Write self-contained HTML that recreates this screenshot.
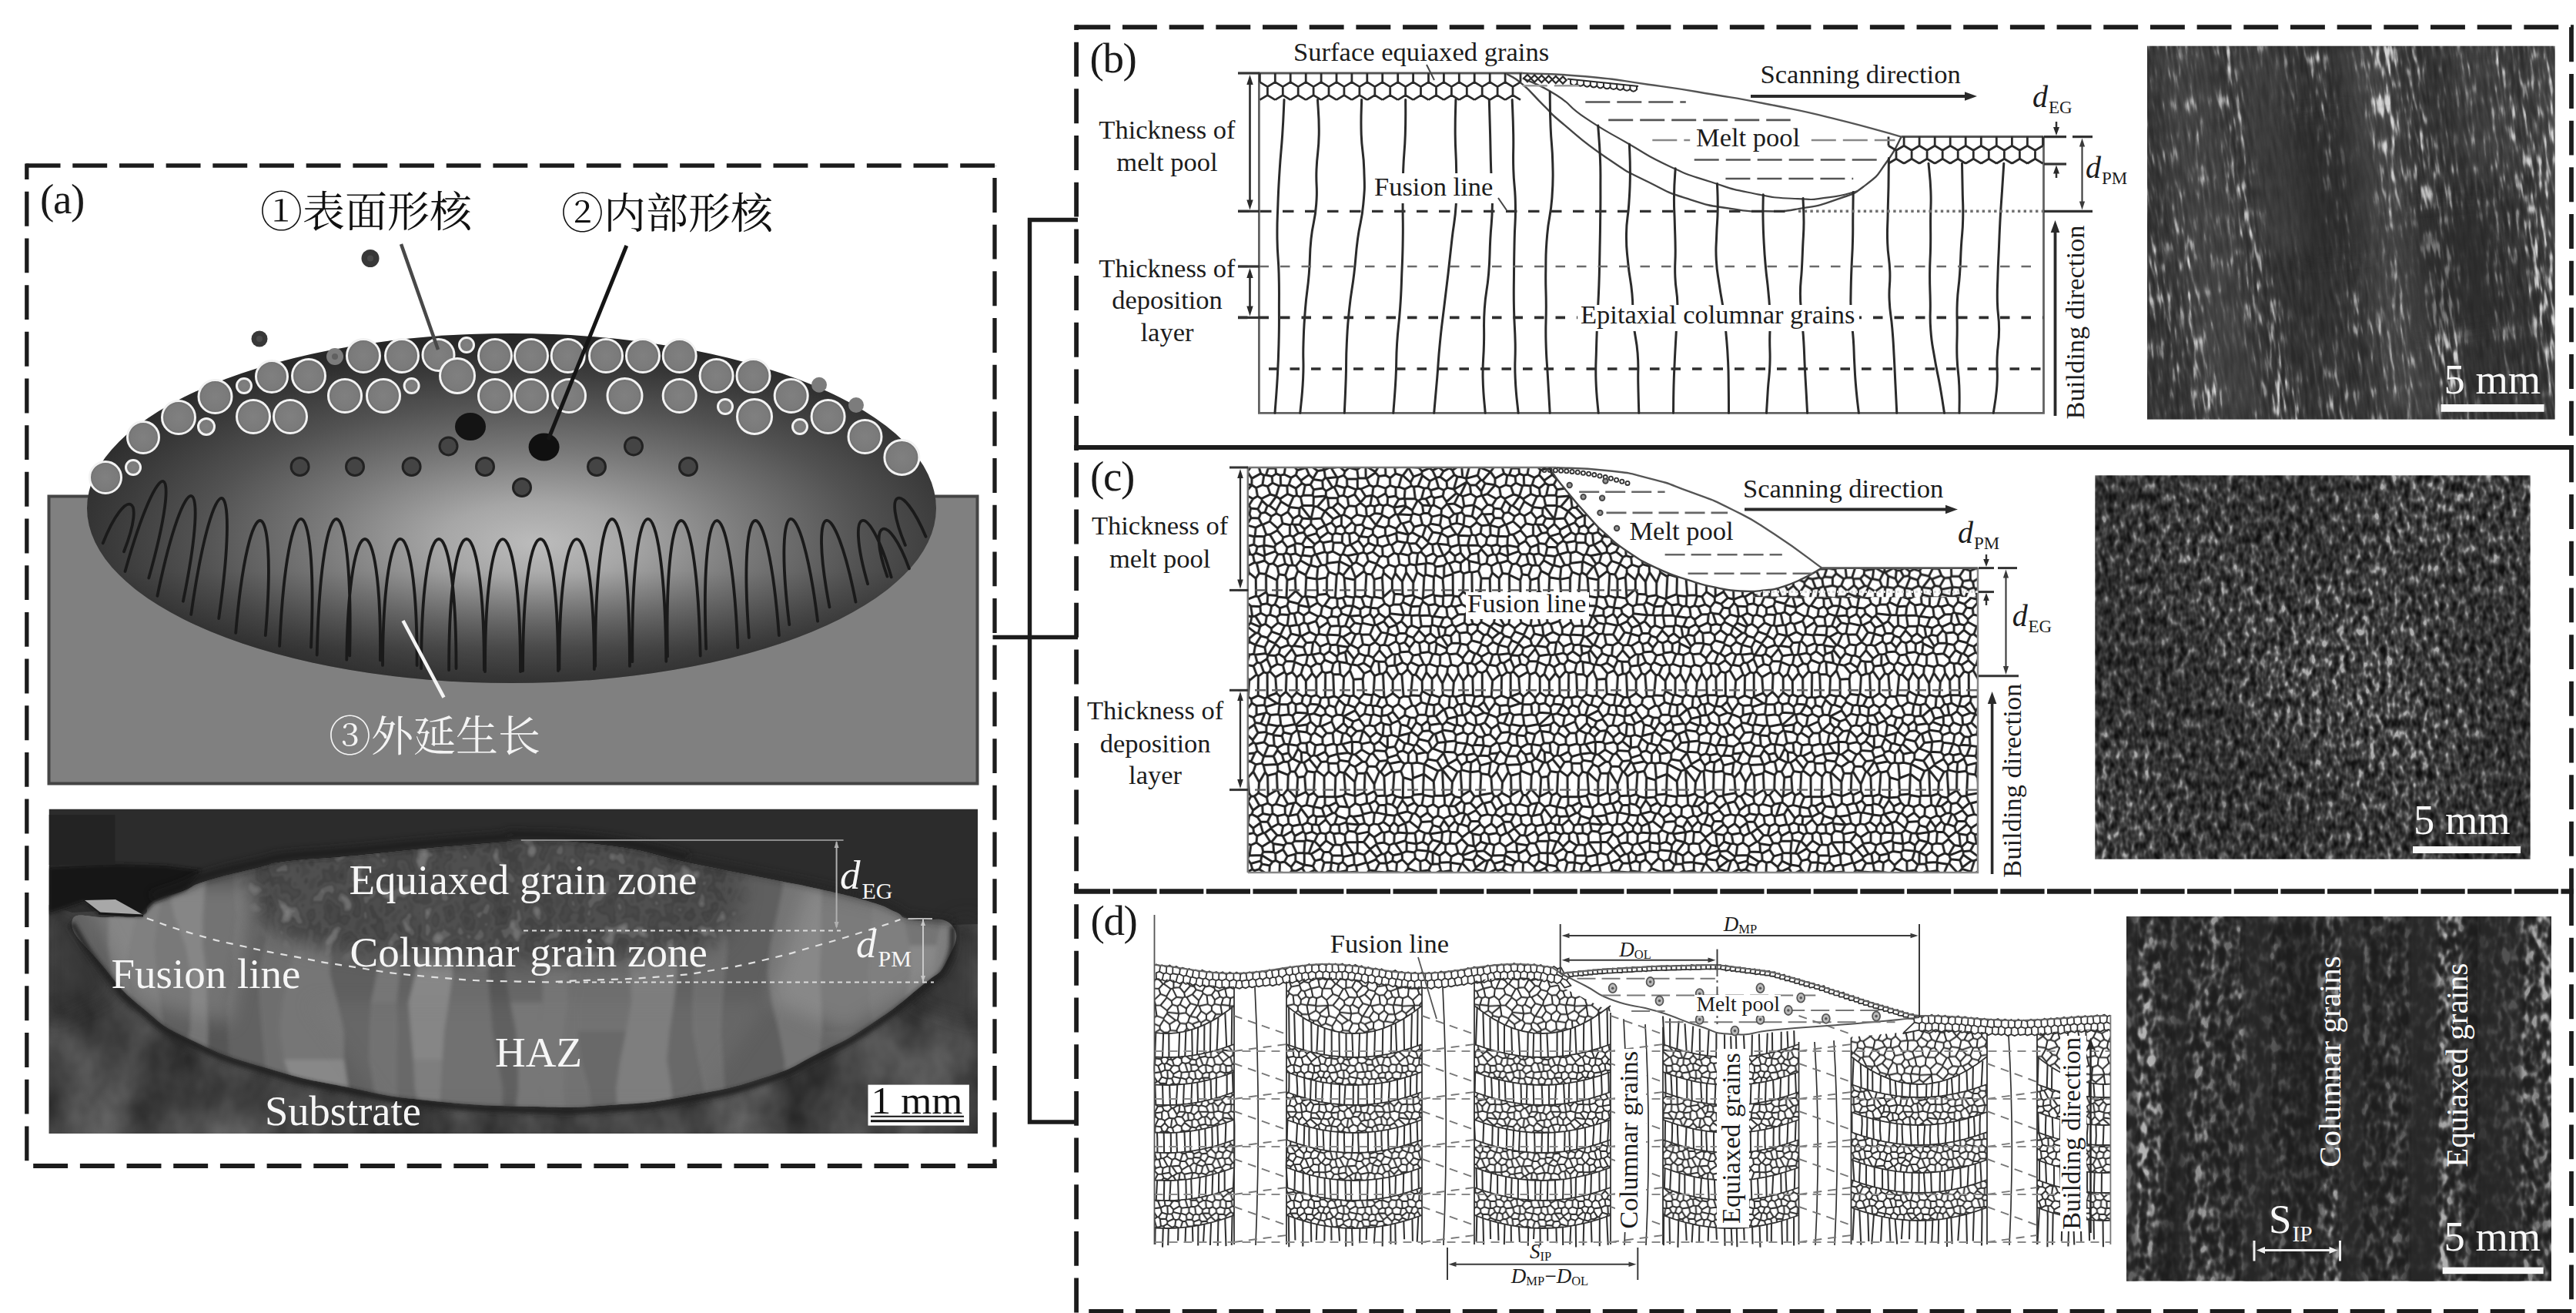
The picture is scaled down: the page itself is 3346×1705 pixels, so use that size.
<!DOCTYPE html>
<html><head><meta charset="utf-8"><title>Figure</title>
<style>html,body{margin:0;padding:0;background:#fff}svg{display:block}text{font-family:"Liberation Serif","Noto Serif CJK SC",serif}</style>
</head><body>
<svg width="3346" height="1705" viewBox="0 0 3346 1705">
<defs>
<radialGradient id="gEl" cx="0.52" cy="0.58" r="0.56" fx="0.53" fy="0.6"><stop offset="0" stop-color="#bcbcbc"/><stop offset="0.2" stop-color="#a6a6a6"/><stop offset="0.45" stop-color="#7a7a7a"/><stop offset="0.7" stop-color="#525252"/><stop offset="0.9" stop-color="#383838"/><stop offset="1" stop-color="#2c2c2c"/></radialGradient>
<linearGradient id="gElB" x1="0" y1="0" x2="0" y2="1"><stop offset="0" stop-color="#000" stop-opacity="0.12"/><stop offset="0.2" stop-color="#000" stop-opacity="0"/><stop offset="0.68" stop-color="#000" stop-opacity="0"/><stop offset="0.9" stop-color="#000" stop-opacity="0.3"/><stop offset="1" stop-color="#000" stop-opacity="0.34"/></linearGradient>
<radialGradient id="gB" cx="0.5" cy="0.5" r="0.5"><stop offset="0" stop-color="#808080"/><stop offset="0.8" stop-color="#7a7a7a"/><stop offset="1" stop-color="#6c6c6c"/></radialGradient>
<clipPath id="cAm"><rect x="63.5" y="1050.5" width="1206.5" height="421.5"/></clipPath>
<filter id="fSub" x="0" y="0" width="1" height="1" color-interpolation-filters="sRGB">
<feTurbulence type="fractalNoise" baseFrequency="0.012 0.009" numOctaves="4" seed="7" result="n"/>
<feColorMatrix in="n" type="matrix" values="0.36 0 0 0 0.09  0.36 0 0 0 0.09  0.36 0 0 0 0.09  0 0 0 0 1" result="g"/>
<feComposite in="g" in2="SourceGraphic" operator="in"/></filter>
<filter id="fLens" x="0" y="0" width="1" height="1" color-interpolation-filters="sRGB">
<feTurbulence type="fractalNoise" baseFrequency="0.016 0.0045" numOctaves="3" seed="11" result="n"/>
<feComponentTransfer in="n" result="p"><feFuncR type="discrete" tableValues="0.40 0.44 0.40 0.37 0.43 0.50 0.41 0.54 0.45 0.52 0.47 0.50"/></feComponentTransfer>
<feColorMatrix in="p" type="matrix" values="1 0 0 0 0  1 0 0 0 0  1 0 0 0 0  0 0 0 0 1" result="g"/>
<feGaussianBlur in="g" stdDeviation="1.6" result="gb"/>
<feComposite in="gb" in2="SourceGraphic" operator="in"/></filter>
<filter id="fEq" x="0" y="0" width="1" height="1" color-interpolation-filters="sRGB">
<feTurbulence type="fractalNoise" baseFrequency="0.05 0.04" numOctaves="2" seed="5" result="n"/>
<feComponentTransfer in="n" result="p"><feFuncR type="discrete" tableValues="0.19 0.21 0.24 0.27 0.25 0.30 0.27 0.37 0.44 0.48 0.5"/></feComponentTransfer>
<feColorMatrix in="p" type="matrix" values="1 0 0 0 0  1 0 0 0 0  1 0 0 0 0  0 0 0 0 1" result="g"/>
<feGaussianBlur in="g" stdDeviation="1.2" result="gb"/>
<feComposite in="gb" in2="SourceGraphic" operator="in"/></filter>
<filter id="bl6" x="-0.1" y="-0.3" width="1.2" height="1.6"><feGaussianBlur stdDeviation="5"/></filter>
<filter id="bl3" x="-0.1" y="-0.3" width="1.2" height="1.6"><feGaussianBlur stdDeviation="2.5"/></filter>
<filter id="bl12" x="-0.2" y="-0.5" width="1.4" height="2"><feGaussianBlur stdDeviation="12"/></filter>
<clipPath id="cLens"><path d="M93.6 1197.5C95.3 1180.6 115.9 1193.3 140 1191C164.1 1188.7 168.8 1194.3 184 1189C199.2 1183.7 182.7 1179.5 197 1171C211.3 1162.5 218.8 1164.2 237.7 1157C256.6 1149.8 242.1 1152 268 1144C293.9 1136 307.3 1133.7 335 1127C362.7 1120.3 340.5 1122.8 371.7 1118.8C402.9 1114.8 403.7 1116.5 452 1112C500.3 1107.5 499.1 1106.9 552.7 1102C606.3 1097.1 619.9 1096.7 653 1093.6C686.1 1090.5 639.2 1089.2 676.8 1090.5C714.4 1091.8 735.9 1090.6 794 1098.6C852.1 1106.6 841 1109.2 894.6 1120.4C948.2 1131.6 950.4 1131.5 995 1140.5C1039.6 1149.5 1026.3 1145.9 1062 1154C1097.7 1162.1 1102.1 1162.7 1129 1170.7C1155.9 1178.7 1148.4 1177.8 1162.7 1184C1177 1190.2 1163.3 1189.5 1182.8 1194C1202.3 1198.5 1223.5 1186.7 1236 1201C1248.5 1215.3 1240.4 1226.5 1229.7 1247.8C1219 1269.1 1222.9 1258.7 1196 1281C1169.1 1303.3 1164.7 1308.2 1129 1331.5C1093.3 1354.8 1097.7 1350.5 1062 1368.4C1026.3 1386.3 1039.6 1384 995 1398.6C950.4 1413.2 948.2 1413.3 894.6 1423C841 1432.7 848.6 1431.3 794 1435C739.4 1438.7 754.3 1438.7 690 1437C625.7 1435.3 616.2 1435.4 552.7 1428.7C489.2 1422 505.6 1422.7 452 1412C398.4 1401.3 405.2 1404.6 351.6 1388.5C298 1372.4 295.7 1373.2 251 1351.7C206.3 1330.2 215.3 1333.9 184 1308C152.7 1282.1 157.9 1284 133.8 1254.5C109.7 1225 91.9 1214.4 93.6 1197.5Z"/></clipPath>
<mask id="mEq"><path d="M330 1110C356.1 1086.7 371.3 1099.3 452 1090C532.7 1080.7 571.5 1070 676 1070C780.5 1070 833.7 1077.2 900 1090C966.3 1102.8 950.7 1095.8 960 1125C969.3 1154.2 963.1 1188.2 940 1215C916.9 1241.8 902.9 1231.8 861 1240C819.1 1248.2 804.3 1247.7 760.5 1250C716.7 1252.3 721.8 1251.2 673.3 1250C624.8 1248.8 604.3 1248.5 552.7 1245C501.1 1241.5 491.1 1240.4 452 1235C412.9 1229.6 411.1 1232.5 385 1222C358.9 1211.5 352.8 1216.1 340 1190C327.2 1163.9 303.9 1133.3 330 1110Z" fill="#fff" filter="url(#bl12)"/></mask>
<pattern id="pC" patternUnits="userSpaceOnUse" x="1620.8" y="607" width="316" height="566"><path d="M194.9 474l0.5 -8.1M194.9 474l11.9 1M195.4 466l8.9 -4.2M206.8 475.1l-2.3 -13.2M204.3 461.8l0.3 0.1M233.6 329.3l2.9 5.4M233.6 329.3l-8 6M225.6 335.3l1.4 7.3M227 342.6l9.1 -0.8M236.1 341.8l0.4 -7.1M150.5 486.3l7.4 -10.5M150.5 486.3l8.4 9.4M158.9 495.6l7.8 -6M167.3 488.6l-3.3 -8.3M167.3 488.6l-0.6 1.1M164 480.2l-6 -4.4M174.2 501.7l-7 4.1M174.2 501.7l-7.5 -12.1M158.9 495.6l-0.2 0.6M167.2 505.8l-8.5 -9.5M150.5 486.3l-8 0.3M142.5 486.6l-0.3 14M142.2 500.5l8.8 2.6M158.7 496.3l-7.6 6.9M166.7 508.9l0.5 -3.1M166.7 508.9l-11.6 5.4M151.1 503.1l2.6 9.9M155 514.2l-1.4 -1.2M166.7 508.9l4.2 4.9M155 514.2l2.8 8.8M157.8 523l7.8 0.9M170.9 513.8l-5.3 10.2M168 537.5l-1 -12.4M157.9 540.8l-2.7 -14.1M157.8 523l-2.7 3.6M165.7 524l1.3 1.1M178.4 538.3l1.2 -12.3M167 525.1l12.6 1M205.1 535.7l-2.4 -8.6M189.8 537.2l2.9 -11.7M202.7 527.1l-9.9 -1.5M192.7 525.5l0 0M181.9 523.7l-2.4 2.3M181.9 523.7l10.8 1.8M193.6 513.3l7.1 -4.2M193.6 513.3l-0.9 12.2M200.7 509.2l7.4 7.3M208.1 516.4l0.2 4.3M208.3 520.7l-5.6 6.4M204.7 484.5l1.7 2.4M204.7 484.5l2.1 -9.4M206.8 475.1l10.4 -0.4M206.4 486.9l12.5 1.8M217.2 474.7l1.7 14M140.7 517.3l12.9 -4.2M140.7 517.3l1.3 7.7M155.1 526.7l-10.9 1.8M142 525l2.1 3.5M26.4 529.1l1.4 -1.1M27.8 527.9l11.1 0.2M38.9 528.1l2.2 6.8M274 35.4l-5.8 11.8M274 35.4l-3.1 -2M270.9 33.4l-12.8 11.1M268.2 47.1l-8.7 0.7M258 44.5l0.5 3M258.6 47.5l1 0.4M261.5 65.9l-9.8 -3.9M261.5 65.9l6.5 -5.5M251.7 61.9l-0.6 -0.9M251.6 54.3l-0.5 6.8M251.6 54.3l7 -6.8M268 60.3l-8.5 -12.5M251.7 61.9l-2.2 13.3M251.1 61.1l-12 3M239.1 64.1l-2.1 8.9M237.1 73l12.5 2.2M104.3 84.3l-3.6 -9M104.3 84.3l-10.9 7.7M89.6 80.9l10.7 -5.8M89.6 80.9l-0.3 4.7M100.4 75.2l0.4 0.1M89.3 85.6l4.1 6.4M95.3 66.1l-13.2 1M95.3 66.1l5.1 9.1M82 73.3l0.2 -6.2M82 73.3l7.6 7.7M82.1 67.1l-12.5 -16.1M82.1 67.1l0 0M82.1 67.1l-11.1 -1.2M66.8 61.9l4.3 4M66.8 61.9l0.2 -8.7M67 53.1l2.6 -2.2M85 49.6l0.7 0.8M85 49.6l-14.2 -0.3M85.8 50.4l-3.7 16.6M70.9 49.3l-1.3 1.7M85.5 28.7l-4.1 -6.3M85.5 28.7l12 -1.8M97.5 26.8l-0.6 -9.6M97 17.2l-11.9 -1.8M81.4 22.3l3.7 -6.9M204.7 484.5l-13 4.2M206.4 486.9l-0.3 11.5M206.1 498.4l-5.7 2.6M200.4 501l-8.8 -12.3M206.1 498.4l10.5 1.5M200.7 509.2l-0.4 -7.8M208.1 516.4l9.6 -9M216.6 499.9l1 7.5M200.4 501l-0.1 0.3M194.9 474l-4.5 2.5M190.4 476.5l-0.5 11.4M206.8 475.1l0 0M191.7 488.7l-1.8 -0.8M211.4 537.5l11.3 -10M227.9 539.5l-5.2 -12M208.3 520.7l14.5 5.3M222.8 526l-0.1 1.5M224.2 524.6l-0.2 -13.1M224.2 524.6l10.7 -1.5M234.9 523.1l3.3 -7.2M238.2 515.9l-7.2 -6.7M231 509.2l-7.1 2.4M222.8 526l1.4 -1.4M217.7 507.4l6.3 4.1M157 473.1l0.8 -7.5M157 473.1l-15.3 3M157.7 465.6l-6 -3.5M151.7 462.1l-7.5 1.9M144.3 464l-0.1 0.1M144.2 464l-4.9 9.2M141.7 476.1l-2.3 -2.9M142.5 486.6l-0.2 -0.2M157.9 475.8l-1 -2.7M142.4 486.4l-0.7 -10.3M144.2 528.5l-3.9 8.5M38.9 528.1l2.2 -2.2M53.6 535l0.5 -7.8M41.1 525.9l13.1 1.3M27.8 527.9l0.7 -10.9M36.2 510.4l5.5 2.9M36.2 510.4l-4 1.8M41.1 525.9l0.6 -12.6M32.1 512.2l-3.7 4.9M104 536.5l-4.5 -9.3M99.5 527.2l-3.7 -1.3M88 534.4l3.5 -7.9M95.8 525.9l-4.4 0.6M211.7 179.9l-10.5 -5M211.7 179.9l5.3 -12.3M201.2 175l2 -7.1M203.2 167.8l11.5 -2.1M216.9 167.6l-2.2 -1.9M207.7 208.4l-2.7 7M207.7 208.4l5.1 -3.1M205 215.3l2.6 3.1M212.8 205.2l9.7 3.9M214.9 221.1l-7.3 -2.6M214.9 221.1l7.4 -9.3M222.3 211.8l0.2 -2.7M198.3 177.9l2.9 -2.9M198.3 177.9l4.6 13.8M202.9 191.7l7.6 -0.2M211.7 179.9l0.4 0.8M212 180.7l-1.6 10.7M184.7 189.7l-1.2 2.8M184.7 189.7l18.1 2.1M183.5 192.4l9.7 11.2M193.1 203.6l6.3 -3.9M202.7 191.8l-3.3 7.9M188.7 178.1l-4.7 2.4M188.7 178.1l9.6 -0.2M202.9 191.7l-0.1 0.1M184.1 180.5l0.6 9.1M196.2 215.4l8.8 -0.1M196.2 215.4l-3.3 -11.1M207.7 208.4l-8.2 -8.6M192.9 204.4l0.2 -0.8M212.8 205.2l-0.3 -12.6M210.5 191.4l2.1 1.2M179.1 195.5l4.4 -3M179.1 195.5l-8.7 -5.9M184.1 180.5l-6.2 -3.7M170.4 189.5l-1.7 -6.4M168.7 183.1l9.1 -6.3M174.5 142.6l-10.5 2.8M174.5 142.6l1.5 25.8M164.1 145.4l0.1 22.7M164.2 168l11.1 2.1M176.1 168.4l-0.8 1.7M176.4 136.8l-0.2 -5.7M176.4 136.8l-1.9 5.8M160.9 138.9l6.4 -13.3M160.9 138.9l3.2 6.5M176.3 131.2l-9 -5.6M245.9 116l-5 -4.5M245.9 116l-4.4 9.5M241.5 125.5l-9.5 -1.6M232 123.9l-0.9 -7.9M241 111.6l-9.9 4.4M267.8 28.5l16 -9.2M267.8 28.5l3 4.9M274 35.4l2 0.4M283.9 19.3l-7.9 16.5M273.2 87.8l-2.7 -1.1M273.2 87.8l7.5 -12.2M270.5 86.7l-7.5 -10.9M280.7 75.6l-0.5 -1M280.2 74.6l-9 -2.2M271.2 72.4l-7.6 1.8M263.6 74.2l-0.6 1.6M261.5 65.9l2.1 8.4M268 60.3l4.2 -0.3M272.3 60.1l-1.1 12.4M249.6 75.2l3.3 5.1M252.9 80.3l10.1 -4.5M253.9 114.4l-6.7 -15.1M253.9 114.4l1 0.3M263.6 103.5l-3.1 -3.1M263.6 103.5l-1.8 5.1M255 114.7l6.8 -6.1M247.3 99.3l13.2 1.1M252.9 80.3l-1.5 5.2M270.5 86.7l-10.9 3.8M251.3 85.5l8.3 5M84.2 36.2l1.3 -7.6M84.2 36.2l1.2 2.1M97.5 26.8l4 3.9M85.5 38.3l15.9 -1.3M101.5 30.7l-0.1 6.3M104.3 84.3l5.7 3.2M100.7 75.3l8.1 -3.8M110.1 87.5l3.5 -2.3M113.6 85.3l0.8 -7.4M108.8 71.5l5.5 6.4M154.3 112.6l2.2 8.8M154.3 112.6l8 -3.2M156.5 121.4l10.6 3.7M167.1 125.1l4.2 -8.7M162.3 109.4l9 7M181.7 116.7l-6.3 -2.1M181.7 116.7l1.2 9.5M182.8 126.2l-6.5 5M167.2 125.5l-0.2 -0.4M175.3 114.6l-4 1.8M162.5 86.6l-6 4.3M162.5 86.6l5.9 5.1M156.5 90.9l0.2 7.2M156.6 98l9.5 4.1M168.3 91.7l0.2 9M166.1 102.1l2.4 -1.5M162.4 80.6l0.1 5.9M162.4 80.6l-10.7 -2.6M151.7 78l-5 11.4M146.7 89.4l9.8 1.4M174.7 103.2l-6.2 -2.6M174.7 103.2l0.6 11.5M162.3 109.4l3.8 -7.3M162.4 80.6l4 -5.4M178.8 88.1l-10.5 3.6M178.8 88.1l-0.4 -9.5M166.4 75.2l12 3.3M55.2 394.9l-2.7 4.5M55.2 394.9l6.2 0.2M52.4 399.3l-0.6 18.5M61.3 395.1l3.5 7.3M64.9 402.4l-1.4 24.7M51.9 417.8l10.4 10.9M62.3 428.8l1.2 -1.7M73.8 401.3l-8.9 1.1M73.8 401.3l1.5 20.2M63.5 427.1l11.8 -5.6M116.9 384.1l1.7 11.1M116.9 384.1l-12.1 0.2M118.6 395.2l-4.6 6.1M104.8 384.3l0.3 10.5M113.9 401.4l-8.8 -6.6M73.8 401.3l3.3 -6.9M75.3 421.4l3.5 4.3M77.1 394.4l9.8 1.7M86.9 396l-1.3 26.6M85.6 422.7l-6.8 3.1M138.9 426.6l0.1 -18.1M138.9 426.6l-12.1 -3.1M139 408.5l-13.4 -12.7M126.9 423.5l-2 -26.9M124.8 396.7l0.7 -0.8M142.2 397.2l-3.3 11.3M142.2 397.2l9.8 -0.3M139.2 427.1l12.1 -4.7M139.2 427.1l-0.3 -0.5M151.3 422.4l0.8 -25.4M67.3 74l-7.2 0.3M67.3 74l6.4 6.2M60.1 74.3l5.7 11.1M65.8 85.4l7 -1M72.8 84.4l1 -4.2M82 73.3l-8.2 6.9M82.1 67.1l0 0M71 65.9l-3.7 8.1M76 89.6l13.3 -4M76 89.6l-3.2 -5.3M90.6 4.5l-10.7 -8.2M90.6 4.5l-5.8 10.1M76.7 -1l3.3 -2.8M76.7 -1l-1 1.2M84.9 14.6l-5.4 -5.2M75.7 0.3l3.8 9.1M67 53.1l-12.8 -1.5M70.9 49.3l-2.4 -10.8M59.5 37.7l4.2 -1.3M59.5 37.7l-5.8 13M54.2 51.7l-0.5 -1M63.7 36.5l4.8 2.1M84.2 36.2l-12.5 0M81.4 22.3l-6.8 0.6M71.7 36.2l2.8 -13.3M85.5 38.3l-0.4 11.3M71.7 36.2l-3.2 2.3M-1.2 -10.6l-13.4 10.4M20.9 10.4l-4.1 -2.5M20.9 10.4l2.8 -0.6M16.8 7.9l-2.5 -8.5M23.7 9.7l2.9 -9.1M14.3 -0.6l8.2 -4.7M26.6 0.7l-4.1 -6M14.3 -0.6l-7.9 -3.6M43.5 -4.1l5.3 3.3M43.5 -4.1l-6.9 4.1M48.8 -0.8l-1.6 9.8M36.6 0l-0.5 1.1M36.1 1.1l0.5 6.9M36.6 8l5.7 2.4M47.2 9l-4.8 1.4M59.1 -2.9l-10.3 2.1M59.1 -2.9l0 -8.6M30.5 -9.5l6.1 9.5M26.6 0.7l9.5 0.4M23.7 9.7l7.7 2.1M31.4 11.9l5.3 -3.8M31.4 11.9l0.6 8.2M42.8 23l-2.1 1.1M42.8 23l-0.4 -12.5M40.7 24.1l-8.7 -4.1M20.9 10.4l-1.9 12.3M18.9 22.6l6.8 2M25.7 24.7l6.3 -4.6M66.8 61.9l-8 4.6M54.2 51.7l-2.3 6.2M51.9 57.8l6.9 8.6M60.1 74.3l-2.9 -1M58.8 66.5l-1.5 6.8M51.5 34.4l8 3.3M51.5 34.4l-9.6 6.4M53.7 50.7l-10.6 -6.5M41.9 40.9l1.2 3.3M23.9 87.2l4.8 -0.1M23.9 87.2l-2.4 2.6M21.5 89.8l-0.4 11.1M28.7 87.2l7.7 13M36.4 100.2l-1.7 3.3M34.7 103.5l-13.6 -2.5M-12.9 143.7l11.3 0.1M-1 171.2l-0.6 -27.3M-1 171.2l-7.5 -1.8M218.9 488.7l0.1 0.2M216.6 499.9l2.6 -3.1M219 488.9l0.2 8M188.7 503.8l-6.3 -5.4M188.7 503.8l-0.8 7.1M187.9 510.9l-7.9 3.4M178 502l1.8 12.1M178 502l4.3 -3.7M180 514.2l-0.2 -0.2M200.3 501.3l-11.6 2.5M184.2 490.5l5.7 -2.6M184.2 490.5l-1.8 7.8M193.6 513.3l-5.7 -2.5M181.9 523.7l-1.9 -9.5M174.2 501.7l3.9 0.4M170.9 513.8l8.9 0.3M177.1 487.1l7.1 3.5M177.1 487.1l-9.8 1.5M289.1 395.7l-0.4 23.7M289.1 395.7l-0.1 -0.1M288.7 419.4l-10.4 6.7M289 395.6l-11.3 -2.7M277.7 392.9l-1.6 1.5M278.3 426.1l-2.1 -31.7M252.7 392.5l1.4 33.5M252.7 392.5l12.9 16.1M254.1 426l1.1 0.8M255.2 426.8l9.4 -3M264.6 423.7l1 -15.1M252.6 392.2l6.9 -5.5M252.6 392.2l0.2 0.3M259.5 386.7l12.9 8.6M265.7 408.6l6.7 -13.4M234.9 523.1l4.6 5.7M239.9 537l-0.4 -8.2M238.2 515.9l1.9 -0.7M240.1 515.2l8.3 -0.5M248.4 514.7l2.4 9.1M239.5 528.8l11.3 -5.1M233.6 329.3l0.5 -5.7M225.6 335.3l-6.8 -4.3M234.1 323.6l-3 -2.4M231 321.2l-9.6 0.1M218.8 331l-0.8 -5.6M221.4 321.3l-3.5 4.1M305.2 350.2l-6.5 -0.6M305.2 350.2l1.1 10.7M298.7 349.6l-4.6 10.7M306.4 360.9l-12.2 -0.6M314.8 346.8l-6.2 0.9M314.8 346.8l7.6 7.2M315.3 362.5l-8.6 -1.2M315.3 362.5l7.9 -5.3M305.2 350.2l3.3 -2.4M306.4 360.9l0.3 0.4M286 347l-1.7 11.6M286 347l6.7 -3.2M284.3 358.6l7.4 3.3M298.7 349.6l-6 -5.8M294.1 360.3l-2.4 1.7M241.7 322.5l0.2 -13.8M241.7 322.5l2.5 0.7M244.2 323.2l10.5 -9.2M254.7 314l-6.6 -7.5M248 306.5l-6.2 2.2M234.1 323.6l7.6 -1.1M231 321.2l2.1 -13.4M233.2 307.7l0.9 -0.4M234.1 307.3l7.8 1.4M236.5 334.6l13.6 -2.2M250.1 332.4l-5.9 -9.3M250.1 332.4l2.7 2.2M252.8 334.6l4.7 -4.2M255.3 314.1l4.6 12.1M255.3 314.1l-0.6 -0.1M257.5 330.3l2.3 -4.1M234.1 307.3l2.9 -11M239.1 295l-2.1 1.3M239.1 295l10.2 3.6M249.4 298.6l-1.3 7.9M255.9 438.2l-8.4 3.8M255.9 438.2l4.7 2.4M254.6 456l8.3 -4M254.6 456l-7.7 -3.8M247 452.1l0.6 -10.1M260.6 440.6l2.4 11.3M241.3 346.1l2.3 -0.1M241.3 346.1l-6.6 9.7M234.7 355.8l4.3 9.4M238.9 365.2l1.7 -0.2M240.7 365.1l5.9 -7.5M246.6 357.6l-3 -11.6M241.3 346.1l-5.1 -4.3M253 341l-0.8 1.4M253 341l-0.2 -6.4M243.6 346l8.6 -3.7M259.5 386.7l0.6 -1.5M277.5 386.8l0.3 6.2M277.5 386.8l-5.8 -8.1M272.3 395.2l3.9 -0.8M260.1 385.2l11.6 -6.6M252.6 392.2l-0.1 0M245.7 381l6.8 11.2M245.7 381l8.6 -10.4M260.1 385.2l-5.9 -14.6M271.1 357.2l-1.5 -2M271.1 357.2l-2.5 12.7M269.5 355.1l-12.4 1.1M268.6 369.9l-13.1 -0.6M255.5 369.3l1.4 -12.8M257.2 356.2l-0.2 0.3M279.2 371.6l4.7 -12.8M279.2 371.6l-7.1 2.4M283.9 358.8l-12.8 -1.6M272 374l-3.5 -4.1M254.2 370.6l0 -0.3M254.3 370.3l1.3 -1M272 374l-0.4 4.6M240.7 365.1l13.6 5.3M246.6 357.6l10.3 -1.1M252.2 342.3l5 13.9M279.3 336.6l-7.6 -2.7M279.3 336.6l0.9 7.2M280.2 343.8l-9.8 3.9M269.9 335.4l1.8 -1.6M269.9 335.4l-3 7.7M266.9 343.1l3.5 4.5M284.5 331.1l-5.2 5.5M284.5 331.1l10.5 4.3M286 347l-5.9 -3.3M292.7 343.8l2.4 -8.5M284.3 358.6l-0.4 0.2M269.5 355.1l0.8 -7.5M271.5 323.5l0.2 10.3M271.5 323.5l-11.6 2.7M257.5 330.3l12.4 5.1M253 341l13.9 2.1M198.8 394.3l-8.6 2M198.8 394.3l3 8.2M190.2 396.2l-2 28.2M201.1 429.3l0.3 -0.2M201.1 429.3l-9 -2.2M192.1 427.1l-3.9 -2.6M201.8 402.5l-0.4 26.6M200.9 432.3l6.1 7.8M200.9 432.3l-7 10.9M193.9 443.2l0.6 6.8M207.5 446.8l-0.5 -6.8M207.5 446.8l-12.8 3.2M194.7 450l-0.3 -0.1M201.1 429.3l-0.2 3M192.1 427.1l-4.2 11M187.9 438.1l6 5M210 459.3l-5.5 2.6M210 459.3l4 -9.4M204.3 461.8l-9.5 -11.8M214.1 449.8l-6.6 -3M189.8 460.8l5.6 5.2M189.8 460.8l0.9 -8.6M190.7 452.2l3.7 -2.3M245.7 381l-11.9 -2.1M252.4 392.2l-5.4 2M247 394.2l-17.5 -9.1M229.5 385.1l4.3 -6.2M238.9 365.2l-5 6.1M233.8 378.9l0.2 -7.6M144.2 464l-15.6 -1.5M139.3 473.2l-8.9 -1.3M128.6 462.5l1.9 9.5M176 460.2l-6.5 3.7M176 460.2l8.5 6.2M169.5 463.9l5 9.3M184.5 466.4l-0.2 5.8M184.3 472.2l-7.2 2.2M177.1 474.4l-2.7 -1.2M163.2 462.6l6.3 1.3M163.2 462.6l1.3 -13.5M179.8 450.9l-13.1 -2.8M179.8 450.9l-3.9 9.3M164.4 449l2.3 -0.9M189.8 460.8l-5.3 5.7M190.7 452.2l-10.9 -1.3M179.8 450.9l0 0M164 480.2l10.5 -7M163.2 462.6l-5.4 3M190.4 476.5l-6.1 -4.3M177.1 487.1l0.1 -12.7M315.3 362.5l-0.9 9.4M314.4 371.9l-1.4 2.8M306.7 361.2l-4.8 12.6M313 374.7l-11.1 -0.8M314.4 371.9l10.9 -1.2M217.2 474.7l4.7 -3.8M227.5 486.1l-8.5 2.8M227.5 486.1l2.3 -11.4M229.8 474.7l-7.9 -3.7M236.7 475.9l15.9 -2.3M236.7 475.9l-0.9 -1M252.6 473.6l-3.2 -6.3M249.4 467.3l-9 -2.7M235.8 474.9l4.6 -10.3M210 459.3l11.8 9.4M221.8 468.6l0 2.3M18.2 503.4l-1.4 7.5M18.2 503.4l13.9 8.8M28.5 517l-10.3 -2.1M18.2 514.9l-1.4 -4M26.4 529.1l-11.5 -7.3M18.2 514.9l-3.2 6.8M10.4 536l-1.6 -12.5M14.9 521.7l-6.2 1.7M142 525l-12.5 1.1M129.5 526l0.3 10.4M118.3 515.1l-1.9 10.8M118.3 515.1l-9.6 -2.2M108.7 512.9l0 0M108.7 512.9l-1.4 10.7M107.3 523.7l8.3 3.1M115.7 526.8l0.7 -0.9M99.5 527.2l7.8 -3.6M99.2 513l-3.4 12.9M99.2 513l9.5 -0.1M117.1 536.3l-1.4 -9.5M129.5 526l-1.2 -2.5M128.4 523.5l-12 2.4M128.4 523.5l0.8 -5.3M118.3 515.1l5 -2.8M123.3 512.3l5.9 5.9M142.2 500.5l-4.6 2.3M140.7 517.3l-2.4 -1.7M137.6 502.8l0.7 12.8M138.3 515.6l-9.1 2.6M142.4 486.4l-15.7 0.5M130.4 472l-4.3 5M126.7 486.9l-0.5 -9.9M75.4 528.5l-1.1 6.5M75.4 528.5l11.7 -5.9M87.1 522.7l4.3 3.8M75.4 528.5l-4.6 -8.3M62.3 524.2l8.5 -4M62.3 524.2l6.6 12.3M54.2 527.2l3.4 -4M62.3 524.2l-4.8 -0.9M99.2 513l-3.5 -4.3M84.6 517.7l2.8 -7M84.6 517.7l2.5 4.9M95.7 508.7l-8.3 2M196.5 229.7l1.6 10.3M196.5 229.7l7.2 -2.6M203.7 227.1l6.5 6.9M198.1 240l11.3 -1M209.4 239l0.9 -5.1M196.2 215.4l-3.7 3.6M207.7 218.5l-3.9 8.6M192.5 219l0.1 6.8M192.6 225.8l3.9 3.8M214.9 221.1l2 4.5M217 225.6l-6.7 8.4M214.7 244.1l8.1 -1.3M214.7 244.1l-5.3 -5.1M222.8 228.2l-5.9 -2.7M222.8 228.2l1.6 12.7M224.5 240.9l-1.7 1.9M195.2 113l-5.1 -2.1M195.2 113l1.8 12.9M190.2 110.9l-8.5 5.8M182.8 126.2l9.2 3.1M197 125.9l-4.9 3.5M227.5 170l1.5 -28.1M227.5 170l13.5 -5.4M241 164.6l0.6 -22.3M241.6 142.3l-10.7 -3.2M230.8 139.1l-1.9 2.8M225.4 206.3l-2.9 2.8M225.4 206.3l12.2 -0.1M237.5 206.2l-0.3 9.3M222.3 211.8l8.2 8.3M237.3 215.5l-6.8 4.5M222.8 228.2l6.8 -3.3M229.7 225l0.9 -4.9M223.5 192.4l-0.8 -0.6M223.5 192.4l12.9 -0.5M222.7 191.8l1.3 -11.7M236.4 191.9l-2 -12.9M234.5 179l-7 -4.8M227.5 174.3l-3.5 5.9M225.4 206.3l-1.9 -13.9M212.5 192.6l10.2 -0.8M237.5 206.2l1.9 -1.8M239.8 194.1l-0.4 10.4M239.8 194.1l-3.4 -2.2M212 180.7l12 -0.6M226.8 170.9l0.7 -0.9M226.8 170.9l0.7 3.4M243.3 177.4l-0.9 -11M243.3 177.4l-8.8 1.6M242.4 166.3l-1.4 -1.8M226.8 170.9l-9.8 -3.3M239.8 194.1l1.6 -0.8M243.3 177.4l5.5 3.2M241.4 193.3l7.3 -12.7M242.4 166.3l11.4 1.1M253.8 167.5l-0.3 12.2M248.7 180.6l4.8 -0.9M142.2 397.2l-3 -8.4M125.6 395.8l7 -10.4M139.2 388.8l-6.7 -3.3M203.9 321.7l6.6 3.1M203.9 321.7l-7.7 5.4M210.5 324.8l-3.1 11.2M196.3 327.1l-0.4 1.6M195.8 328.7l2.9 5.2M207.5 336l-8.7 -2.1M218.8 331l-6.2 9.5M218 325.3l-7.4 -0.5M212.5 340.5l-5.1 -4.4M239.3 274.7l-0.2 20.3M239.3 274.7l-7.4 -8.7M237 296.3l-10.4 -5.8M226.6 290.5l-0.3 -13.2M226.2 277.3l5.7 -11.3M245.8 267.9l0.7 -9M245.8 267.9l-6.5 6.8M246.5 258.9l-10.7 -3.8M235.8 255.1l-3.9 2M231.9 266l-0.1 -8.9M170.7 395l-4.1 -6.6M170.7 395l-6.5 16.5M153.9 394.9l10.4 16.6M153.9 394.9l2.2 -6.9M166.6 388.4l-10.5 -0.5M152.1 396.9l1.8 -2.1M149 381.9l-9.8 6.9M149 381.9l4.4 0.5M156 387.9l-2.6 -5.6M177 401.2l10.8 -6.9M177 401.2l-4.3 -5.9M187.8 394.3l-3.7 -9.5M172.7 395.3l8.9 -13.2M184.1 384.8l-2.5 -2.7M148.8 195.5l0.1 6.6M148.8 195.5l9.9 -5.3M148.9 202.1l14.5 3.1M158.7 190.2l4.7 5.9M163.4 196.1l1.6 8.2M165.1 204.3l-1.6 0.9M170.4 189.5l-7 6.5M159.6 182.3l9.1 0.8M159.6 182.3l-0.9 7.9M146.1 192.1l-13 1.1M146.1 192.1l2.7 3.4M133.1 193.2l5.7 8.6M148.9 202.1l-1.6 1.6M138.8 201.8l8.5 1.8M158.7 216.8l-11.5 0.4M158.7 216.8l4.8 -11.6M147.2 217.1l-2.2 -1.5M147.3 203.7l-2.3 12M176.7 199.8l6.3 8.2M176.7 199.8l-9.4 4.8M167.3 204.6l6.1 9.5M173.4 214.1l8 1.5M183 208l-1.6 7.6M192.9 204.4l-9.9 3.7M179.1 195.5l-2.4 4.4M165.1 204.3l2.3 0.3M158.7 216.8l6.6 9.5M165.3 226.3l8.2 -12.2M192.5 219l-10.8 -3M181.7 216l-0.2 -0.3M276.5 110.8l6.2 8.1M276.5 110.8l-7.5 4.2M282.7 118.8l-6.2 5.2M276.5 124l-7.5 -2.4M269.1 115l-0.1 6.7M288.7 89l-3.1 12M288.7 89l-15.3 -0.7M285.6 101.1l-9.9 0.2M273.4 88.3l0.8 11.9M274.2 100.2l1.4 1.1M291.1 87.1l4.5 1.6M291.1 87.1l-2.4 2M285.8 101.2l-0.2 -0.1M285.8 101.2l13.1 -0.3M295.6 88.6l3.3 12.2M288.9 78l-8.2 -2.4M288.9 78l2.2 9M273.2 87.8l0.3 0.5M263.6 103.5l10.7 -3.3M260.5 100.4l-0.9 -9.9M261.7 108.6l7.3 6.4M276.5 110.8l-0.9 -9.5M154.3 112.6l-3.8 -2.3M156.6 98l-6.2 5.9M150.4 110.3l0 -6.4M146.7 89.4l-1.6 0.6M145 90.1l-1.5 4.9M150.5 103.9l-6.9 -8.9M253.9 114.4l-8 1.6M241 111.6l-1.3 -11.4M247.3 99.3l-1.3 -0.8M239.6 100.2l6.3 -1.7M251.3 85.5l-0.3 0.3M246 98.5l5 -12.7M237.1 73l-3.2 3.1M233.8 76.1l6.3 7.9M240.1 84l10.8 1.8M241.5 125.5l2.3 3.6M231 124.8l-0.2 14.3M231 124.8l0.9 -0.8M241.6 142.3l1.5 -3.2M243.8 129.1l-0.7 10.1M254.9 166.2l-1.1 1.3M254.9 166.2l-1.7 -21.4M243.1 139.1l10.2 5.7M255.3 314.1l6 -2.8M249.4 298.6l4 -3.4M261.3 311.3l1 -13.4M262.3 297.9l-8.9 -2.7M245.8 267.9l7 12.6M253.4 295.2l-0.6 -14.7M273 307.3l-5.7 5.7M273 307.3l3.9 0.6M276.9 307.9l2.1 13.7M267.3 312.9l5 9.6M272.3 322.5l6.7 -0.9M261.3 311.3l6.1 1.6M271.5 323.5l0.9 -1M284.5 331.1l-3 -9.1M281.5 322l-2.5 -0.5M272.3 60.1l5.6 -2M268.2 47.1l10.6 6M278.9 53.2l-1 4.9M280.2 74.6l1.1 -12.2M281.3 62.4l-3.4 -4.4M208.4 -2.2l-17.8 2.4M208.4 -2.2l-1.2 -5.8M194.1 -8.6l-4.4 6.9M189.6 -1.7l1 1.9M192.8 85.4l1.2 10.4M192.8 85.4l-12.2 4.2M194.1 95.8l-7.4 5.2M180.6 89.7l3.2 10M186.7 101l-2.8 -1.3M178.8 88.1l1.8 1.6M174.7 103.2l9.1 -3.5M190.2 110.9l-3.5 -9.9M178.3 78.5l4.4 -3.3M182.7 75.3l10 4.1M192.8 85.4l0.8 -1.6M192.7 79.4l1 4.5M231 124.8l-12.1 1.4M231.1 116l-6.1 -6.4M219 126.2l1.9 -14.7M225 109.5l-4.1 2M97 17.2l3.6 -3.8M100.6 13.4l2.2 0.6M101.5 30.7l8.5 -4.8M102.8 14.1l7.2 11.9M151.7 78l-3.2 -4M138.7 84.1l6.4 5.9M138.7 84.1l1.2 -8.8M148.5 74l-8.6 1.3M146.3 46.1l-5.9 4.3M146.3 46.1l7.1 5.4M153.4 51.5l1 11.4M154.4 62.9l-1.8 1M152.6 63.9l-10.9 -2.6M140.5 50.4l1.3 10.9M146.3 46.1l0 -0.6M129.4 39.2l9.3 -4.2M129.4 39.2l1.6 10.6M131 49.8l9.5 0.6M138.7 35l7.7 10.6M129 24.1l11.5 4.6M129 24.1l-0.3 -9.4M128.7 14.7l13.8 0.4M142.4 15l0.1 12.2M142.6 27.2l-2.1 1.5M124.4 36.2l1.8 -9.4M124.4 36.2l-6.1 1.4M118.3 37.6l-6 -12M126.2 26.8l-11.5 -3.6M114.7 23.2l-2.4 2.4M129 24.1l-2.8 2.6M129.4 39.2l-5 -3M138.7 35l1.8 -6.2M131 49.8l-4.4 4.3M126.6 54.1l-9.8 -8.3M116.9 45.8l-0.4 -6.2M116.5 39.7l1.8 -2M128.7 14.7l-4 -4.5M116.8 13.1l7.9 -3M116.8 13.1l-2.1 10.1M102.8 14.1l12.9 -1.5M109.9 25.9l2.4 -0.3M116.8 13.1l-1.2 -0.5M239.1 64.1l-4.4 -4.7M233.8 76.1l-2.6 0.4M231.2 76.5l-4.4 -2.3M234.8 59.4l-6.6 -0.1M228.1 59.3l-4.3 2.8M223.8 62.1l3 12M208.4 -2.2l0.7 1.4M224.9 -12.1l-2.9 12.4M222 0.3l-12.9 -1.1M226.3 5l-4.3 -4.7M226.3 5l-0.4 3.3M209.1 -0.8l-0.3 1.1M208.8 0.3l6.5 11.8M215.2 12.1l10.6 -3.9M103.3 111.3l7 -2.3M103.3 111.3l-0.3 13.2M110.3 109l10.3 5.3M120.6 114.3l-1.5 7.6M103 124.5l15.6 -2.1M119 121.8l-0.5 0.6M140.6 123.2l2.9 -10.8M140.6 123.2l-4.3 2.1M136.3 125.3l-7 -10.6M129.3 114.8l13.3 -2.8M143.4 112.4l-0.8 -0.4M150.6 129l5.9 -7.5M150.6 129l-10 -5.7M150.4 110.3l-7 2.1M143.6 95l-10 5.5M133.5 100.4l9.1 11.6M150.6 129l0.4 5.8M160.9 138.9l-6.9 -0.6M150.9 134.7l3.1 3.5M161.8 169.4l-2.4 12.6M161.8 169.4l-9.4 -3.1M152.4 166.3l-4.8 2.5M147.6 168.8l4.1 11.8M159.4 182l-7.6 -1.4M159.6 182.3l-0.2 -0.3M177.8 176.8l-2.6 -6.7M164.2 168l-2.3 1.3M154 138.3l-1.6 28M137.7 169l1.5 -1.3M137.7 169l-1.2 10.7M136.5 179.7l9.6 4.4M146.1 184.1l5.7 -3.5M139.2 167.6l8.4 1.2M146.1 192.1l0 -8M103.3 111.3l-3.2 -1.7M109.5 95.6l1.7 2M109.5 95.6l-12 2.2M110.3 109l0.9 -11.3M100.1 109.6l-2.6 -11.8M76 89.6l0 0M76 89.7l11 10.2M93.4 92l0.3 3.2M87 99.8l6.6 -4.6M110.1 87.5l-0.6 8.1M93.7 95.2l3.8 2.5M68 383.1l1.9 -0.2M68 383.1l-6.7 12M77.1 394.4l-4.2 -11M69.9 382.8l2.9 0.6M86.9 396l2.7 -2.1M89.9 391l-0.3 3M89.9 391l-10 -12.2M72.8 383.4l7 -4.6M68 383.1l-9.4 -4.8M69.9 382.8l-0.5 -13.1M69.5 369.7l-4.2 -4.3M65.2 365.4l-6.5 12.8M53.3 320.8l-11.8 1.5M53.3 320.8l-1.3 -13.1M52.1 307.8l-10.8 -0.1M41.2 307.6l-1.5 13M39.7 320.6l1.9 1.7M62.3 318.2l-4.2 4.2M62.3 318.2l-0.1 -10.5M58.1 322.5l-4.8 -1.6M57.5 304.4l4.7 3.4M57.5 304.4l-5.5 3.4M87.9 360.8l-2 12.8M87.9 360.8l-7 -4.9M76.3 357.8l4.6 -2M76.3 357.8l1 12.8M77.3 370.7l4.4 4.8M85.9 373.6l-4.1 1.9M69.5 369.7l7.9 0.9M68.4 358l7.9 -0.2M68.4 358l-3.8 3.2M65.2 365.4l-0.6 -4.3M79.9 378.8l1.9 -3.3M95.3 382.6l7.7 -0.9M95.3 382.6l-6.1 -7.9M89.1 374.8l11.4 -5.6M103 381.7l1.7 -5.9M104.7 375.8l-4.1 -6.6M104.8 384.3l-1.9 -2.6M89.9 391l5.4 -8.3M89.6 394l9.7 7.1M105.2 394.8l-5.9 6.3M85.9 373.6l3.2 1.2M87.9 360.8l9.4 -1.5M100.6 369.2l0.3 -7.7M97.2 359.3l3.6 2.3M139.5 436.2l6.3 2.7M139.5 436.2l-7.6 5.7M145.8 438.9l3.8 11.4M131.9 441.9l0.1 10.1M149.2 451.5l0.5 -1.3M149.2 451.5l-12.8 2M136.4 453.5l-4.3 -1.5M164.4 449l-2.7 -1.6M151.7 462.1l-2.5 -10.6M161.7 447.4l-12 2.9M144.3 464l-7.9 -10.4M151.3 422.4l2.9 3.1M164.2 411.5l0.2 8.8M154.1 425.5l10.2 -5.2M139.2 427.1l0.3 9.1M145.8 438.9l9 -2.9M154.1 425.5l0.7 10.6M161.7 447.4l-3.9 -10.5M157.8 436.9l-2.9 -0.9M76.7 -1l-11.3 -12.4M59.1 -2.9l5.1 6.6M75.7 0.3l-11.5 3.4M68.9 17l-6.4 -7.3M68.9 17l1.5 3.6M70.4 20.6l-7.9 6.4M62.5 27.1l-9.2 -4.7M53.3 22.4l2.9 -9M56.2 13.4l6.3 -3.7M79.5 9.4l-10.6 7.6M64.2 3.7l-1.7 6M85.1 15.4l-0.2 -0.8M74.5 22.9l-4.1 -2.3M63.7 36.5l-1.2 -9.4M51.5 34.4l-0.5 -10.6M51.1 23.9l2.2 -1.5M51.1 23.9l-8.3 -0.9M47.2 9l9.1 4.4M-5 34.5l11.8 6.3M-4.7 48.3l6.2 1.1M1.5 49.3l5.3 -8.5M12.6 37.2l-1.8 -10.7M12.6 37.2l-5.8 3.6M10.8 26.5l-5.7 -3.7M5.1 22.9l-10.1 11.7M6.4 -4.2l-7.1 9.9M-14.6 -0.1l13.5 5.8M-1.1 5.7l0.4 0M16.8 7.9l-11.7 6.5M-0.7 5.7l5.9 8.7M18.9 22.6l-8.2 3.9M5.1 22.9l-0.1 -0.2M5.2 14.3l-0.2 8.3M4.9 22.7l-12.8 -1.9M-1.1 5.7l-9.9 11.2M51.9 57.8l-8.8 5.2M43.1 44.1l-6.4 11.8M36.7 55.9l0.4 3.8M37.1 59.7l6 3.3M25.3 49.7l-6.9 -6.6M25.3 49.7l2.8 -0.2M28.2 49.6l8.7 -12.1M17.8 40.5l11.5 -5.6M17.8 40.5l0.7 2.6M29.3 35l7.4 2.3M36.7 37.2l0.2 0.2M41.9 40.9l-5 -3.4M36.7 55.9l-8.6 -6.3M12.6 37.2l5.2 3.3M25.7 24.7l3.6 10.3M3.7 52.9l9.3 1.2M3.7 52.9l-2.1 -3.6M13 54.1l5.5 -11M40.7 24.1l-4 13.1M19.3 74.4l9.2 -4.4M19.3 74.4l-1 -0.5M18.3 73.9l-4.1 -7.8M30.6 63.5l-2.1 6.4M30.6 63.5l-8.2 -5.4M14.2 66.1l2.6 -6.5M22.4 58.2l-5.5 1.4M37.1 59.7l-6.6 3.8M25.3 49.7l-3 8.4M13 54.1l3.9 5.5M3.7 52.9l-1.5 7.5M14.2 66.1l-10.1 -0.7M2.1 60.4l2 5M7.8 242.2l2 -11.8M7.8 242.2l1.7 1M9.8 230.4l12.1 3.2M22 233.6l1.4 8M9.6 243.3l13.9 -1.7M9.6 243.3l2.6 9.9M12.2 253.2l4.4 1M26 243.9l-2.6 -2.3M26 243.9l-1 4.8M25 248.6l-8.4 5.5M115.4 139.6l2.4 -3.2M115.4 139.6l-10.2 -4M103 124.5l-1.8 2.2M117.8 136.4l0.8 -13.9M105.2 135.6l-4 -8.9M-5.9 124.7l6.1 3.3M-1.6 143.9l3.1 -7.2M0.2 128l1.2 8.6M42.1 234.6l-1.9 7.4M42.1 234.6l-6.4 -5.4M35.7 229.2l-9.4 14.7M40.2 242l-4.1 2.4M26.2 243.8l9.8 0.6M53 230.5l-10.9 4.1M53 230.5l3.9 2.3M57.3 235.6l-0.4 -2.8M57.3 235.6l-9.7 11.5M47.6 247.1l-7.5 -5.1M26 243.9l0.3 -0.1M30 260.3l-5.1 -11.7M30 260.3l8.1 -4.9M38.2 255.4l-2.2 -11M35.3 228.5l-8.6 -3.9M35.3 228.5l7.6 -9.9M30.9 213.1l11.5 4.2M30.9 213.1l-5.4 8.2M25.5 221.3l1.2 3.3M42.9 218.6l-0.5 -1.3M22 233.6l4.8 -9M35.7 229.2l-0.4 -0.7M53 230.5l-1.9 -6.9M51.1 223.6l-8.2 -5.1M9.8 230.4l0 0M9.8 230.4l7.3 -11.6M17.1 218.8l8.4 2.5M3.5 201.8l-4.3 4.9M3.5 201.8l12.4 5.3M-0.8 206.6l11.1 8.3M15.8 207.1l-2.1 7.6M13.7 214.7l-3.5 0.2M-4.9 216.5l3.5 -9.6M-4.9 216.5l6.6 5.6M1.7 222.1l8.6 -7.1M-1.4 206.8l0.6 -0.2M17.4 205.4l5.5 -2.3M17.4 205.4l-1.6 1.6M22.9 203.2l7.7 5.7M30.6 208.9l0.3 4.2M17.1 218.8l-3.3 -4.1M2.3 226.6l-0.6 -4.5M2.3 226.6l7.5 3.8M5.1 194l-1.6 7.8M5.1 194l-10.7 -2.9M-1.4 206.8l-11.4 -6.2M227.5 486.1l7.3 4.5M219.2 496.8l15 1.4M234.7 490.6l-0.5 7.6M236.7 475.9l3.3 7.9M229.8 474.7l6 0.2M234.7 490.6l5.2 -6.8M231 509.2l3.3 -10.9M240.1 515.2l0.1 -15.3M240.3 499.8l-6 -1.6M234.3 498.3l0 0M268.8 427.4l7.8 1.6M268.8 427.4l-5.9 12.1M262.9 439.6l6.2 0.3M269.1 439.8l8.9 -6.8M278.1 433l-1.4 -4M278.3 426.1l-1.7 2.9M264.6 423.7l4.2 3.7M255.9 438.2l-0.7 -11.5M260.6 440.6l2.3 -1.1M250.8 523.7l1.9 1.6M252.8 525.3l0.1 8.7M208.1 358.6l7.9 2.7M208.1 358.6l1.6 -13.4M216 361.4l2.8 -2M218.8 359.4l3.1 -6.6M221.9 352.8l-0.8 -3.6M221.2 349.3l-8.3 -5.8M209.7 345.2l3.3 -1.8M203.9 358.5l4.1 0.1M203.9 358.5l-8.3 -6.4M195.7 352.1l-0.5 -2M195.2 350.1l1.4 -1.5M196.6 348.5l13 -3.3M214.8 365.8l1.2 -4.5M214.8 365.8l4.5 6.3M219.2 372.2l11.8 -2.3M231 369.9l-12.2 -10.5M234.7 355.8l-12.8 -3M233.9 371.3l-2.9 -1.4M227 342.6l-5.9 6.6M212.5 340.5l0.4 3M196.6 348.5l2.2 -14.6M294.2 371.5l4.3 4M294.2 371.5l-10 2.2M284.2 373.8l0.3 8.3M298.2 378.1l0.3 -2.6M298.2 378.1l-8 4.8M290.2 382.9l-5.7 -0.8M291.7 361.9l2.5 9.6M301.9 373.8l-3.4 1.7M279.2 371.6l5 2.2M277.5 386.8l7 -4.7M289.1 395.7l12 -1.5M301.1 394.2l0.8 -7.3M289 395.6l1.1 -12.8M301.9 386.9l-3.8 -8.8M288.7 419.4l5.7 7.9M294.5 427.3l-5.2 8.3M278.1 433l3.5 3.6M289.3 435.6l-7.7 1.1M263 452l4.4 1.8M269.1 439.8l5.6 9.5M274.8 449.3l-7.4 4.4M281.6 436.7l-1.2 11.8M274.8 449.3l5.6 -0.9M178.1 426.1l1.6 1M178.1 426.1l-10.6 0.6M179.7 427.1l0.6 9.4M170.5 438.7l8.5 -0.5M170.5 438.7l-4.9 -6.1M179 438.2l1.2 -1.7M165.5 432.6l1.9 -5.9M177 401.2l1 24.9M187.8 394.3l2.4 1.9M188.2 424.5l-8.5 2.6M172.7 395.3l-2 -0.2M164.4 420.3l3 6.4M187.9 438.1l-7.6 -1.6M179.8 450.9l-0.8 -12.7M166.7 448.1l3.7 -9.3M157.8 436.9l7.8 -4.3M201.4 429l11.5 -1.1M207 440.1l9.4 -4.7M212.9 427.9l3.5 7.4M217.2 448.9l-3.2 0.9M217.2 448.9l4 -9M221.3 439.9l-4.8 -4.6M229.5 385.1l-0.3 0.2M219.2 372.2l0.6 11.1M229.2 385.4l-9.4 -2.1M128.4 456.5l-0.5 4.4M128.4 456.5l-12.2 -4.2M127.8 460.9l-9.4 3.3M116.2 452.3l-3.5 10.7M112.7 463l5.7 1.3M128.6 462.5l-0.7 -1.6M132 452l-3.7 4.5M126.1 477l-6.9 -2.3M119.3 474.7l-0.8 -10.5M107.7 465.1l-1.1 7.8M107.7 465.1l5.1 -2.1M106.6 472.9l4.8 2.8M111.4 475.7l7.8 -1M301.1 394.2l1.9 3.4M303 397.6l10 1.3M301.9 386.9l13.3 -3.4M313 398.9l2.2 -15.4M313 374.7l4.1 6.9M320 382.1l-2.9 -0.5M315.2 383.5l1.9 -1.9M240.9 455.5l-7.4 -7.2M240.9 455.5l-1.8 4.2M239 459.6l-13.6 0.8M233.5 448.2l-9.8 6.6M223.7 454.8l1.7 5.7M254.6 456l0.1 2.5M247 452.1l-6.1 3.3M254.7 458.5l-5.3 8.8M240.4 464.6l-1.4 -4.9M221.8 468.6l3.6 -8.2M217.2 448.9l6.5 5.9M41.7 513.3l6 -1.3M57.6 523.2l-1.4 -4.3M47.7 512l8.5 6.9M79.1 501.1l3.1 0.9M79.1 501.1l-5.7 -0.1M84.6 517.7l-11.2 -1.7M82.2 502l5.1 8.7M73.4 516.1l0 -15.1M70.8 520.2l2.3 -3.8M73.4 516.1l-0.4 0.3M56.2 518.9l5.8 -7.8M73 516.4l-11.1 -5.2M47.7 512l3.6 -7.1M51.3 504.9l10.7 -3M61.9 511.1l0 -9.2M74.2 485.2l-13.8 0M74.2 485.2l-1.3 15.4M72.9 500.7l-9.7 -0.2M63.3 500.5l-5.8 -12.3M57.4 488.2l2.9 -2.9M73.4 501l-0.5 -0.3M61.9 502l1.3 -1.5M36.2 510.4l-0.4 -9M51.3 504.9l-5.6 -8.8M35.8 501.4l9.9 -5.3M75.5 483.9l-0.8 -8M75.5 483.9l9.5 1.8M74.7 475.9l8.9 -2.8M85 485.7l1.8 -0.2M86.8 485.5l3.8 -8.6M90.6 476.8l-6.9 -3.7M79.1 501.1l5.9 -15.4M74.2 485.2l1.3 -1.3M62.3 428.8l0.1 6.2M76.2 438.4l2.7 -12.6M76.2 438.4l-6.7 2.3M62.4 434.9l7.1 5.8M72.2 472.6l-1.6 -8M72.2 472.6l-11.2 6M58 465.7l10.1 -2.2M58 465.7l-0.6 6.5M70.6 464.6l-2.5 -1M57.5 472.3l3.6 6.4M60.4 485.2l0.7 -6.6M74.7 475.9l-2.5 -3.2M3.9 514.5l2 7.2M3.9 514.5l-4.2 -5.6M-0.4 509l-4 1.7M5.9 521.7l-9.3 5.2M16.8 510.9l-13 3.6M8.8 523.5l-2.9 -1.8M18.2 503.4l0 0M2 503.9l16.2 -0.5M2 503.9l-1.3 1.4M0.7 505.4l-1.1 3.6M4.1 539.5l-7.5 -12.6M106.1 499.4l5.2 -8.4M106.1 499.4l-7.3 0.1M111.4 491l-9.8 -6.3M101.6 484.7l-8 7.7M98.9 499.6l-4.9 -4.7M93.6 492.4l0.4 2.5M108.7 512.9l0.8 -8.9M109.5 504l-3.3 -4.6M95.7 508.7l3.1 -9.1M106.6 472.9l-5.3 3M101.2 475.9l0.3 8.8M111.4 475.7l2.7 14M114.1 489.7l-2.8 1.3M94.5 474.5l6.7 1.4M94.5 474.5l-4 2.3M86.8 485.5l6.8 6.9M82.2 502l11.7 -7.1M124.1 505.6l13.5 -2.8M124.1 505.6l-1.4 -1.7M122.7 503.9l-1.2 -13.2M137.6 502.8l-11.1 -15.7M126.6 487.1l-5.1 3.6M123.3 512.3l0.8 -6.8M137.6 502.8l0 0M109.5 504l13.2 -0.1M114.1 489.7l7.3 0.9M126.7 486.9l-0.1 0.2M205.7 136.1l-0.3 -7.8M205.7 136.1l9.3 13.5M217.9 127l-7.8 -1.4M217.9 127l2 9.3M210.1 125.7l-4.7 2.6M219.9 136.3l-5 13.3M219 126.2l-1.1 0.8M229 141.9l-9.1 -5.6M214.7 165.7l0.2 -16.1M187.5 146.2l3.9 -9M187.5 146.2l0 11.7M191.4 137.2l9.1 11.1M187.5 157.9l2.8 6.4M190.3 164.3l10.8 0.6M201.1 164.9l-0.5 -16.7M176.4 136.8l11.1 9.4M192 129.3l-0.6 7.9M176.1 168.4l11.5 -10.5M197 125.9l8.5 2.4M205.7 136.1l-5.1 12.2M188.7 178.1l1.6 -13.8M203.2 167.8l-2.1 -2.9M224.5 240.9l10.7 -1.5M229.7 225l5.9 4.2M235.5 229.1l-0.3 10.3M222.8 242.8l5.8 12.7M235.8 255.1l4.3 -12.6M231.8 257.1l-3.3 -1.6M235.2 239.4l4.8 3.1M246.5 258.9l3.2 -2.3M249.9 243.7l-0.3 12.9M249.9 243.7l-6.3 -1.7M240.1 242.5l3.5 -0.5M257.1 208.5l-7.3 -2.3M257.1 208.5l8.7 -4.8M249.8 206.2l4.5 -10.9M265.8 203.8l-1.4 -6.3M264.5 197.5l-5.1 -3.9M259.3 193.6l-5.1 1.7M239.4 204.4l7.4 2.5M246.9 207l2.9 -0.8M241.4 193.3l12.9 2M257.9 182.2l-4.3 -2.5M257.9 182.2l1.5 11.3M149 381.9l-9.7 -9.3M139.4 372.6l8.6 -6.1M153.5 382.4l5 -9.5M148 366.5l10.5 6.3M131.4 381.9l3.8 -9.1M131.4 381.9l-12.2 -1.6M116.4 372.3l2.8 7.9M116.4 372.3l13.7 -1.8M130.1 370.5l5.2 2.2M132.5 385.5l-1.1 -3.6M135.5 372.6l3.9 0.1M135.5 372.6l-0.2 0.2M116.9 384.1l2.4 -3.9M118.6 395.2l6.3 1.4M116.2 372.1l-11.6 3.6M116.2 372.1l0.2 0.2M188.3 317.2l0.1 -5.5M188.3 317.2l8 9.9M203.9 321.7l0.6 -7.2M204.5 314.5l-8.9 -7.2M188.4 311.7l7.3 -4.4M188.3 317.2l-6.7 4.4M195.8 328.7l-8.7 3.8M181.5 321.6l5.7 11M214 270l4 -1.2M214 270l-6.4 -7.8M217.9 268.9l4.5 -11M222.4 257.9l-10.8 -5M207.5 262.2l0 -5.5M211.6 252.8l-4 4M226.2 277.3l-8.3 -8.4M228.6 255.5l-6.2 2.3M214.7 244.1l-3.1 8.7M198.1 240l-1.9 2.1M196.2 242.1l4.9 11.1M201.1 253.2l6.5 3.6M192.6 225.8l-10.4 6M181.7 216l-4.5 14.2M182.2 231.8l-4.9 -1.7M165.4 226.9l-0.1 -0.5M165.4 226.9l6.2 4.5M171.6 231.4l5.6 -1.2M170.6 381.4l-8.3 -10.4M170.6 381.4l10.3 -1M178.9 368.6l3 8.5M178.9 368.6l-14.4 -1.2M164.5 367.5l-2.2 3.6M180.9 380.4l1 -3.3M166.6 388.4l4 -7M158.5 372.9l3.8 -1.8M181.6 382.1l-0.7 -1.7M208.7 371.7l-7.1 -3.8M208.7 371.7l-0.4 11.4M199.4 381.8l-5.3 -8.6M199.4 381.8l4 3M201.5 367.9l-6.4 1.9M203.4 384.8l4.8 -1.7M195.1 369.8l-1.1 3.4M203.9 358.5l-2.4 9.4M214.8 365.8l-6.1 5.9M212.9 384.5l6.9 -1.3M212.9 384.5l-4.7 -1.4M184.1 384.8l15.3 -3M181.9 377.1l12.2 -4M198.8 394.3l4.6 -9.5M191 362.5l4.6 -10.4M191 362.5l4.1 7.3M120 219.3l-0.8 -1.2M120 219.3l3.5 1M119.3 218.1l1 -11.2M126.6 205.7l-6.3 1.3M126.6 205.7l5.5 3.1M132 208.8l2.8 5.1M123.5 220.3l11.3 -6.4M138.8 201.8l-6.8 7M145 215.6l-5.2 1.1M134.8 213.9l5 2.8M123.5 220.3l8.9 10.5M139.9 216.8l-5.8 13.6M132.5 230.8l1.5 -0.3M147.2 217.1l2.4 12.6M165.4 226.9l-7.4 4.3M158 231.1l-8.4 -1.4M134 230.4l9.1 4.9M149.6 229.7l-6.5 5.6M126.6 205.7l4.7 -12.7M120.3 207l-1.9 -1.5M118.4 205.5l-1.2 -10.9M117.2 194.6l4.7 -4.8M121.9 189.9l9.4 3M133.1 193.2l-1 -0.5M136.5 179.7l-0.2 0.2M136.3 179.9l-4.2 12.8M132 192.7l-0.7 0.2M57.3 235.6l5.2 9.1M56.9 232.8l2.8 -1.4M72.5 233.4l-12.7 -2M72.5 233.4l3.2 9.3M75.7 242.7l-13.2 2M84.8 226.9l-9 0.8M84.8 226.9l-2.2 15.9M82.6 242.9l-4.7 1.1M75.8 227.7l-3.3 5.6M75.7 242.7l2.1 1.3M255 114.7l4 9.2M269 121.6l-7.5 3.2M259 123.9l2.5 0.9M243.8 129.1l11.1 -1.6M259 123.9l-4.1 3.5M253.2 144.8l1.5 -2.9M254.9 127.4l-0.1 14.5M133.1 100.4l-1.4 -14.1M133.1 100.4l-6 2M127.1 102.3l-4.6 -4.6M122.5 97.8l0.3 -10.7M122.8 87.1l3.6 -2.7M126.4 84.4l5.3 1.8M138.7 84.1l-7 2.1M133.5 100.4l-0.4 -0.1M123.3 112.4l3.8 -10M123.3 112.4l6 2.4M111.2 97.6l11.3 0.1M120.6 114.3l2.7 -1.9M113.6 85.3l9.2 1.8M287.2 237.4l-2 -7M287.2 237.4l-8.1 10.3M279.2 247.7l-7.5 -5.9M271.7 241.8l5 -12.8M276.7 229l8.6 1.5M290.5 254.1l4.5 -12.1M290.5 254.1l-5.5 0.9M295 241.9l-7.8 -4.5M279.9 252.8l5.2 2.1M279.9 252.8l-0.7 -5.1M262.3 297.9l3.8 -1.4M273 307.3l-3.2 -9.1M269.8 298.1l-3.7 -1.6M303.4 245.7l-5.7 -4M303.4 245.7l9.8 -5.5M297.7 241.6l5.8 -11.8M313.2 240.1l-2.2 -7.6M310.9 232.6l-7.4 -2.8M258.5 235.1l1.1 -2.8M258.5 235.1l-13.3 -6.5M259.7 232.3l-7.9 -12.3M245.2 221.9l-1.4 3.9M245.2 221.9l4 -2.1M249.2 219.8l2.6 0.1M245.2 228.6l-1.5 -2.8M261.6 242.7l-3.4 -2.6M261.6 242.7l10.1 -0.9M258.2 240.1l0.3 -5M264.8 228.1l-5.2 4.2M264.8 228.1l11 0.1M275.8 228.2l0.9 0.7M249.9 243.7l8.3 -3.6M243.6 242l1.7 -13.5M264.8 228.1l-1.2 -9.2M263.6 218.9l-7.8 -1.7M255.8 217.2l-4 2.7M237.3 215.5l7.9 6.4M235.5 229.1l8.2 -3.4M246.9 207l2.3 12.9M255.8 217.2l1.3 -8.7M264.1 179.4l4.7 1.8M264.1 179.4l-6.2 2.8M264.5 197.5l8.5 -6.3M273 191.1l-4.2 -10M285.8 101.2l3.3 11.8M282.7 118.8l2.1 0M289.1 113l-4.3 5.9M254.9 166.2l11.6 -0.4M264.1 179.4l3.6 -12.4M266.5 165.8l1.2 1.2M254.7 141.9l11.6 -3.5M266.5 165.8l-0.2 -27.3M261.5 124.8l5.2 12.3M266.3 138.4l0.4 -1.3M276.5 124l-0.1 10.6M266.7 137.2l9.8 -2.6M284.8 118.8l2.6 2.7M288 135.4l-0.6 -13.9M288 135.4l-7.9 2.5M276.5 134.6l3.6 3.3M267.5 28.2l4.7 -16.2M267.5 28.2l-8.6 -1.8M258.9 26.4l-0.7 -8.3M258.1 18.2l10.1 -8.6M272.2 12l-3.9 -2.4M258.1 18.2l-8.3 -6M249.8 12.2l4.4 -7.4M254.2 4.8l7.6 -3.9M261.9 0.8l3.9 2.9M268.2 9.6l-2.5 -5.9M293.5 48.7l3.3 -9.9M293.5 48.7l-12.5 1.7M279 37.7l10.8 -3.6M279 37.7l2 12.7M289.8 34.2l7 4.6M278.9 53.2l2.2 -2.8M291.3 63.4l2.7 -14M291.3 63.4l-10 -1M294 49.4l-0.4 -0.7M276 35.8l3.1 1.9M259.6 -10.2l2.2 11.1M254.2 4.8l-6.3 -4.9M247.9 -0.2l0.4 -11.1M244.3 13.4l5.5 -1.2M244.3 13.4l-4.3 -9.4M247.9 -0.2l-7.9 4.1M244.3 13.4l-0.1 0.1M244.2 13.5l-7.7 4.1M236.6 17.6l-9.9 -7.1M226.3 5l9.7 -4.1M226.7 10.4l-0.8 -2.2M240 4l-4 -3.1M236 0.9l2.5 -14.1M189.6 -1.7l-6.6 -1.9M115.6 12.6l-7.3 -11.8M124.7 10.2l1.3 -4.9M126 5.2l-6.6 -6.1M119.5 -0.9l-11.2 1.6M157.9 63.8l6.7 -4.4M157.9 63.8l8.4 11M164.6 59.4l9.4 1.1M166.3 74.8l8.5 -12.6M174 60.5l0.8 1.7M153.4 51.5l5.6 -2.4M154.4 62.9l3.5 1M159 49.1l5.7 1.5M164.8 50.6l-0.2 8.8M166.4 75.2l-0.1 -0.4M148.5 74l4.1 -10.1M164.8 50.6l6.2 -2.9M176 50l-5 -2.3M176 50l-2 10.5M183.5 66.2l-0.8 9.1M183.5 66.2l-8.7 -4M121.7 62.7l-0.1 12.6M121.7 62.7l3.1 -1.5M124.7 61.2l9.5 5.7M126 79.4l-4.3 -4.2M126 79.4l9.5 -8.4M135.4 71l-1.2 -4.1M108.8 71.5l2.1 -4.6M114.4 77.9l7.2 -2.7M111 66.9l8.8 -4.2M119.8 62.6l1.9 0M126.6 54.1l-1.9 7.1M116.9 45.8l-6.6 6.4M119.8 62.6l-9.5 -10.4M141.7 61.3l-7.5 5.6M126.4 84.4l-0.4 -5M139.8 75.3l-4.4 -4.3M146.4 45.5l6.6 -7.8M142.6 27.2l4.3 0.7M153 37.8l-6.1 -9.8M159 49.1l2.3 -12.8M153 37.8l8.4 -1.5M171 47.8l-3 -8M168 39.7l-6.3 -3.7M161.4 36.3l0.4 -0.3M101.7 37.7l1.8 1.6M101.7 37.7l-11.3 13.3M103.6 39.3l1.7 12.7M105.2 52.1l-5 4.8M90.4 51l9.6 5.9M100 56.9l0.2 0M101.4 37.1l0.3 0.7M116.5 39.7l-13 -0.3M85.8 50.4l4.7 0.6M110.3 52.2l-5.1 -0.1M111 66.9l-10.8 -10M95.3 66.1l4.7 -9.2M251.6 54.3l-10.2 -5.6M234.8 59.4l3.5 -9.1M241.4 48.7l-3.2 1.6M176 50l5.1 -2M181.2 48.1l0.6 -9.2M168 39.7l10.8 -6M178.9 33.7l2.9 5.2M123.5 169.2l-7.6 1.4M123.5 169.2l4 10.4M116 170.6l0.4 9.9M127.6 179.6l-7.3 4.5M116.4 180.5l3.9 3.6M127 167.3l-3.4 1.9M127 167.3l10.7 1.7M136.3 179.9l-8.7 -0.3M121.9 189.9l-1.6 -5.7M109.5 183.7l6.9 -3.2M109.5 183.7l-1.1 9.5M117.2 194.6l-8.9 -1.4M125.2 143.4l-1.4 -3.6M125.2 143.4l14 2.6M123.9 139.8l8.7 -11.3M139.8 143.2l-0.6 2.8M139.8 143.2l-5.7 -14.9M134.1 128.3l-1.6 0.2M127 167.3l-1.7 -23.9M113.6 168.7l2.3 1.8M113.6 168.7l1.8 -29.2M117.8 136.4l6.1 3.5M139.2 167.6l0 -21.6M119 121.8l13.5 6.7M150.9 134.7l-11.1 8.5M136.3 125.3l-2.1 2.9M76 89.7l-5.3 9.8M58.9 90.1l3.2 8.2M58.9 90.1l6.9 -4.8M62.1 98.4l8.6 1.2M87 99.8l-2.1 4M84.9 103.8l-11.8 -0.5M70.7 99.5l2.4 3.8M124.1 426.3l-10.3 1.9M124.1 426.3l5.5 14.7M113.8 428.2l1.2 6.7M115 434.9l3.3 5.1M129.6 441l-11.3 -1M113.9 401.4l-0.7 26.2M126.9 423.5l-2.8 2.7M113.2 427.5l0.6 0.6M131.9 441.9l-2.4 -0.9M116.2 452.3l-2.7 -3.7M113.5 448.6l4.8 -8.6M55.2 394.9l-2.7 -12.7M58.7 378.2l-1.5 0.1M57.2 378.4l-4.7 3.8M38.5 386.2l0.5 7.8M38.5 386.2l8.4 -4.3M39 394l13.4 5.4M46.9 381.9l5.5 0.3M64.6 361.2l-10.9 -1.8M53.7 359.4l-1.2 0.4M57.2 378.4l-4.3 -7.6M52.5 359.8l0.4 11M46.9 381.9l-2.5 -9M52.8 370.8l-8.4 2.1M46.4 344l-1.1 -7.6M46.4 344l10.6 2.5M45.4 336.4l15.7 -2.8M57.1 346.4l6.9 -5.3M63.9 341.1l-0.8 -5.1M63.1 336.1l-0.9 -1.5M61.1 333.6l1.2 0.9M44.3 348.7l-11 -0.9M44.3 348.7l2.1 -4.8M39.4 335.9l3.5 -1.5M39.4 335.9l-7 10.9M42.9 334.5l2.5 1.9M32.3 346.9l1 1M53.7 359.4l3.4 -13M44.3 348.7l3.2 10.1M47.5 358.9l5 0.9M58.1 322.5l3 11.1M42.9 334.5l-1.3 -12.2M65.4 342.6l3.1 15.4M65.4 342.6l-1.4 -1.5M33.3 347.9l1.1 13.4M47.5 358.9l-9 5M34.5 361.3l4.1 2.6M44.4 372.9l-6 -5.8M38.4 367.1l0.2 -3.2M158 334.6l-6.1 1.8M158 334.6l2.7 -12.6M160.7 322.1l-9.1 -2.2M151.6 319.8l-6.4 4.1M151.9 336.5l-7 -9.7M145.2 323.9l-0.3 2.8M116.2 372.1l-0.7 -11.2M100.8 361.5l10.7 -2.8M115.5 360.9l-4 -2.2M116.1 251.2l-4.9 3.4M116.1 251.2l-0.3 -5.6M111.2 254.6l-11.4 -4.6M99.7 250l-1 -6.3M98.7 243.7l7.3 -4.9M115.7 245.6l-9.7 -6.8M96.7 264.8l-7.9 8.7M96.7 264.8l-1.7 -9M95 255.8l-5.7 -1.3M89.3 254.5l-7.8 5.1M88.8 273.5l-5.2 -6.3M81.6 259.5l2 7.7M99.7 250l-4.7 5.8M98.7 243.7l-4.7 -2.8M83.8 243.2l5.5 11.3M83.8 243.2l10.2 -2.3M82.6 242.9l1.3 0.3M77.8 244l-2.3 11.7M75.6 255.6l6 3.9M107.7 465.1l-6.5 -7.7M94.5 474.5l-2.5 -9.6M101.2 457.4l-9.2 7.5M76.2 438.4l9.1 2.3M85.6 422.7l5.2 5.2M85.2 440.7l0.4 -0.2M85.6 440.6l5.2 -12.7M99.2 401.1l0.1 26.1M90.8 427.9l8.4 -0.7M113.2 427.5l-13.1 0.3M99.3 427.2l0.8 0.6M38.3 81.7l7.8 9.2M38.3 81.7l0.5 -2.5M38.7 79.2l6.5 -6.3M54.7 88.1l-8.7 2.8M54.7 88.1l-0.1 -13.2M54.6 74.8l-9.4 -2M28.7 87.2l9.6 -5.5M36.4 100.2l8.3 -4.8M44.7 95.4l1.3 -4.5M23.9 87.2l-4.6 -12.9M28.5 70l10.3 9.2M43.1 63l2.1 9.9M58.9 90.1l-4.2 -2.1M44.7 95.4l6.5 8.5M51.2 103.9l9.6 -3.9M62.1 98.4l-1.3 1.6M57.3 73.3l-2.7 1.5M-0.8 87.7l9.1 2.1M-0.8 87.7l-0.4 -12.8M10.3 78.1l-11.5 -3.2M10.3 78.1l-1 11.2M9.3 89.3l-0.9 0.6M18.3 73.9l-8 4.2M-1.4 74.6l5.6 -9.1M-1.4 74.6l0.2 0.3M21.5 89.8l-12.2 -0.6M21.1 100.9l-0.5 0.6M7.9 100l0.5 -10.2M7.9 100l4.4 3.1M12.3 103.1l8.3 -1.6M-12.4 75.8l10.1 -1.4M-2.2 74.4l-7.2 -13.5M-1.4 74.6l-0.8 -0.2M-0.8 87.7l-4.5 3.6M2.1 60.4l-11.5 0.5M13.7 271.1l7.2 -5.2M13.7 271.1l-2.2 -2.1M12.2 253.2l-4.8 4.7M20.8 265.9l-4.3 -11.7M7.3 257.9l4.1 11M2.1 243.3l-4.9 -3.2M2.1 243.3l-3.9 13M-2.8 240.1l-9.8 5.5M-1.8 256.3l-2.1 1.2M7.8 242.2l-5.8 1.1M2.3 226.6l-7.4 6M-5.1 232.6l2.2 7.6M7.3 257.9l-9.1 -1.6M-6 263.2l7.8 13.6M1.8 276.8l9.7 -7.9M25.3 267.2l3.4 -2.4M25.3 267.2l0.1 30.5M28.7 264.7l7.2 7.7M35.9 272.4l1.5 20.6M25.4 297.7l12 -4.7M20.8 265.9l4.5 1.3M30 260.3l-1.3 4.4M13.7 271.1l-0.4 25.1M25.2 297.9l-2.8 2.3M25.2 297.9l0.1 -0.2M13.3 296.2l9.2 4M40.7 306.7l-2.6 -0.4M40.7 306.7l1.2 -8.9M25.2 297.9l12.8 8.5M41.9 297.8l-4.5 -4.8M17.4 205.4l-7.6 -12.5M22.9 203.2l1.6 -10.2M24.5 193l-7.7 -3.9M16.8 189.1l-7 3.9M5.1 194l0.7 -0.5M5.8 193.4l4 -0.5M249.1 504.1l-8.3 -4.3M249.1 504.1l7.5 -5.6M240.7 499.8l10.3 -13M256.6 498.6l0.2 -8.6M256.8 489.9l-5.3 -3.2M251.4 486.7l-0.4 0.1M248.4 514.7l1.1 -1.4M249.5 513.3l-0.4 -9.1M240.3 499.8l0.5 0M264.3 505.4l-7.7 -6.8M264.3 505.4l-1.2 7.2M263.1 512.6l-13.6 0.7M240 483.8l11.1 3M273.3 500.8l-2.9 -11.7M273.3 500.8l-9.1 4.6M262.4 487.9l8 1.1M262.4 487.9l-5.6 2M252.7 473.7l-0.1 -0.1M252.7 473.7l-1.3 13.1M322.9 468.4l-6.6 -6M321.3 450.4l-3.6 1.9M316.3 462.4l1.5 -10.1M312.6 526.8l7.5 12.6M312.6 526.8l9.3 -5.2M304.8 538.2l4.1 -11.6M308.8 526.7l3.8 0.2M319.9 514.5l-4.2 -5.6M315.6 509l-4 1.7M311.7 510.7l-4.4 14.2M307.3 524.9l1.6 1.8M311.7 510.7l-3.5 -0.2M295.8 521.4l11.4 3.5M295.8 521.4l0.2 -1.9M296 519.5l12.1 -9.1M263.1 512.6l0.4 0.7M252.8 525.3l10.6 -1.9M263.3 523.4l0.2 -10.2M262.7 538.3l4.3 -11.1M263.3 523.4l3.7 3.8M211.5 295.8l12.6 0.8M211.5 295.8l-2 1.9M209.6 297.7l3.9 11.2M225.4 304.9l-8.1 5.5M225.4 304.9l-1.3 -8.2M217.4 310.3l-3.9 -1.5M226.6 290.5l-2.5 6.1M214 270l-2.4 25.8M200 269.1l2.2 27.9M200 269.1l7.5 -6.8M202.2 297l7.4 0.7M204.5 314.5l8.9 -5.6M202.2 297l-5 3M195.6 307.3l1.5 -7.3M233.2 307.7l-7.8 -2.9M221.4 321.3l-4.1 -10.9M289.3 435.6l7.2 7.5M296.5 443.1l-0.2 2.1M296.3 445.2l-10.9 6.1M280.4 448.4l1.8 1.5M285.4 451.3l-3.3 -1.4M254.7 458.5l6.5 8.7M267.4 453.8l1.6 5.7M268.9 459.5l-7.8 7.8M252.7 473.7l8.2 -2.1M261.2 467.3l-0.3 4.3M262.4 487.9l1.2 -14.5M263.6 473.4l-2.7 -1.9M247.6 442.1l-6.9 -4.6M233.5 448.2l-0.7 -7.2M232.8 441.1l7.9 -3.6M221.3 439.9l4.8 -1.6M232.8 441.1l-6.7 -2.8M247 394.2l-5.6 13.6M229.2 385.4l-0.6 12.6M228.5 398l12.9 9.8M226.1 438.3l2.3 -12.8M240.7 437.5l0.4 -9.8M228.4 425.6l12.7 2.1M254.1 426l-11.7 0.2M241.4 407.8l1 18.4M242.4 426.2l-1.4 1.4M214.8 425.3l12.7 -1.4M214.8 425.3l-1 -19.2M213.8 406.1l0.8 -2.6M214.6 403.5l13.9 -5.3M227.5 423.9l1 -25.7M212.9 427.9l1.9 -2.6M228.4 425.6l-0.9 -1.7M201.8 402.5l12 3.6M212.9 384.5l1.7 18.9M228.5 398l-0.1 0.2M290.5 254.1l4.5 2.5M295 241.9l2.7 -0.3M303.4 245.7l0.8 4.9M295 256.5l9.1 -5.9M318.1 243.3l-3.9 13M318.1 243.3l-4.9 -3.2M304.2 250.6l7.9 7M314.2 256.3l-2.1 1.2M281.5 322l7.6 -5.2M276.9 307.9l5.1 -2M289.1 316.8l1.6 -6.1M282 305.9l8.7 4.8M318 503.9l16.2 -0.5M318 503.9l1.9 -13.5M318 503.9l-1.3 1.4M316.7 505.4l-1.1 3.6M6.9 468.4l1 6.2M6.9 468.4l9.1 -6.7M16 461.7l3.8 13M7.9 474.6l4.1 4M12 478.6l7.8 -3.9M57.4 488.2l-7.4 -0.5M57.5 472.3l-11.8 6.7M45.7 479l4.4 8.6M53 462.5l5 3.2M53 462.5l-7.2 3.4M45.8 465.9l-2.2 11.5M45.7 479l-2 -1.6M45.7 496.1l1.5 -5.3M50.1 487.7l-2.8 3.2M30.2 467.9l-0.1 0.8M30.2 467.9l-4.5 -8M25.7 459.9l-9.2 0.4M16.6 460.3l-0.5 1.4M19.8 474.7l2.2 0.1M22 474.7l8.1 -6M45.8 465.9l-6.2 -3.2M39.6 462.8l-9.4 5.2M43.7 477.4l-5.7 0.3M30.1 468.7l7.9 8.9M33.7 499.4l-0.7 -10.8M33.7 499.4l-13.9 -0.5M19.8 498.9l-1.4 -6.5M18.5 492.5l10.4 -6.6M33 488.6l-1.9 -2.6M28.9 485.8l2.2 0.2M35.8 501.4l-2.1 -2M47.2 490.8l-14.2 -2.2M18.2 503.4l1.6 -4.5M4 490.5l7.1 -3.4M4 490.5l-1.9 13.5M11.1 487.1l7.4 5.4M11.1 487.1l0.9 -8.5M22 474.7l6.9 11.1M38 477.6l-6.9 8.4M39.6 462.8l-1.4 -9.9M29.8 451.4l-4.1 8.5M29.8 451.4l2.3 -1.9M38.2 452.8l-6.1 -3.4M51.9 437.3l-3.7 3.2M51.9 437.3l8 -1.5M59.9 435.8l-5.6 16.6M48.2 440.5l0.3 9.9M48.4 450.4l3.7 2.9M52.2 453.3l2.1 -1M45.6 425.6l-4.1 0M45.6 425.6l6.3 11.7M41.5 425.6l-5.2 11.6M36.3 437.1l11.9 3.3M51.9 417.8l-6.3 7.8M62.4 434.9l-2.4 0.9M64.7 450.3l-10.5 2.1M64.7 450.3l4.5 -7.4M69.2 442.9l0.2 -2.2M38.2 452.8l10.2 -2.4M32.1 449.5l-0.6 -10.1M36.3 437.1l-4.8 2.2M53 462.5l-0.8 -9.2M64.7 450.3l3.4 13.3M4 490.5l-5.4 -2.3M7.9 474.6l-11.4 2.2M-3.5 476.8l2.1 11.3M0.7 505.4l-10.1 -7.6M-1.5 488.2l-3.5 0.9M1.8 276.8l-1.4 20.8M-8.6 298.2l9.1 -0.6M13.3 296.2l-8.9 4.4M0.4 297.6l4 3M18.8 438.9l0.6 10.7M18.8 438.9l-3.8 0.1M15 439l-8.3 6.3M19.5 449.6l-6.9 4.5M12.6 454.1l-7.3 -3.7M5.3 450.4l1.4 -5.1M26 435.9l-7.1 3M26 435.9l5.6 3.5M29.8 451.4l-10.4 -1.8M26 435.9l-1.4 -7.4M8.4 427l5.5 -4.4M8.4 427l6.6 11.9M24.6 428.5l-10.7 -5.9M0.3 433.8l3.7 -6.8M0.3 433.8l6.4 11.5M8.4 427l-4.4 0M16.6 460.3l-4 -6.2M6.9 468.4l-6.6 -6M1.7 452.3l-1.5 10.1M1.7 452.3l3.6 -1.9M0 403.1l1.5 19.7M0 403.1l-3 -4.1M1.5 422.8l-15.9 2.8M-3 398.9l-10 -1.3M7.1 395l7.6 13.9M7.1 395l-7.1 8.1M4 427l-2.4 -4.2M13.8 422.6l0.9 -13.7M26.3 425.7l-0.6 -25.4M26.3 425.7l12.1 -7.2M25.6 400.3l11.8 -3.2M38.4 418.5l-0.9 -21.3M24.6 428.5l1.7 -2.8M22.5 395.5l-7.8 13.4M22.5 395.5l3.2 4.8M41.5 425.6l-3.1 -7.1M39 394l-1.6 3.2M7.1 395l3.2 -9.3M22.5 395.5l-2.2 -8.9M10.4 385.7l7.7 -1.6M20.3 386.6l-2.2 -2.5M38.5 386.2l-0.7 -0.6M20.3 386.6l17.5 -1M38.4 367.1l-4.9 7.8M37.8 385.6l-4.4 -10.7M-3 398.9l2.2 -15.4M-14.1 386.9l13.3 -3.4M10.4 385.7l-6.3 -3.7M4 382.1l-2.9 -0.5M1.1 381.6l-1.9 1.9M145.3 356.8l2.5 2.4M145.3 356.8l4.4 -15.2M147.8 359.1l11.9 -2.6M149.7 341.6l0.1 -0.1M149.8 341.5l8.9 9.1M158.7 350.6l0.9 5.9M135.5 356.3l0 16.3M135.5 356.3l9.8 0.5M148 366.5l-0.2 -7.4M163.9 360l-4.2 -3.5M163.9 360l0.6 7.4M158 334.6l6.6 1.6M164.6 336.2l2.7 7.7M151.9 336.5l-2.1 5.1M167.2 343.9l-8.5 6.8M195.2 350.1l-8.5 -2.9M187.2 332.6l-2.3 2M184.9 334.6l1.8 12.5M196.2 242.1l-5.2 1M182.2 231.8l5.6 10.8M191 243.1l-3.3 -0.5M38.2 255.4l7.4 1.7M35.9 272.4l11.9 -6.9M47.8 265.5l-2.2 -8.4M47.6 247.1l1.7 4.4M45.5 257.1l3.7 -5.6M62.5 244.7l-2.1 7.2M49.3 251.5l11.1 0.4M75.6 255.6l-3.5 1.7M72.1 257.3l-11.3 -4.6M60.4 251.9l0.4 0.8M40.7 306.7l0.5 0.9M57.5 304.4l-0.4 -5.1M41.9 297.8l7.5 -6.5M57.1 299.3l-7.7 -7.9M47.8 265.5l2.5 3.7M49.4 291.4l0.8 -22.2M60.8 252.7l-3.1 13M50.3 269.2l7.4 -3.4M302.3 85.7l-6.7 2.9M302.3 85.7l8.4 5.5M298.9 100.8l4.6 3.2M310.7 91.3l-1.4 8.5M309.3 99.8l-5.9 4.1M315.6 176l4.2 3.8M315.6 176l-6.1 7.1M309.5 183.1l0.8 7.9M310.4 191l10.7 2.9M263.6 218.9l7 -7.3M275.8 228.2l-1 -13M274.8 215.2l-4.1 -3.6M265.8 203.8l3.7 3.4M270.7 211.6l-1.1 -4.4M319.5 201.8l-4.3 4.9M326.3 214.9l-11.1 -8.3M285.3 230.4l5.4 -5.7M303.5 229.8l-1.2 -1.9M290.7 224.7l11.6 3.1M267.5 278.9l6.2 -11.8M267.5 278.9l-8.6 -12M273.7 267.1l-1.2 -8.6M272.5 258.5l-8.3 -2.3M264.2 256.2l-4.5 3.1M259.7 259.3l-0.8 7.6M252.8 280.5l6.1 -13.6M266.1 296.5l1.4 -17.6M261.6 242.7l2.6 13.5M279.9 252.8l-7.4 5.8M249.6 256.6l10.1 2.7M310.1 124.7l1.5 -9.2M310.1 124.7l-7.9 1.9M302.3 126.6l-1.9 -2.2M300.4 124.5l-1.2 -13.3M311.6 115.5l-8.4 -9.5M299.2 111.1l4.1 -5.1M289.1 113l10.1 -1.8M287.4 121.5l13 2.9M303.5 104l-0.2 2M315.3 171.4l11.5 -4.6M315.3 171.4l0.3 4.6M268.8 181.2l9.2 -3.4M267.7 167l6.1 0.7M278 177.8l-4.1 -10.1M280.1 137.9l-0.5 23.6M273.9 167.7l5.8 -6.3M299.5 134.4l-8.5 2M299.5 134.4l3.6 9.3M291 136.4l0.4 31.1M303.1 143.7l-1 17.7M291.4 167.5l10.7 -6.1M288 135.4l3 1M302.3 126.6l-2.8 7.8M290.4 168.8l-10.8 -7.3M290.4 168.8l1 -1.3M314.4 143.9l0.6 27.3M314.4 143.9l-11.3 -0.1M315 171.2l-7.5 -1.8M307.5 169.4l-5.4 -7.9M288.9 78l8.3 -6.7M302.3 85.7l1.3 -10M303.6 75.8l-6.4 -4.5M310.7 91.3l4.5 -3.6M315.2 87.7l-0.4 -12.8M314.8 74.9l-0.2 -0.3M314.6 74.6l-0.8 -0.2M303.6 75.8l10.1 -1.4M291.3 63.4l5.6 4.4M297.2 71.3l-0.3 -3.5M226.9 89.7l-3.2 0.2M226.9 89.7l7 6.6M223.7 89.9l-5.4 8.6M233.9 96.4l0.9 2.1M234.8 98.5l-8.9 8.1M226 106.5l-7.6 -7.9M231.2 76.5l-4.3 13.2M226.8 74.2l-10.8 3.1M216 77.2l-2.5 7.1M213.5 84.4l10.2 5.6M240.1 84l-6.2 12.4M239.6 100.2l-4.8 -1.7M225 109.5l1 -3M209.3 98.8l-2.5 -1.9M209.3 98.8l3.8 11.7M197.9 111.8l6.9 -14M197.9 111.8l11.2 2.4M204.8 97.8l2 -0.8M209.1 114.2l4 -3.7M213.5 84.4l-5 2.8M208.6 87.2l0 0M208.5 87.2l-1.7 9.7M218.4 98.6l-9 0.3M220.9 111.5l-7.8 -1M195.2 113l2.7 -1.2M194.1 95.8l10.7 2M210.1 125.7l-1 -11.4M193.6 83.8l14.9 3.4M126 5.2l5.6 -4.9M119.5 -0.9l-1.5 -10.9M131.6 0.4l0.1 -10.2M183.1 -3.6l-4.3 3.7M178.7 0.1l-9 -1.2M167 -12.6l2.8 11.5M109.1 -13.3l-2.4 13.3M92.3 -12.2l6.9 15.6M106.8 -0.1l-7.6 3.4M99.1 3.3l0 0M108.3 0.8l-1.5 -0.8M90.6 4.5l8.5 -1.2M100.6 13.4l-1.4 -10.1M228.1 59.3l-1.5 -10.5M238.3 50.3l-2.3 -1M226.7 48.9l9.3 0.5M223.8 62.1l-9.5 -2.3M216 77.2l-5 -7.6M214.4 59.9l-1.6 1.9M211 69.6l1.8 -7.9M208.6 87.2l-7.4 -14.3M211 69.6l-9.8 3.3M192.7 79.4l6.1 -6.9M201.2 72.9l-2.4 -0.5M190.7 0.2l1.3 7.7M191.9 8l-7.2 5.7M178.7 0.1l0.3 10.1M179.1 10.2l5.6 3.4M178.9 33.7l0.2 -6.6M181.8 38.8l10.5 -1.7M179.1 27.1l5.7 -3.8M184.8 23.3l7.3 2.7M192 26.1l0.2 11.1M99.5 179.4l7 -10.5M99.5 179.4l-2.9 1.2M96.6 180.6l-6 -4.8M106.5 169l-3.9 -4.7M102.6 164.2l-11.8 1.2M90.6 175.8l-2 -6.8M90.8 165.4l-2.1 3.6M113.6 168.7l-7.1 0.2M109.5 183.7l-10 -4.3M108.4 193.2l-5.3 3.1M103.1 196.4l-8.6 -4.4M94.5 192l2.2 -11.4M79.7 187.6l11.6 5.9M79.7 187.6l0.2 -5.6M94.5 192l-3.1 1.6M79.9 182l10.7 -6.2M105.2 135.6l-2.5 7.4M102.7 142.9l-0.1 21.3M102.7 142.9l-13 2.5M89.7 145.5l1.1 19.9M110.1 448.9l-5 -9.2M110.1 448.9l-9.2 4.9M100.9 453.8l-1.2 -1.1M99.7 452.7l-3.3 -10M96.4 442.7l3.6 -4.3M105.1 439.8l-5.1 -1.3M113.5 448.6l-3.5 0.3M115 434.9l-9.9 4.9M101.2 457.4l-0.3 -3.6M85.6 440.6l10.8 2.2M100.1 427.8l0 10.6M22.4 300.2l-0.7 8.2M4.4 300.5l0.8 5.4M5.2 305.9l6 3.6M11.2 309.6l10.4 -1.2M38.1 306.4l-14.7 4.6M23.3 311l-1.7 -2.6M1.1 381.6l-4.1 -6.9M-14.1 373.8l11.1 0.8M4 382.1l5.3 -11.4M9.3 370.7l-10.9 1.2M-1.6 371.9l-1.4 2.8M109 330l-13.4 6.2M109 330l4.7 11.1M113.7 341.1l-3.4 3.9M110.3 345l-8 -0.2M102.3 344.8l-6.7 -8.6M97.2 359.3l-0.2 -8.3M111.6 358.7l-1.3 -13.7M97 350.9l5.3 -6.1M62.3 318.2l15.5 1.1M62.2 334.5l16 -14.5M77.8 319.3l0.5 0.7M70.1 306l-7.9 1.8M70.1 306l6.7 5M77.8 319.3l-0.9 -8.4M9.3 370.7l3.1 -2.6M18.1 384.1l2.5 -8.8M12.4 368.1l8.2 7.2M34.5 361.3l-7.7 -0.1M33.5 374.9l-12.6 0.2M26.7 361.2l-5.8 13.9M20.6 375.3l0.3 -0.2M137 329.9l-12.3 -6.7M137 329.9l-2.5 6.5M134.5 336.4l-4.5 1.7M130.1 338.1l-5.7 -6.1M124.4 332l0.2 -8.8M124.6 323.2l0.2 0M145.2 323.9l-5.8 -8.3M144.9 326.8l-7.9 3.1M139.4 315.6l-14.6 7.6M149.7 341.6l-8.6 1M141.2 342.6l-6.6 -6.2M122.5 321.7l4 -12.7M122.5 321.7l2 1.5M126.5 309l3.5 -0.9M130 308.2l9.4 3.6M139.4 311.7l0 3.9M122.7 359.4l12.5 -3.4M122.7 359.4l-1.9 -0.3M120.8 359.1l2.7 -13.7M135.2 356l-1 -5.9M134.1 350.1l-6.7 -5.4M123.5 345.4l3.9 -0.7M135.5 356.3l-0.3 -0.3M130.1 370.5l-7.4 -11.1M115.5 360.9l5.3 -1.8M114.4 341.1l9 4.3M114.4 341.1l-0.7 0M141.2 342.6l-7 7.5M130.1 338.1l-2.6 6.7M114.4 341.1l9.9 -9.1M94 240.9l-0.1 -8.3M107.5 230.9l-1.5 7.9M107.5 230.9l-2.6 -2.7M105 228.2l-11 4.5M84.8 226.9l2.2 -1.6M93.9 232.7l-7 -7.4M80.4 213.7l-10.7 5.4M80.4 213.7l8.7 4.5M75.8 227.7l-6.1 -8.7M89.2 218.2l-2.3 7.1M115.7 245.6l2.5 -3.5M115.6 229.9l-8.1 0.9M115.6 229.9l1.3 1.3M116.9 231.2l1.4 11M120 219.3l-4.4 10.6M132.5 230.8l-2.5 2.5M116.9 231.2l13.1 2M116.1 251.2l2.9 1.2M119 252.4l9.7 1.5M118.3 242.2l8.2 -2.4M128.7 254l-2.2 -14.2M130 233.2l-1.2 4M126.5 239.8l2.3 -2.5M132.7 297.4l-2.6 10.8M132.7 297.4l-9 -2.4M123.7 295l-5.8 4.6M126.5 309l-8.2 -7.2M118.4 301.8l-0.5 -2.2M83.4 464l-6.3 -2.9M83.4 464l4.7 -0.6M88.2 463.4l0.8 -9.9M77.1 461.1l1.5 -5.6M78.6 455.5l6.4 -4.4M85 451.1l3.9 2.4M83.6 473.1l-0.2 -9.1M70.6 464.6l6.5 -3.5M92 464.9l-3.8 -1.6M99.7 452.7l-10.7 0.8M69.2 442.9l9.4 12.6M85.2 440.7l-0.2 10.4M7.9 100l-7.8 2.3M-6.7 99.8l6.8 2.4M16.8 189.1l-0.8 -8.4M5.8 193.4l-2 -13.6M16 180.7l-12.1 -0.8M-1 171.2l0.2 0.2M1.4 136.6l9 7.5M10.4 144.1l0.3 22.6M10.7 166.8l-11.5 4.6M-6.5 183.1l6.1 -7.1M3.8 179.9l-4.2 -3.8M-0.4 176l-0.3 -4.6M77.4 203.5l-4.3 -2.2M77.4 203.5l11.2 -4.1M79.7 187.6l-7.1 4.7M88.6 199.4l2.8 -5.9M73.1 201.3l-0.5 -9M68 218.8l0.2 -0.1M68 218.8l-11.9 -2.9M68.2 218.7l-1.8 -13.6M56.1 215.9l-2.1 -9.6M53.9 206.3l9.4 -1.8M66.4 205.1l-3 -0.6M59.8 231.4l8.2 -12.6M69.7 219.1l-1.6 -0.4M51.1 223.6l5 -7.8M80.4 213.7l-3 -10.2M73.1 201.3l-6.7 3.8M30.6 208.9l8.7 -7.2M42.4 217.3l5.4 -11.6M39.3 201.7l8.5 3.9M24.5 193l4.2 -1.9M28.7 191.1l8.8 3.6M39.3 201.7l-1.8 -7M53.9 206.3l-2.5 -1.3M47.8 205.6l3.6 -0.7M107.4 206.2l-3.3 -5.2M107.4 206.2l-4.1 11M104.1 201l-11.7 7.8M103.2 217.2l-1 0.8M102.3 217.9l-9.9 -1.5M92.4 208.8l0 7.6M118.4 205.5l-11 0.7M103.1 196.4l1 4.7M119.3 218.1l-16 -1M88.6 199.4l3.8 9.4M105 228.2l-2.7 -10.2M89.2 218.2l3.2 -1.8M101.2 126.7l-5.6 0M89.7 145.5l-0.1 -0.5M89.5 145l1.5 -15.4M95.6 126.6l-4.6 3M100.1 109.6l-11.5 3.4M95.6 126.6l-6.9 -13.6M84.9 103.8l2.7 8.8M88.6 113l-1.1 -0.4M34.7 103.5l1.2 5.3M20.6 101.5l1.6 12.4M22.2 113.9l13.8 -5.1M294.5 427.3l6.5 -0.7M296.5 443.1l9 -7.4M305.4 435.7l-4.4 -9.1M296.3 445.2l6.5 7.6M302.7 452.8l8.8 -2.4M311.5 450.4l-4.5 -14.1M305.4 435.7l1.6 0.6M303 397.6l-1.4 28M301 426.6l0.6 -1M313 398.9l3 4.1M301.6 425.6l15.9 -2.8M317.5 422.8l-1.5 -19.7M316 403.1l7.1 -8.1M323.9 474.6l-11.4 2.2M320 490.5l-5.4 -2.3M314.5 488.2l-2.1 -11.3M295.8 521.4l-4.7 4.5M291.1 525.9l3.8 9.1M296 519.5l-3.1 -9.6M308.1 510.4l-10.8 -7.4M292.9 509.9l4.4 -6.9M279.4 531.6l-7.1 -4.8M279.4 531.6l10.1 -5.7M272.3 526.9l4.8 -11.6M289.5 525.9l-10.7 -11.7M278.8 514.2l-1.7 1M267 527.2l5.3 -0.3M291.1 525.9l-1.6 0M263.5 513.2l13.6 2M292.9 509.9l-12 -1.2M280.9 508.7l-2.1 5.6M278.4 503.1l0.6 0.8M278.4 503.1l-5.1 -2.3M279 503.8l1.8 4.9M316.3 462.4l-8.8 5.9M312.5 476.8l-5.2 -3.4M307.4 468.3l-0.2 5.1M295 256.5l3.5 8.3M310 263.2l2.2 -5.7M310 263.2l-5.6 3.6M298.6 264.8l5.8 2.1M318.1 243.3l5.8 -1.1M314.2 256.3l9.1 1.6M317.8 276.8l-7.8 -13.6M317.8 276.8l9.7 -7.9M295.1 335.4l1.9 -1.3M289.1 316.8l6.6 6.1M295.8 322.9l1.1 11.2M308.5 347.8l-6.9 -13.7M296.9 334.1l4.7 0M0.3 433.8l-9.3 2.5M1.7 452.3l-6.2 -1.9M-9.5 304.5l7 11.7M-2.5 316.3l-0.8 3.7M5.2 305.9l-7.7 10.3M160.7 322.1l2.5 -1.7M164.6 336.2l8.6 -5.5M173.2 330.7l-0.1 -7M163.1 320.4l9.9 3.3M173.2 330.7l3.4 2.4M181.5 321.6l-7.6 1M184.9 334.6l-8.4 -1.5M173.1 323.6l0.9 -1M188.4 311.7l-7.2 -3.9M174 322.6l0.5 -10.1M181.1 307.8l-6.6 4.7M162.3 310l5.1 -0.8M162.3 310l0.9 10.4M174.5 312.5l-7.1 -3.3M174.4 348.7l-3.9 6.7M174.4 348.7l0.8 -0.2M175.3 348.5l6.1 0.7M181.4 349.2l0.2 14.7M170.5 355.4l10.7 8.9M181.2 364.2l0.4 -0.4M167.2 343.9l7.2 4.9M163.9 360l6.7 -4.6M176.5 333.1l-1.3 15.4M186.8 347.1l-5.4 2M191 362.5l-9.4 1.4M178.9 368.6l2.3 -4.4M171.6 231.4l-0.7 6M187.8 242.6l-7.7 5.5M180.1 248.1l-9.2 -10.7M158 231.1l-1.3 12.9M156.6 244l6.2 3.1M170.9 237.4l-8.1 9.7M201.1 253.2l-8.8 4.4M191 243.1l-0.2 13.8M192.3 257.6l-1.5 -0.7M200 269.1l-4.4 -1.8M192.3 257.6l3.3 9.8M180.1 248.1l-1.6 4.1M178.5 252.2l2.7 6.1M190.8 256.9l-9.5 1.4M178.5 252.2l-8.8 0.1M162.8 247.1l1.5 3.8M169.8 252.3l-5.4 -1.3M143.1 235.3l1.2 6M156.6 244l-3.8 0.7M144.3 241.3l8.5 3.5M128.8 237.3l9.2 11.5M144.3 241.3l-6.3 7.5M63.4 292.3l-0.1 -19.6M63.4 292.3l8.1 5.2M75.5 277.4l0.2 17.4M75.5 277.4l-6.4 -9.2M69.1 268.2l-5.7 4.4M71.5 297.4l4.2 -2.7M57.1 299.3l6.3 -7M57.7 265.7l5.7 6.9M70.1 306l1.4 -8.5M72.1 257.3l-3 10.9M83.6 267.2l-8.1 10.1M318.3 226.6l-0.6 -4.5M318.3 226.6l7.5 3.8M326.3 214.9l-8.6 7.1M318.3 226.6l-7.4 6M309.3 99.8l6.8 2.4M311.6 115.5l7.4 -3M319 112.5l-2.9 -10.3M283.5 14.4l4.1 -15.1M283.5 14.4l-4.7 -1.6M278.9 12.8l-1.2 -15.3M287.7 -0.8l-10 -1.8M265.7 3.7l10.5 -7.2M272.2 12l6.7 0.7M276.2 -3.5l1.5 1M326.3 78.1l-11.5 -3.2M314.6 74.6l5.6 -9.1M287.7 -0.8l0 0M287.7 -0.8l-3.1 -10.5M294 49.4l9.9 6.3M296.9 67.8l7.3 -8M303.9 55.6l0.4 4.1M313.8 74.4l-7.2 -13.5M320.1 65.4l-2 -5M318.1 60.4l-11.5 0.5M304.3 59.8l2.3 1.2M158.6 -11.9l-5.1 10.4M169.8 -1.1l-4.1 6.8M165.7 5.7l-12.1 -7.2M229.1 27.2l-3.6 13.6M229.1 27.2l-8.1 -3M215.6 25.3l5.4 -1.1M215.6 25.3l1.9 15.4M217.6 40.7l2.7 2.6M225.5 40.8l-3.7 2.5M221.8 43.3l-1.5 0M236.6 17.6l-2.7 8.8M226.7 10.4l-5.6 13.7M233.9 26.4l-4.8 0.8M226.7 48.9l-4.9 -5.5M236 49.3l-4.7 -8.8M231.3 40.5l-5.8 0.3M214.4 59.9l-0.7 -4.2M213.7 55.6l6.6 -12.3M237.5 29.7l1.4 7.2M237.5 29.7l10.6 -3.2M248.1 26.5l6.6 3.1M242.1 39.7l-3.2 -2.8M242.1 39.7l11.1 -2.5M253.3 37.2l1.4 -7.5M233.9 26.4l3.6 3.4M231.3 40.5l7.7 -3.6M244.2 13.5l3.8 13M258.9 26.4l-4.2 3.2M241.4 48.7l0.7 -9M258 44.5l-4.8 -7.3M267.8 28.5l-0.4 -0.3M204.1 28.1l-8.1 -2.9M204.1 28.1l8.3 -4.3M196 25.2l3.9 -14.6M212.4 23.8l-1 -4.3M211.4 19.5l-10 -9.2M201.4 10.3l-1.5 0.3M192 26.1l4 -0.8M192.3 37.2l3.8 4.1M196 41.2l7.3 -1M203.3 40.3l0.9 -12.2M215.6 25.3l-3.2 -1.5M217.6 40.7l-13.7 0M203.8 40.7l-0.5 -0.5M191.9 8l8 2.6M184.8 23.3l-0.1 -9.7M215.2 12.1l-3.9 7.4M208.8 0.3l-7.3 10M50.1 169.2l1 -22.9M50.1 169.2l1.6 1.3M51.7 170.5l10.5 -10.1M51.1 146.2l10.3 -2.9M61.5 143.3l0.7 17M75.9 142.8l-0.8 -3.2M75.9 142.8l-1.1 24.4M75.1 139.6l-10.1 -5.3M65 134.3l-3.5 9M62.2 160.3l8.6 8.3M70.9 168.7l4 -1.5M89.5 145l-13.7 -2.2M88.6 169l-13 -1.4M74.8 167.1l0.9 0.5M79.9 182l-0.5 -0.5M75.7 167.6l3.8 13.8M48.7 125.1l4.5 2.5M48.7 125.1l-2.7 -12M55 113.3l-5.5 -2.3M55 113.3l3.3 13.4M58.3 126.8l-5.2 0.8M49.5 111.1l-3.5 2M51.2 103.9l-1.7 7.2M60.8 100l1.3 11.9M62.1 111.9l-7.1 1.4M48.7 140l4.4 -12.4M48.7 140l2.4 6.3M62.5 127.9l2.5 6.4M62.5 127.9l-4.2 -1.1M35.9 108.8l3 3.9M39 112.6l7 0.5M11.2 309.6l0 11.9M-3.1 320.4l10.6 4.5M11.2 321.5l-3.8 3.4M-1.6 371.9l0.9 -9.4M-0.7 362.5l-8.6 -1.2M124.7 272.3l-4.6 -3.7M124.7 272.3l-1 22.8M120.1 268.6l-9.3 0.2M117.9 299.6l-6 -2.7M111.9 297l-1.1 -28.3M111.2 254.6l-2.4 10.6M96.7 264.8l4.1 2.2M100.8 267l7.9 -1.7M119 252.4l1.1 16.1M108.7 265.2l2 3.5M88.8 273.5l0.2 21.8M75.7 294.8l6.7 3.1M89 295.4l-6.6 2.5M76.9 311l4 -4M82.4 297.8l-1.6 9.1M89 295.4l5.8 4.2M80.8 306.9l12.1 1.4M92.9 308.3l1.9 -8.7M100.8 267l-0.3 31.2M94.8 299.5l5.7 -1.4M111.9 297l-7.2 2.3M100.5 298.1l4.2 1.2M0.1 102.3l2.9 10.3M-4.4 115.5l7.4 -3M13.5 168.2l4 9.9M13.5 168.2l10.3 -6.5M23.8 161.7l2 4M25.9 165.7l-0.7 11.1M25.2 176.8l-7.6 1.3M16 180.7l1.6 -2.6M10.7 166.8l2.8 1.4M39 168l-1 -1.5M39 168l-3.8 9.8M38 166.5l-12.1 -0.9M35.3 177.8l-4.3 2M30.9 179.8l-5.7 -3M28.7 191.1l2.2 -11.3M35.3 177.8l6.3 4.8M37.5 194.7l4.1 -3.9M41.6 182.6l0 8.2M51.4 205l1.6 -13.3M41.6 190.8l11.4 0.8M81.7 127l1.5 -11.4M81.7 127l-1.2 0.6M80.5 127.6l-12.1 -6.9M83.2 115.6l-12.4 -1.5M68.4 120.7l0.9 -5.2M69.3 115.5l1.5 -1.3M91 129.6l-9.4 -2.6M87.6 112.6l-4.4 3M75.1 139.6l5.4 -12M62.5 127.9l5.9 -7.2M73.1 103.3l-2.3 10.9M62.1 111.9l7.2 3.6M21.5 115.4l0.3 5.6M21.5 115.4l-11.2 -4.4M21.8 121l-10.3 3.3M6.7 113.9l3.6 -2.9M6.7 113.9l2 9.6M8.7 123.4l2.8 0.9M12.3 103.1l-1.9 7.9M22.2 113.9l-0.7 1.5M3 112.5l3.7 1.3M0.2 128l8.5 -4.6M10.4 144.1l4.3 -6.7M14.7 137.4l-3.2 -13.1M33 124.8l-5.6 0.9M33 124.8l5.3 4.1M27.4 125.6l-4 12.7M38.3 128.9l2 9.8M23.7 139.5l-0.3 -1.2M23.7 139.5l14.2 6.9M37.9 146.4l2.4 -7.8M39 112.6l-6 12.1M21.8 121l5.6 4.6M48.7 125.1l-10.3 3.8M14.7 137.4l8.7 1M48.7 140l-8.4 -1.3M23.8 161.7l-0.1 -22.2M38 166.5l-0.1 -20.1M39 168l11.1 1.2M307 436.3l9.3 -2.5M317.5 422.8l2.4 4.2M316.3 433.8l3.7 -6.8M311.5 450.4l6.2 1.9M316.3 433.8l6.4 11.5M316.7 505.4l-10.1 -7.6M297.3 503.1l0 -4.4M306.6 497.8l-9.3 0.9M314.5 488.2l-3.5 0.9M306.6 497.8l4.5 -8.8M279 503.8l17.3 -6.7M296.4 497.1l1 1.6M302.7 452.8l-2.8 6.4M285.4 451.3l4.2 8.3M289.6 459.6l10.3 -0.4M307.4 468.3l-5.3 -4.8M300 459.2l2.1 4.3M317.8 276.8l-1.4 20.8M316.4 297.6l4 3M286.4 268.8l-6.6 8.1M286.4 268.8l5.6 4.1M292 272.9l0.6 22.8M292.7 295.8l-11.5 -0.1M279.8 276.8l0.5 17.9M280.3 294.7l0.9 0.9M285.1 254.9l1.3 13.9M273.7 267.1l6.1 9.7M298.6 264.8l-6.5 8.1M269.8 298.1l10.5 -3.4M282 305.9l-0.9 -10.2M314.8 346.8l1.6 -7.4M301.7 334.1l6 -2.8M307.7 331.3l8.7 8.2M316.3 339.5l8.2 -5.5M0.3 462.4l-8.8 5.9M175.6 268.2l1.4 30M175.6 268.2l4.2 -3.7M179.9 264.4l8.4 12M188.3 276.4l0 16.9M188.3 293.3l-9.1 5.9M179.1 299.3l-2.1 -1.1M172.4 298.6l4.7 -0.4M172.4 298.6l-9.2 -4.8M171.2 267.8l-6.7 2.8M171.2 267.8l4.5 0.3M163.2 293.7l1.4 -23.1M181.3 258.3l-1.4 6.2M171.2 267.8l-1.4 -15.5M195.6 267.3l-7.3 9.1M197.2 300l-8.9 -6.7M181.1 307.8l-2 -8.5M167.4 309.2l5 -10.7M164.3 250.9l-4.5 9.1M152.9 244.8l-2.6 9M150.3 253.8l9.5 6.3M164.5 270.7l-4.8 -7.1M159.8 260.1l0 3.5M273 191.1l9.4 -0.7M269.6 207.2l11.8 -5.5M281.4 201.7l1 -11.2M284.7 181.6l5.9 -7.1M284.7 181.6l0.3 6.5M285 188.1l3 1.3M288 189.5l8.8 1M296.8 190.5l4.7 -8.6M290.6 174.5l8.1 2.8M301.5 181.8l-2.7 -4.5M278 177.8l6.8 3.8M290.4 168.8l0.2 5.7M282.3 190.5l2.7 -2.4M309.5 183.1l-8 -1.2M310.4 191l-7 6.2M303.3 197.2l-6.6 -6.7M307.5 169.4l-8.8 7.9M315.3 171.4l-0.2 -0.2M315.2 206.6l-0.6 0.2M303.3 197.2l-0.1 3.5M303.2 200.7l11.4 6.2M317.7 222.1l-6.6 -5.6M314.6 206.8l-3.5 9.6M302.3 227.8l4.5 -10M311.1 216.5l-4.3 1.3M315.2 87.7l9.1 2.1M316.1 102.3l7.8 -2.3M326.4 144.1l-9 -7.5M317.4 136.6l-1.2 -8.6M316.2 128l8.5 -4.6M314.4 143.9l3.1 -7.2M310.1 124.7l6.1 3.3M318.1 60.4l1.5 -7.5M311.3 48.3l6.2 1.1M311.3 48.3l-7.4 7.4M317.5 49.3l2.1 3.6M314.8 -10.6l-13.4 10.4M301.3 -0.2l-2.8 -2.7M298.6 -2.9l-0.2 -4.9M298.6 -2.9l-10.9 2.1M283.9 19.3l0.6 -0.6M289.8 34.2l-1.3 -11.1M288.6 23.1l-4.2 -4.4M283.5 14.4l0.1 0.1M284.4 18.7l-0.8 -4.2M301.3 -0.2l0 0.1M322.4 -4.2l-7.1 9.9M315.3 5.7l-0.4 0M301.4 -0.1l13.5 5.8M283.6 14.4l14.8 -4.1M301.4 -0.1l-2.9 10.5M311.3 48.3l-6.8 -11.5M322.8 40.8l-5.3 8.5M322.8 40.8l-11.8 -6.3M311 34.5l-6.5 2.2M296.8 38.8l6.6 -2.4M303.4 36.4l1 0.4M311 34.5l10.1 -11.7M154.4 14.5l11.4 -7.8M154.4 14.5l3.8 8.4M158.3 22.9l4.8 2.5M170 11.5l-2.2 12M170 11.5l-4.1 -4.8M163.1 25.5l4.7 -2M161.7 36l1.4 -10.5M146.9 28l11.4 -5M179.1 27.1l-11.3 -3.7M179.1 10.2l-9.1 1.2M165.7 5.7l0.2 1M147 -1l-5 3.9M147 -1l6 -0.3M153 -1.2l0.3 15.1M141.9 2.9l1.5 11M143.4 13.9l9.9 0M131.6 0.4l10.4 2.6M141.6 -12.3l5.3 11.4M153.5 -1.5l-0.5 0.3M154.4 14.5l-1.1 -0.6M142.4 15l1 -1.1M205.6 50.7l-0.7 -1.2M205.6 50.7l-9.3 10.1M204.9 49.5l-15.2 2.4M192 60.4l2.2 1.1M192 60.4l-2.3 -8.4M189.7 51.9l0 0M194.2 61.4l2.1 -0.6M213.7 55.6l-8.1 -5M203.8 40.7l1.1 8.8M212.8 61.7l-16.5 -0.9M196 41.2l-6.3 10.7M183.5 66.2l8.5 -5.9M198.8 72.5l-4.6 -11.1M181.2 48.1l8.5 3.9M23.3 311l1.2 7.1M11.2 321.5l10.8 -2.3M24.5 318.1l-2.5 1.1M39.7 320.6l-10.6 0.9M24.5 318.1l4.6 3.4M39.4 335.9l-13.2 -2.3M29.1 321.6l-2.9 12.1M89.4 336.8l-7.8 -6.6M89.4 336.8l-2.9 7.5M86.5 344.3l-4.2 3.4M77.4 333.7l4.1 -3.4M77.4 333.7l-0.7 10.3M76.7 344l5.6 3.7M97 350.9l-10.6 -6.6M95.6 336.2l-2.2 -0.6M93.4 335.5l-4 1.3M80.9 355.8l1.4 -8.1M63.1 336.1l14.3 -2.4M78.2 320l1.6 1M79.8 321l1.8 9.2M65.4 342.6l11.3 1.4M118.4 301.8l-4.9 9.9M104.7 299.3l0.7 9.3M105.4 308.6l8.1 3.1M122.5 321.7l-7.3 -0.6M113.5 311.7l1.8 9.4M109 330l0.9 -5.7M115.3 321.1l-5.3 3.2M85.8 319.6l9.6 3.4M85.8 319.6l7 -11.2M92.9 308.3l7.3 5.7M95.4 322.9l5.9 -2.9M101.3 320.1l-1.1 -6M93.4 335.5l2.1 -12.6M79.8 321l6.1 -1.5M92.9 308.3l0 0M105.4 308.6l-5.2 5.4M109.9 324.3l-8.6 -4.3M60.2 189.8l5.1 -2.1M60.2 189.8l-5.4 0M54.7 189.8l-3.6 -10.4M65.3 187.7l0.9 -9M66.2 178.7l-0.5 -1.7M65.7 177l-12.6 -3.2M53 173.8l-1.9 5.5M72.6 192.3l-7.3 -4.6M63.4 204.5l-3.2 -14.7M53 191.6l1.7 -1.8M41.6 182.6l9.5 -3.2M79.4 181.5l-13.2 -2.7M70.9 168.7l-5.2 8.3M51.7 170.5l1.3 3.4M282.2 450l-5.2 13.2M289.6 459.6l-3.4 6.9M286.3 466.5l-9.4 -3.3M268.9 459.5l4.6 4.3M263.6 473.4l8 -0.2M271.6 473.3l2 -9.5M276.9 463.2l-3.3 0.6M321.2 305.9l-7.7 10.3M323.4 324.9l-10.6 -4.5M313.5 316.3l-0.8 3.7M312.7 319.9l0.2 0.4M307.7 331.3l5.2 -10.9M295.8 322.9l11 -4.3M306.8 318.6l5.9 1.4M306.5 304.5l-7.3 6.2M306.5 304.5l0.9 -6.3M307.4 298.2l-2.9 -2M304.5 296.2l-9.6 1.6M294.9 297.8l-3.1 12M291.8 309.8l7.4 1M306.8 318.6l-7.6 -7.8M313.5 316.3l-7 -11.7M316.4 297.6l-9.1 0.6M304.4 266.9l0.1 29.3M292.7 295.8l2.2 2.1M290.7 310.7l1.1 -0.8M161.5 295.8l-11.1 -1.5M161.5 295.8l-1.8 12.5M154 309.2l5.7 -0.9M154 309.2l-9 -4.5M150.4 294.3l-5.9 6.5M145.1 304.7l-0.5 -3.8M162.3 310l-2.6 -1.8M163.2 293.7l-1.7 2M151.6 319.8l2.4 -10.7M139.4 311.7l5.7 -7.1M132.7 297.4l4.6 -1.4M137.3 296l7.2 4.8M137.2 275.3l12.1 -0.7M137.2 275.3l-4.6 -11.8M132.6 263.5l1.4 -6.8M149.3 274.6l1.8 -7.2M151.1 267.5l-8.3 -10.2M142.9 257.2l-7.2 -1.5M134 256.7l1.6 -1M137.3 296l-0.1 -20.7M150.4 294.3l-1.1 -19.7M124.7 272.3l7.9 -8.8M128.7 254l5.3 2.7M159.8 263.6l-8.6 3.9M150.3 253.8l-7.4 3.4M138 248.8l-2.4 6.9M292.5 203.2l-7.1 1.8M292.5 203.2l6.3 1.8M298.2 211.2l0.6 -6.2M298.2 211.2l-7.9 6.7M285.3 205l-0.1 9M285.3 214.1l5 3.9M281.4 201.7l4 3.3M288 189.5l4.5 13.7M303.2 200.7l-4.4 4.4M306.8 217.8l-8.6 -6.6M290.7 224.7l-0.4 -6.8M274.8 215.2l10.5 -1.2M315.3 5.7l5.9 8.7M308.1 20.8l-4.9 10.2M308.1 20.8l-3.1 -3.9M305 16.9l-2.3 -0.8M302.7 16.1l-6.4 6.6M296.2 22.8l7 8.2M320.9 22.7l-12.8 -1.9M303.4 36.4l-0.2 -5.4M314.9 5.7l-9.9 11.2M298.4 10.4l4.2 5.7M288.6 23.1l7.7 -0.3M7.4 324.9l2.2 6.7M22 319.2l-5.1 13.4M9.6 331.6l7.3 1M26.2 333.6l-2.1 2M16.9 332.6l7.2 3M311.1 489l-8.6 -3M296.4 497.1l-1.3 -4.3M295.1 492.8l7.4 -6.8M307.2 473.4l-4.9 4M302.4 477.4l0.1 8.6M32.3 346.9l-7.1 -1.6M26.7 361.2l-5.5 -4.5M25.2 345.2l-4 11.5M24.1 335.7l-0.1 7.9M25.2 345.2l-1.1 -1.7M12.4 368.1l-2.3 -9.1M21.2 356.7l-11.1 2.3M-0.7 362.5l7.9 -5.3M10.1 359l-2.9 -1.9M0.3 339.5l8.2 -5.5M0.3 339.5l-1.6 7.4M8.5 334l4.6 10.6M13.1 344.6l-6.8 9.4M-1.2 346.8l7.6 7.2M-8.3 331.3l8.7 8.2M9.6 331.6l-1.1 2.4M-7.5 347.8l6.2 -0.9M24 343.5l-10.9 1.1M7.2 357.1l-0.9 -3.1M287.6 473.4l-9.1 6.8M287.6 473.4l1.9 0.6M289.5 474l2.4 1.7M291.9 475.7l1.7 16.1M278.1 482.6l0.4 -2.5M278.1 482.6l7.6 7.8M285.7 490.4l7.9 1.4M286.3 466.5l1.3 6.8M271.6 473.3l6.9 6.8M302.1 463.5l-12.6 10.4M302.4 477.4l-10.5 -1.7M295.1 492.8l-1.5 -1M270.4 489l7.7 -6.4M278.4 503.1l7.3 -12.7" fill="none" stroke="#242424" stroke-width="3" stroke-linecap="round"/></pattern>
<pattern id="pC2" patternUnits="userSpaceOnUse" x="1620.8" y="737.6" width="316" height="37.6"><path d="M227.8 4.5l-6.7 -4.8M227.8 4.5l5.2 -2.9M233 1.6l-2.5 -11.9M221.1 -0.4l0.2 -10.9M226.6 10.2l-6.8 1M226.6 10.2l1.2 -5.7M219.8 11.1l-3.8 -7.8M216 3.3l5.1 -3.7M69.3 -8.8l-0.3 7.5M71.8 0l-2.8 -1.4M71.8 0l8.9 0.5M80.7 0.5l3.4 -2.3M84.8 -5.6l-0.7 3.8M132.2 44.7l-1.5 -5.1M120.8 37.8l9.9 1.8M120.8 37.8l-0.7 0.8M120.1 38.5l-3.4 10.5M110.5 50.1l-4.4 -9.8M106.1 40.3l-7.8 -0.9M95.9 40.8l2.5 -1.4M107.9 38.8l-1.7 1.5M107.9 38.8l12.3 -0.3M181 39l-12.1 1.8M181 39l-1.6 12.8M181 39l1.9 -1.6M182.9 37.3l10.8 6.2M182.9 -0.3l-1.9 1.6M182.9 -0.3l10.8 6.2M179.4 14.1l1.6 -12.8M179.4 14.1l9.2 1.9M188.7 16l5 -10.1M182.9 37.3l0 -6.9M194.8 43.3l1.1 -18.2M182.9 30.5l9 -6.5M191.9 24l4 1.1M182.9 -0.3l0 -6.9M195.9 -12.6l-1.1 18.2M193.7 6l1.1 -0.3M243.4 -12l1.1 9.1M233 1.6l7.7 2.2M244.5 -2.9l-3.9 6.6M256.1 -10.9l1.1 11M244.5 -2.9l12.7 3M257.2 0.1l0.4 0.5M257.6 0.6l7.7 0.3M269.1 -3.7l-3.7 4.6M10.1 10.9l6.5 -11.7M10.1 10.9l9.4 4.2M19.5 15.1l3.3 -2.2M22.8 12.9l-3.2 -12.9M19.5 0l-2.9 -0.8M25.4 -2.2l-5.9 2.1M25.4 -2.2l1.4 -9.5M14.1 -3.1l2.5 2.2M4.2 11.7l-4.6 -11.7M4.2 11.7l-10.5 6.2M-9.6 3.6l9 -3.7M-0.6 -0.1l0.2 0.1M5.5 12.3l-1.3 -0.6M5.5 12.3l4.6 -1.4M14.1 -3.1l-14.5 3.1M-2.7 -10.3l2.1 10.2M95.9 3.2l-11.8 -5M95.9 3.2l-0.1 10M80.7 0.5l1.2 13.8M95.7 13.2l-4.8 5.3M81.9 14.3l9 4.2M84.1 35.8l0.7 -3.8M84.1 35.8l11.8 5M98.3 39.4l2.4 -11.8M100.8 27.6l-9.4 -5.3M84.8 32l6.6 -9.7M69 -1.3l-8.2 1.7M60.8 0.3l-5.9 -14.2M59.3 7.5l-2.6 3M59.3 7.5l0.7 -6.4M60 1.1l-12.6 -0.4M47.4 0.8l-0.2 11.2M56.7 10.5l-9.5 1.4M95.7 13.2l5.5 1.2M100.8 27.6l4.9 -1.5M91.3 22.2l-0.5 -3.7M101.2 14.4l4.5 11.7M120.8 37.8l-3.6 -12.9M117.3 24.9l-1.8 -1M107.9 38.8l2.3 -12.6M115.5 23.9l-5.3 2.3M110.2 26.2l-4.5 -0.1M194.8 5.7l1.1 0.1M207.3 -11.4l-0.3 11.3M195.9 5.8l11.1 -5.9M216 3.3l-5.6 -0.1M207 -0.1l3.4 3.2M294.4 -2.7l-12.8 2.6M294.4 -2.7l-1.6 -9.1M281.5 -0.3l0.1 0.2M281.5 -0.3l1.6 -12.2M298.5 1.3l-4.1 -3.9M298.5 1.3l1 -0.1M299.5 1.2l5 -11.1M269.1 -3.7l12.4 3.4M298.5 1.3l-6.2 9.6M281.6 -0.1l0.4 10.8M282 10.6l10.3 0.2M299.5 1.2l6.9 2.4M313.3 -10.3l2.1 10.2M315.4 -0.1l-9 3.7M292.3 10.8l4.7 6.3M297.1 17.1l9.6 -1.4M306.4 3.6l0.2 12M56.7 10.5l-0.1 11.7M45.3 14.2l1.9 9.1M45.3 14.2l1.9 -2.3M56.7 22.2l-1.7 1.4M54.9 23.7l-7.8 -0.3M76.6 17.2l0 6M76.6 17.2l-6.5 -1.6M76.6 23.1l-7.3 5.7M70.2 15.6l-2.2 0.8M68 16.3l-3.1 4.4M69.3 28.8l-4.4 -8M81.9 14.3l-5.3 2.8M84.8 32l-8.1 -8.9M71.8 0l-1.7 15.6M59.3 7.5l8.7 8.8M60.8 0.3l-0.8 0.8M56.7 22.2l8.3 -1.5M69 36.3l-8.2 1.7M69 36.3l0.3 -7.5M54.9 23.7l5.9 14.2M80.7 38.1l-8.9 -0.5M80.7 38.1l1.2 13.8M71.8 37.6l-1.7 15.6M84.1 35.8l-3.4 2.3M69 36.3l2.8 1.4M60.8 37.9l-0.8 0.8M60 38.7l-0.7 6.4M168.9 40.8l-1.5 -1.9M182.9 30.5l-8.7 -5.3M167.3 38.9l6.8 -13.7M127.6 22.7l-10.3 2.2M127.6 22.7l6.5 2.2M130.8 39.5l1.5 -2M132.3 37.6l1.8 -12.6M127.6 22.7l0 -10.3M142.2 14.1l-3.4 8.7M142.2 14.1l-10 -7M132.2 7.1l-4.7 5.3M134.1 25l4.7 -2.1M147.5 -4.8l-3.4 4.2M144.2 -0.6l-11.9 0.6M132.3 0l1.8 -12.6M142.2 14.1l3.4 -1.6M132.2 7.1l-1.5 -5.1M145.6 12.5l-1.4 -13.1M132.3 0l-1.5 2M95.9 3.2l2.5 -1.4M100.8 -10l-2.4 11.8M195.9 43.4l11.1 -5.9M207 37.5l3.4 3.2M209.4 14l-9.5 -3.5M209.4 14l2.9 5.8M199.9 10.5l-1.3 14.2M212.3 19.8l0 3.1M212.3 22.9l-5 3.3M198.6 24.7l8.7 1.5M195.9 5.8l4 4.7M210.4 3.2l-1 10.8M219.8 11.1l-7.5 8.7M188.7 16l3.2 8M195.9 25l2.7 -0.3M222.8 26l5.4 -13.6M222.8 26l-1.4 0.3M228.1 12.4l-1.5 -2.3M221.3 26.3l-9 -3.4M216 40.9l5.1 -3.7M207 37.5l0.3 -11.3M221.1 37.2l0.2 -10.9M221.1 37.2l6.7 4.8M272.9 13l-6.1 11.1M272.9 13l7.2 -0.5M280.1 12.5l3.2 12.3M266.9 24l2.2 3.7M269 27.8l14.1 -2.7M283.3 24.7l-0.2 0.3M265.4 0.9l3.6 8.9M268.9 9.8l4 3.2M282 10.6l-1.8 1.8M315.6 0l4.6 11.7M315.6 0l14.5 -3.1M315.4 -0.1l0.2 0.1M306.6 15.6l3 2.2M309.7 17.9l10.5 -6.2M309.7 17.9l1.5 7.6M324.5 22.7l-11.2 4.6M311.2 25.4l2.1 1.9M315.6 37.6l14.5 -3.1M315.6 37.6l-0.2 -0.1M315.4 37.5l-2.1 -10.2M31.9 21.8l-1.4 -7.4M31.9 21.8l-5.1 4.2M30.5 14.4l-7.8 -1.5M19.5 15.1l-2.6 7.2M16.9 22.3l9.9 3.7M22.8 50.5l-3.2 -12.9M10.1 48.5l6.5 -11.7M19.5 37.6l-2.9 -0.8M60 38.7l-12.6 -0.4M47.4 38.4l-0.2 11.2M36.8 24.8l10.2 -1.3M36.8 24.8l-1.9 13.7M47 23.5l-1.3 13.6M45.7 37.1l-10.3 1.9M34.9 38.5l0.5 0.5M31.9 21.8l4.8 3M34.8 10.1l-4.2 4.3M34.8 10.1l10.5 4.1M47.2 23.3l-0.2 0.2M26.8 26l-1.4 9.5M25.4 35.4l9.5 3.1M47.4 38.4l-1.7 -1.2M36.8 -12.8l-1.9 13.7M47 -14.1l-1.3 13.6M45.7 -0.5l-10.3 1.9M35.3 1.4l-0.5 -0.5M25.4 -2.2l9.5 3.1M47.4 0.8l-1.7 -1.2M34.8 10.1l0.6 -8.6M144.2 37l3.4 -4.2M144.2 37l1.4 13.1M147.5 32.8l9.4 4.2M157 37l-4.1 13.1M146.6 29.5l0.9 3.3M146.6 29.5l-7.8 -6.7M132.3 37.6l11.9 -0.6M159.8 35.7l1.2 -8.2M159.8 35.7l-2.9 1.3M146.6 29.5l8.9 -7.1M155.5 22.4l5.5 5.1M167.3 38.9l-7.5 -3.1M130.8 1.9l-9.9 -1.8M117.3 -12.7l3.6 12.9M297.1 17.1l-1.9 6.5M311.2 25.4l-6.7 2.2M304.5 27.7l-9.3 -4.1M283.3 24.7l9.5 1.1M292.9 25.8l2.3 -2.2M228.1 12.4l9.8 3.2M240.7 3.7l1.5 4.4M238 15.6l4.2 -7.5M257.6 0.6l-4.8 10M242.1 8.1l10.7 2.5M269 27.8l0.1 6.1M283.1 25.1l-1.6 12.2M269.1 33.9l12.4 3.4M14.1 34.5l-0.8 -9.5M14.1 34.5l-14.5 3.1M-2.7 27.3l2.1 10.2M-2.7 27.3l11.2 -4.6M8.5 22.7l4.8 2.4M-0.6 37.5l0.2 0.1M16.9 22.3l-3.6 2.8M25.4 35.4l-5.9 2.1M16.6 36.7l-2.5 -2.2M4.2 49.3l-4.6 -11.7M-4.8 25.4l2.1 1.9M-9.6 41.2l9 -3.7M5.5 12.3l3 10.3M35.3 39l-0.6 8.6M174.2 25.2l-0.7 -1M161 27.6l8.4 -4.4M173.5 24.1l-4.1 -1M179.4 14.1l-1.3 0.7M173.5 24.1l4.6 -9.4M152.8 12.6l4.1 -13.1M152.8 12.6l1.8 1.4M154.6 14l9.1 -0.3M163.7 13.7l4.8 -5.3M159.8 -1.9l7.5 3.1M159.8 -1.9l-2.9 1.3M168.4 8.4l0.4 -5.3M168.9 3.2l-1.5 -1.9M145.6 12.5l7.2 0.1M147.5 -4.8l9.4 4.2M155.5 22.4l-0.9 -8.4M169.4 23.2l-5.8 -9.4M178.1 14.8l-9.7 -6.3M161 -10l-1.2 8.2M174.2 -12.4l-6.8 13.7M181 1.4l-12.1 1.8M120.1 0.9l-12.3 0.3M120.1 0.9l-3.4 10.5M116.7 11.4l-2.9 2.8M106.1 2.7l1.7 -1.5M106.1 2.7l4.4 9.8M110.5 12.5l3.4 1.8M110.2 -11.4l-2.3 12.6M120.8 0.2l-0.7 0.8M127.6 12.4l-10.8 -1M115.5 23.9l-1.6 -9.7M98.3 1.8l7.8 0.9M101.2 14.4l9.3 -1.9M315.4 37.5l-9 3.7M304.5 27.7l-5 11.1M299.5 38.8l6.9 2.4M320.2 49.3l-4.6 -11.7M268.9 9.8l-12.5 4.6M266.9 24l-6.5 -1M260.4 23l-3.9 -8.5M252.9 10.6l1.2 2.3M256.5 14.4l-2.4 -1.5M294.4 34.9l4.1 3.9M294.4 34.9l-12.8 2.6M298.5 38.9l-6.2 9.6M281.6 37.5l0.4 10.8M292.9 25.8l1.6 9.1M299.5 38.8l-1 0.1M281.5 37.3l0.1 0.2M265.4 38.5l3.7 -4.6M265.4 38.5l3.6 8.9M260.4 23l-4.3 3.8M254.1 12.9l-9.5 12.3M256.1 26.7l-11.5 -1.5M222.8 26l7.7 1.3M227.8 42.1l5.2 -2.9M233 39.2l-2.5 -11.9M238 15.6l1.2 7.6M230.5 27.3l8.7 -4.1M244.5 25.2l-1.1 0.4M239.2 23.2l4.2 2.3M240.7 41.3l3.9 -6.6M244.5 34.7l12.7 3M252.9 48.2l4.8 -10M257.6 38.2l-0.4 -0.5M233 39.2l7.7 2.2M243.4 25.6l1.1 9.1M256.1 26.7l1.1 11M265.4 38.5l-7.7 -0.3" fill="none" stroke="#242424" stroke-width="3" stroke-linecap="round"/></pattern>
<pattern id="pD1" patternUnits="userSpaceOnUse" x="1500" y="1250" width="114.4" height="88"><rect width="114.4" height="88" fill="#fff"/><path d="M92.3 45.9l7.2 -0.3M92.3 45.9l0.4 8.8M92.7 54.7l3.9 0.2M96.6 54.9l4 -2.8M99.5 45.6l1.1 6.6M92.3 45.9l-3.8 -3M92.7 54.7l-1.4 0.9M85.2 44.9l3.2 -2M85.2 44.9l-0.4 8.3M84.8 53.2l6.5 2.4M104 60.5l4.4 2.2M104 60.5l2 -6.6M108.4 62.7l4.4 -3.7M109.8 52.6l-3.8 1.3M109.8 52.6l3.2 2.7M113 55.3l-0.3 3.6M105.4 71.5l3.6 -2.4M105.4 71.5l-4.8 -1.3M109 69.1l-0.6 -6.4M101.8 61.8l-1.3 8.4M101.8 61.8l2.2 -1.3M96.6 54.9l2.3 4.9M100.6 52.2l5.3 1.7M98.9 59.9l2.9 1.9M90.7 -9.1l0.8 7M81.3 -9.1l4.3 10.6M91.5 -2.1l-4.4 4.2M85.6 1.5l1.5 0.7M105.4 71.5l2 5.9M109 69.1l4.6 -0.2M114.6 80.3l-7.3 -2.9M114.6 80.3l1.8 -0.8M116.4 79.5l-2.8 -10.6M115.6 90.9l-3.1 -5.3M115.6 90.9l6.4 -1.9M112.6 85.6l2.1 -5.3M116.4 79.5l3.6 0.1M112.7 58.9l4.6 7.5M113.6 68.9l3.8 -2.5M121.7 54.2l-8.7 1.2M117.3 66.4l2 0M2 79.5l-1.8 0.8M2 79.5l3.6 0.1M0.2 80.3l-2.1 5.3M-1.8 85.6l3.1 5.3M1.2 90.9l6.4 -1.9M7.7 89l-2.1 -9.5M85.6 1.5l-8 2M77.5 3.4l-3.1 -5.7M74.5 -2.2l4 -7.4M85.2 44.9l-6.9 -0.9M75.1 47.5l3.2 -3.4M75.1 47.5l0.3 5.6M84.8 53.2l-5.1 2.9M79.7 56.2l-4.3 -3.1M88.5 42.9l0.4 -2.2M99.5 45.6l1.3 -1.8M100.8 43.8l-2.7 -9.1M88.9 40.7l7.3 -5.9M98.2 34.7l-2 0.1M78.3 44l-2.1 -8.4M88.9 40.7l-6.5 -8.4M82.4 32.3l-6.2 3.3M75.1 47.5l-8.2 -3M66.9 44.5l2.5 -8.8M69.4 35.6l3.6 -0.9M76.2 35.7l-3.2 -0.9M107 96.4l-0.1 -9.1M106.9 87.3l-4.4 -3.4M98.7 95.6l-0.1 -8.8M98.5 86.7l2.6 -2.7M101.2 84l1.3 -0.1M115.6 90.9l-1.6 3.6M112.6 85.6l-5.7 1.7M107.3 77.4l-4.9 6.5M108.3 36.2l-2.3 7.7M108.3 36.2l4.9 -0.6M113.2 35.5l1.5 0.5M114.5 44.3l0.5 -8M114.5 44.3l-4.1 3M115 36.3l-0.2 -0.3M110.3 47.3l-4.4 -3.5M100.8 43.8l5.1 0M98.2 34.7l2.9 -2.4M101.1 32.3l7.2 3.9M122.4 37.4l-7.4 -1.1M118.8 46.1l-4.3 -1.8M109.8 52.6l0.6 -5.3M119 27.1l-4.2 8.9M-0.3 94.5l1.6 -3.6M10.6 90.8l-3 -1.8M10.6 90.8l-1 7.5M-1.8 85.6l-5.7 1.7M22.6 80l-2.1 8.1M22.6 80l-6.6 -4.5M16 75.4l-4.7 2.8M11.3 78.2l5.4 10.2M16.7 88.4l2.5 0.3M19.2 88.7l1.3 -0.6M10.6 90.8l6 -2.4M5.6 79.6l2.3 -1.5M7.9 78.1l3.4 0.1M19.3 96.7l-0.1 -8M66.1 33.8l-1.1 -9.2M66.1 33.8l-7.5 1.3M65 24.6l-3.6 -0.3M55.7 28.7l5.7 -4.4M55.7 28.7l2.4 6.2M58.6 35.1l-0.5 -0.2M26.2 78.1l6.9 3.6M26.2 78.1l1 -7.7M31.3 69.1l-4.1 1.3M31.3 69.1l4.7 2.9M33.1 81.7l3 -9.6M53.1 97l1.5 -10.7M60.4 97.2l1.9 -8.5M62.3 88.7l-7.8 -2.4M57.9 63.7l3.7 -2.5M57.9 63.7l0.2 6.1M61.6 61.2l0.3 0.2M67.5 71.6l-6.7 0.8M67.5 71.6l0.6 -1.6M68.1 70l-6.2 -8.6M58.1 69.8l2.7 2.6M79.7 56.2l0.4 4.6M75.4 53l-4.7 2.2M70.7 55.2l-0.1 6.4M70.6 61.6l2.5 3.6M80 60.7l-6.9 4.5M68.1 70l4.9 -4M61.9 61.4l8.7 0.2M73 66l0.2 -0.8M100.6 70.2l-1.1 0.3M101.2 84l-4.6 -6.8M96.5 77.3l3 -6.8M91.5 -2.1l7 0.9M87.1 2.1l0.9 2.3M88.1 4.5l3.9 3.9M92 8.4l6.7 -0.8M98.7 7.6l-0.1 -8.8M98.5 -1.3l2.6 -2.7M88.1 4.5l-6 6.3M77.5 3.4l-0.9 2.2M82 10.8l-5.4 -5.2M74.5 -2.2l-7.8 0.5M66.7 -1.7l3.8 9.2M70.6 7.5l4.3 -0.5M76.6 5.6l-1.7 1.4M66.1 33.8l3.3 1.8M65 24.6l2.1 -1.4M73 34.7l-0.2 -6.2M72.9 28.5l-5.8 -5.3M61.4 24.3l-3.4 -6.5M58.1 17.8l11.2 -0.3M69.3 17.5l0.7 0.9M67.1 23.3l2.8 -4.9M87.7 27.1l0.6 -1.7M87.7 27.1l-4.5 3.3M83.2 30.4l-6 -6.3M88.3 25.4l0.6 -6.3M88.4 18.5l0.4 0.6M88.4 18.5l-5.9 -1.8M82.5 16.7l-5.9 1.6M77.2 24.1l-0.8 -5.7M76.7 18.2l-0.3 0.2M96.2 34.8l-8.5 -7.7M101.1 32.3l0.9 -4.1M102 28.2l-1.1 -0.9M100.8 27.3l-12.5 -1.9M82.4 32.3l0.8 -1.9M72.9 28.5l4.3 -4.4M95 19.3l5.8 7.9M95 19.3l-6.2 -0.2M92 8.4l-3.5 10.1M95 19.3l3.8 -2.4M98.8 16.9l0.6 -8.8M99.4 8l-0.7 -0.5M82 10.8l0.5 5.9M74.9 6.9l1.8 11.3M69.9 18.4l6.5 0.1M70.6 7.5l-3.9 3.7M69.3 17.5l-2.6 -6.3M98.8 16.9l7.2 2.4M102 28.2l2.2 -1.9M104.1 26.3l1.9 -7M113.2 35.5l-2.9 -8M104.1 26.3l6.2 1.3M119 27.1l-3.3 -3.2M110.3 27.6l5.4 -3.6M123.6 18.3l-8.7 1.1M115.7 23.9l-0.8 -4.5M66.9 44.5l-0.9 0.5M70.7 55.2l-4 -0.9M66 45l0.8 9.4M58.6 35.1l4 9.9M66 45l-3.3 0M61.6 61.2l0.5 -4.6M66.8 54.4l-4.7 2.3M0.2 80.3l-7.3 -2.9M55.7 28.7l-4.4 -1.8M51.3 26.8l-0.6 -5.1M58.1 17.8l-1.2 -1.2M50.7 21.7l6.2 -5.2M62.7 44.9l-5.7 3.3M62.1 56.6l-5.9 -5.7M56.2 50.9l0.8 -2.7M26.2 78.1l-3.6 1.9M27.2 70.4l-2.7 -1.6M16 75.4l0.6 -3.1M24.5 68.8l-7.9 3.5M7.9 78.1l-1.1 -9.4M6.8 68.6l7.9 0.4M16.6 72.3l-2 -3.3M35.1 93.2l-3.1 -5.6M22.3 88.6l6.3 9.3M22.3 88.6l9.7 -1M20.5 88l1.8 0.6M33.1 81.7l0.2 0.4M33.3 82l-1.3 5.6M33.3 82l6.5 -0.1M35.1 93.2l8.3 -5.3M39.8 81.9l3.6 6M48.7 96.7l-3.3 -8.3M54.5 86.3l-0.5 -0.7M54 85.6l-3.5 -1.6M50.5 84l-5.1 4.4M45.4 88.4l-2 -0.4M74.5 85.8l4 -7.4M74.5 85.8l-7.8 0.5M65.2 82.8l0.7 3M65.2 82.8l4.2 -7.2M69.4 75.6l9 2.7M66.7 86.3l-0.9 -0.4M70.6 95.5l-3.8 -9.2M77.5 91.4l-3.1 -5.7M62.3 88.7l3.5 -2.8M59.8 79.5l5.4 3.4M59.8 79.5l-5.7 6.1M67.5 71.6l1.9 4M59.8 79.5l-0.8 -1.9M60.8 72.4l-1.8 5.2M79.2 72.1l-6.2 -6.1M79.2 72.1l-0.2 6M78.9 78.2l-0.5 0.2M87.1 90.1l-1.5 -0.7M87.1 90.1l4.4 -4.2M85.6 89.5l-4.3 -10.6M91.5 85.9l-0.8 -7M81.3 78.9l6.4 -1.7M90.7 78.9l-3 -1.7M88.1 92.5l-0.9 -2.3M77.5 91.4l8 -2M98.5 86.7l-7 -0.9M78.9 78.2l2.4 0.7M96.5 77.3l-5.8 1.6M91.9 65l0.8 2.3M91.9 65l-1.8 -2.4M92.7 67.3l-3.8 3.8M88.9 71.1l-6.4 -2.4M90.1 62.7l-7.4 0.2M82.7 62.9l-0.2 5.8M98.9 59.9l-7 5.2M99.5 70.4l-6.8 -3.1M91.3 55.6l-1.3 7M87.7 77.2l1.1 -6.1M79.2 72.1l3.3 -3.4M80 60.7l2.6 2.2M122.1 1l-6.4 1.9M114.6 -7.7l-2.1 5.3M115.6 2.9l-3.1 -5.3M102.4 -4.1l4.4 3.4M112.6 -2.4l-5.7 1.7M108.7 17l5.4 1.5M108.7 17l-1.8 -8.6M114.2 18.5l4.1 -7.7M106.9 8.4l0.1 -0.1M107 8.4l7.1 -1.9M118.3 10.8l-4.2 -4.3M106 19.3l2.7 -2.2M114.9 19.4l-0.7 -0.9M99.4 8l7.5 0.4M106.9 -0.7l0.1 9.1M115.6 2.9l-1.6 3.6M34.5 36.8l4.1 -5M34.5 36.8l-5.5 -2.7M38.6 31.8l0.4 -1.5M39.1 30.3l-3.7 -5.7M25.8 26.4l3.2 7.7M25.8 26.4l2.8 -2.5M28.7 23.9l6.7 0.7M66.7 -1.7l-0.9 -0.4M65.2 -5.2l0.7 3M43.7 28.5l-4.6 1.7M43.7 28.5l-0.8 -9.2M35.3 24.6l4.4 -6.3M39.8 18.3l3.1 1M51.3 26.8l-3 2M48.3 28.9l-4.6 -0.3M50.7 21.7l-4 -2.9M46.7 18.9l-3.8 0.4M44.4 60.4l-0.1 -6.1M44.4 60.4l5.6 3.7M50 64.1l3.4 -1.7M53.3 62.5l-1.3 -9.3M44.3 54.3l3.2 -1.5M52 53.2l-4.5 -0.3M57.9 63.7l-4.5 -1.3M56.2 50.9l-4.2 2.3M53.5 38.5l0.7 5.9M53.5 38.5l-5.3 -1.1M54.3 44.4l-7.3 0.5M48.2 37.4l-1.4 0.8M46.9 38.2l-2.4 3.8M44.5 42l2.5 3M58.1 34.9l-4.6 3.6M57 48.2l-2.7 -3.8M48.3 28.9l0 8.6M47.5 52.9l-0.5 -7.9M38.6 31.8l8.3 6.4M2 79.5l-2.8 -10.6M-0.8 68.9l-4.6 0.2M42.7 78.3l6.7 0.4M42.7 78.3l-2.8 -6.6M41.5 69.9l7 -0.2M41.5 69.9l-1.7 1.8M48.5 69.8l2 2.6M50.5 72.4l0 4.5M50.5 76.9l-1.1 1.8M39.8 81.9l2.9 -3.6M50.5 84l-1.1 -5.3M36.1 72.1l3.8 -0.3M40.7 63.7l3.6 -3.3M40.7 63.7l0.8 6.2M50 64.1l-1.5 5.6M31.3 69.1l2 -6.9M40.7 63.7l-6.7 -2.2M33.3 62.2l0.8 -0.7M58.1 69.8l-7.6 2.6M59 77.6l-8.5 -0.7M-7.5 -0.7l5.7 -1.7M-1.8 -2.4l2.1 -5.3M-1.8 -2.4l3.1 5.3M5.6 -8.4l2.1 9.5M1.2 2.9l6.4 -1.9M35.1 5.2l8.3 -5.3M35.1 5.2l-3.1 -5.6M32 -0.4l1.3 -5.6M43.4 0l-3.6 -6M22.6 -8l-2.1 8.1M32 -0.4l-9.7 1M22.3 0.6l-1.8 -0.6M28.6 21.1l2.9 -3.6M28.6 21.1l-4.7 -8M31.4 17.5l1 -8.2M23.9 13.1l4.7 -3.3M32.5 9.3l-4 0.6M28.7 23.9l-0.1 -2.7M39.5 17.7l0.3 0.7M39.5 17.7l-8 -0.2M34.8 8.1l3.5 2.7M34.8 8.1l-2.3 1.2M38.3 10.9l1.2 6.8M34.8 8.1l0.2 -2.9M22.3 0.6l6.3 9.3M66.6 11.2l-6.2 -1.9M65.8 -2.1l-3.5 2.8M62.3 0.7l-1.9 8.5M56.9 16.6l0.1 -5.8M60.4 9.2l-3.5 1.5M25.8 26.4l-3.4 0M22.4 26.4l-1.5 11.3M29 34.1l-6.2 4.6M20.9 37.7l1.9 1M21.8 13.1l-2.5 -4.4M21.8 13.1l-4.8 4.6M19.3 8.7l-9.7 1.6M17 17.7l-5.3 -1.9M11.7 15.9l-2.2 -5.3M9.7 10.2l-0.2 0.3M19.2 0.7l0.1 8M19.2 0.7l1.3 -0.6M23.9 13.1l-2.1 0M22.4 26.4l-3.6 -1M18.8 25.4l-1.8 -7.7M16.7 0.4l-6 2.4M16.7 0.4l2.5 0.3M10.6 2.8l-1 7.5M18.8 25.4l-5.7 3.8M13.1 29.3l-3.9 -2.1M9.2 27.2l0 -8.8M9.2 18.3l2.4 -2.5M44.3 54.3l-1.6 -0.6M34 61.5l0.6 -6.8M42.7 53.7l-8.1 1M44.5 42l-5 1.1M42.7 53.7l-3.3 -10.6M34.5 36.8l0.8 5.1M35.4 41.8l4.1 1.2M-1.4 55.3l-0.3 3.6M-1.4 55.3l8.7 -1.2M-1.7 58.9l4.6 7.5M7.3 54.2l0.4 0.2M7.7 54.3l1.3 6.2M9 60.6l-4 5.8M5 66.4l-2 0M-0.8 68.9l3.8 -2.5M-6 62.7l4.4 -3.7M6.8 68.6l-1.9 -2.2M14.7 69l1.3 -6.2M16 62.8l-7 -2.2M22.8 38.7l2 6.5M35.4 41.8l-4.2 4.5M24.8 45.2l6.3 1.2M34.7 54.7l-2.4 -2.4M31.1 46.3l1.1 6M16.7 0.4l-5.4 -10.2M7.7 1l3 1.8M50.5 -4l-5.1 4.4M50.5 -4l3.5 1.6M54 -2.4l0.5 0.7M54.5 -1.7l-1.5 10.7M45.4 0.4l3.3 8.3M53.1 9l-3.9 0M48.7 8.7l0.4 0.2M43.4 0l2 0.4M59.8 -8.5l-5.7 6.1M62.3 0.7l-7.8 -2.4M56.9 10.8l-3.9 -1.8M38.3 10.9l10.4 -2.1M46.7 18.9l2.5 -9.9M1.2 2.9l-1.6 3.6M-7.4 8.4l7.1 -1.9M9.5 10.5l-5.6 0.3M-0.3 6.5l4.2 4.3M13.1 29.3l-0.2 3.2M20.9 37.7l-3.3 -0.1M12.9 32.5l4.7 5.1M24.8 45.2l-2.2 1.6M22.6 46.7l-7.5 -4.2M17.6 37.6l-2.5 4.9M3.9 10.8l-4.1 7.7M-5.7 17l5.4 1.5M9.2 18.3l-8.7 1.1M0.5 19.4l-0.7 -0.9M24.2 56.6l-4.5 -5.1M24.2 56.6l-0.3 3.4M23.9 60l-1.8 2.5M16.3 52.1l0.5 10.3M16.3 52.1l3.3 -0.6M22.1 62.5l-5.4 -0.1M22.6 46.7l-3 4.8M32.2 52.3l-8.1 4.3M33.3 62.2l-9.4 -2.3M24.5 68.8l-2.4 -6.3M16 62.8l0.7 -0.4M13.4 51.4l-5.7 2.9M13.4 51.4l2.9 0.7M13.4 51.4l-0.8 -7.4M12.5 44l2.6 -1.5M0.6 36.3l-0.5 8M0.6 36.3l7.4 1.1M8 37.4l1.7 5.1M9.6 42.5l-5.3 3.6M4.4 46.1l-4.3 -1.8M12.9 32.5l-4.9 4.8M12.5 44l-2.9 -1.6M7.3 54.2l-3 -8.1M-1.4 55.3l-3.2 -2.7M0.1 44.3l-4.1 3M9.2 27.2l-4.7 0M0.6 36.3l-0.2 -0.3M4.6 27.1l-4.2 8.9M0.5 19.4l0.8 4.5M4.6 27.1l-3.3 -3.2M-6.1 36.2l4.9 -0.6M-1.2 35.5l-2.9 -8M0.4 36l-1.5 -0.5M1.3 23.9l-5.4 3.6" fill="none" stroke="#333" stroke-width="2.1" stroke-linecap="round"/></pattern>
<pattern id="pD2" patternUnits="userSpaceOnUse" x="1500" y="1250" width="112" height="89.6"><rect width="112" height="89.6" fill="#fff"/><path d="M118.8 -2.8l-8.8 5.1M104.5 -7.7l-1.5 7.4M102.9 -0.3l7.1 2.6M102.7 -0.2l-3.7 7.5M102.7 -0.2l-7.9 -2.8M94.7 -3l-5.5 0.7M89.2 -2.3l0.7 13.4M99 7.3l-5.1 5.1M93.9 12.5l-4 -1.3M93.9 -14.2l0.8 11.3M102.9 -0.3l-0.3 0.2M85.3 -4.5l3.9 2.2M110 2.3l3.2 7.9M118.4 12.8l-5.1 -2.6M99 7.3l9.4 5.8M113.3 10.2l-4.9 2.9M66.1 95.7l0.2 -5.2M66.3 90.5l-6.5 -4.8M59.8 85.6l-5.4 2M52.7 89.2l2.4 9M52.7 89.2l1.6 -1.6M-2.3 79l1.7 -7.9M-2.3 79l-5.2 2.9M-0.6 71.1l-8.4 -2.2M112.3 22.1l4.6 -1.2M112.3 22.1l-4.9 11.4M107.5 33.5l9.7 0.3M105.4 19l2.9 -5.9M105.4 19l6.9 3M68.8 54.1l5.1 2.4M68.8 54.1l-1.3 -11.6M77.9 48.1l-4.2 -6.2M77.9 48.1l-0.5 5.7M77.5 53.8l-3.6 2.6M67.5 42.5l6.3 -0.6M85.4 55.3l-7.9 -1.5M85.4 55.3l2 11.9M87.4 67.2l-8.2 -0.4M79.2 66.8l-5.3 -4.6M73.9 62.3l0 -5.8M65.3 31.4l-3.4 -9.9M65.3 31.4l10.6 -2.1M61.8 21.4l8.5 -3M70.3 18.4l6.3 9.1M76.6 27.6l-0.7 1.7M53.7 35.1l8 2.2M53.7 35.1l-5 6.2M48.7 41.2l8.5 8M57.2 49.2l5.5 -9.4M61.7 37.3l1.1 2.6M68.8 54.1l-11.1 2.3M67.5 42.5l-4.7 -2.6M57.6 56.4l-1.6 -1M56 55.4l1.2 -6.1M65.3 31.4l-3.6 5.9M73.8 41.9l4.6 -6.1M78.4 35.9l-2.5 -6.6M6.4 82.5l-8.6 -3.5M6.4 82.5l0.4 4.3M-9.1 89.3l7.1 2.6M6.8 86.8l-8.8 5.1M20.2 87.8l7.8 0.8M20.2 87.8l-1.1 -7.8M19.1 80l8 -5M28 88.6l4.9 -9.9M32.9 78.7l-3.3 -4M27.1 75l2.5 -0.3M19.1 80l-7.4 -5.8M11.7 74.2l-0.3 -1.8M27.1 75l-11.3 -8.6M11.4 72.3l4.3 -5.9M6.4 82.5l5.3 -8.3M-0.6 71.1l3.1 -1.9M11.4 72.3l-8.9 -3.1M31.2 66.1l0.2 0.2M31.2 66.1l-14.8 -1.6M31.3 66.3l-1.7 8.4M15.8 66.4l0.6 -1.9M22.8 54.5l-6.8 7.7M22.8 54.5l6.5 2.1M29.3 56.6l1.8 9.5M16.1 62.2l0.3 2.4M33.6 95.6l8.1 -10.1M43.4 100.2l5.1 -10M48.5 90.2l-6.9 -4.8M28 88.6l5.6 7M32.9 78.7l7.7 0.8M40.6 79.5l1.1 6M52.7 89.2l-4.2 1M48.6 79.8l5.8 7.9M48.6 79.8l-5.5 -2.5M43.1 77.2l-2.5 2.3M22.8 54.5l-1.2 -4.8M7.4 55.5l8.6 6.7M7.4 55.5l8.2 -10.1M15.6 45.3l6 4.4M77.9 48.1l6.8 -3.9M78.4 35.9l3.8 1.3M84.8 44.2l-2.6 -7M85.4 55.3l1 -0.8M86.4 54.6l2.5 -8.5M84.8 44.2l4.2 1.8M102 31.2l-10.8 2.5M102 31.2l-2 -10.4M100.1 20.8l-3.9 -2.6M96.2 18.2l-8.1 8.2M88.1 26.4l2.9 7.3M91.2 33.7l-0.2 -0.1M105.4 19l-5.4 1.7M107.5 33.5l-1.7 0.6M105.8 34.1l-3.8 -2.9M93.9 12.5l2.3 5.7M82.4 11.7l7.5 -0.6M82.4 11.7l-0.8 12.8M81.6 24.6l6.5 1.8M81.6 24.6l-5 3M82.2 37.2l8.8 -3.5M88.9 46.1l4.4 -1.7M93.4 44.3l-2.2 -10.6M87.4 67.2l0.4 0.3M87.8 67.5l1.5 6M79.2 66.8l-4.3 9.3M74.9 76.1l11 1.8M85.9 77.9l3.3 -4.4M73.8 86.6l-0.6 -9.5M73.8 86.6l5.3 1.9M73.2 77.1l1.7 -1M85.9 77.9l-0.6 7.2M79.1 88.5l6.3 -3.4M73.8 86.6l-7.5 3.9M79.1 88.5l2.6 12.4M123.4 72.3l-8.9 -3.1M118.4 82.5l-8.6 -3.5M109.7 79l1.7 -7.9M111.4 71.1l3.1 -1.9M103.1 68.9l-1 -3.1M103.1 68.9l8.4 2.2M102.1 65.8l10.7 -8.9M112.8 56.9l1.8 12.3M102.7 89.4l-7.9 -2.8M102.7 89.4l0.3 -0.2M102.9 89.3l1.5 -7.4M94.7 86.6l-0.8 -11.3M104.5 81.9l-5 -6.6M99.5 75.3l-5.6 0M89.3 73.5l4.6 1.8M85.3 85.1l3.9 2.2M89.2 87.3l5.5 -0.7M103.1 68.9l-3.6 6.5M109.7 79l-5.2 2.9M87.8 67.5l9.3 -5.2M97.1 62.3l5 3.5M118.8 86.8l-8.8 5.1M110 91.9l3.2 7.9M102.9 89.3l7.1 2.6M99 96.9l3.7 -7.5M38.1 39.1l-6 -7M38.1 39.1l8 -9M32 32.1l5.6 -9.9M37.6 22.2l2.7 1.4M46.1 30.1l-5.7 -6.5M32 32.1l-7.7 0.6M24.4 32.7l0.1 -10M37.6 22.2l-0.3 -0.9M24.4 22.7l2.6 -3.1M37.3 21.3l-10.3 -1.7M51.1 31l4.1 -9.8M51.1 31l-5 -1M40.4 23.6l12.3 -4.1M52.7 19.5l2.5 1.7M61.8 21.4l-2.1 -1.1M53.7 35.1l-2.6 -4.1M59.7 20.3l-4.5 0.9M48.6 -9.8l5.8 7.9M59.8 -4l-5.4 2M48.9 12.7l3.8 6.7M48.9 12.7l6.3 -4.1M59.7 20.3l1 -10.1M55.2 8.6l5.5 1.6M81.6 11.3l-2.6 -12.4M81.6 11.3l-8.9 1.4M72.8 12.7l-6.6 -6.6M79.1 -1.1l-5.3 -1.9M73.8 -3l-7.5 3.9M66.3 0.9l-0.2 5.2M85.3 -4.5l-6.3 3.4M82.4 11.7l-0.7 -0.4M70.3 18.4l2.5 -5.7M60.7 10.2l5.4 -4.1M73.2 -12.5l0.6 9.5M59.8 -4l6.5 4.8M55.2 8.6l-2.4 -9M54.4 -1.9l-1.6 1.6M66.9 67.4l0 6.4M66.9 67.4l-6.7 -4.3M60.2 63.2l-5.7 8.2M66.9 73.8l-6.6 4M54.5 71.4l3.5 4.8M58 76.2l2.3 1.7M73.9 62.3l-7 5.2M73.2 77.1l-6.3 -3.2M57.6 56.4l2.6 6.8M59.8 85.6l0.5 -7.8M48.6 79.8l9.4 -3.6M56 55.4l-1.1 0.2M54.5 71.4l-8.2 -1.8M54.9 55.6l-8.6 14M43.1 77.2l2.4 -7.4M31.3 66.3l9.1 -1.1M40.4 65.2l5.1 4.6M46.4 69.6l-0.9 0.3M6.8 -2.8l-0.4 -4.3M6.8 -2.8l-8.8 5.1M-2 2.3l-7.1 -2.6M6.8 12.6l5.4 -11.6M6.8 12.6l-0.4 0.2M6.4 12.8l-5.1 -2.6M1.3 10.2l-3.2 -7.9M12.1 1.1l-5.3 -3.9M-3.6 13.1l4.9 -2.9M52.7 -0.4l-4.2 1M48.5 0.6l-6.9 -4.8M48.9 12.7l-5.5 -2.1M48.5 0.6l-5.1 10M37.3 21.3l2.2 -9.8M43.4 10.6l-3.9 0.9M1.1 55.7l-0.3 1.2M1.1 55.7l-15.7 0.8M0.8 56.9l-10.7 8.9M2.5 69.2l-1.8 -12.3M7.4 55.5l-6.1 -0.2M1.3 55.3l-0.2 0.4M4.9 20.9l1.4 -8.1M4.9 20.9l-4.6 1.2M-6.6 19l6.9 3M-1 48.5l-6.3 -5M-1 48.5l2.3 6.8M0.3 22.1l-4.9 11.4M20.7 34.1l-5.5 9.8M20.7 34.1l-8.9 -6.3M5.2 33.8l2.3 7.2M5.2 33.8l5.4 -6M7.5 40.9l7.8 3M10.6 27.8l1.2 0M23 33.7l-2.3 0.4M23 33.7l5.3 11M15.6 45.3l-0.4 -1.4M28.3 44.7l-6.7 5.1M24.4 32.7l-1.4 0.9M16.7 20.9l7.7 1.8M16.7 20.9l-4.9 6.9M-1 48.5l8.4 -7.6M-4.5 33.5l9.7 0.3M4.9 20.9l5.7 6.9M6.8 12.6l9.8 1.8M16.6 14.5l0.2 6.4M98.2 46.2l-1.1 9.7M98.2 46.2l6.6 -2.7M104.8 43.5l6.3 5M97.4 56.5l15.7 -0.8M97.4 56.5l-0.3 -0.6M111 48.5l2.3 6.8M113.3 55.3l-0.2 0.4M86.4 54.6l10.7 1.3M93.4 44.3l4.8 1.9M105.8 34.1l-1 9.4M119.5 40.9l-8.4 7.6M97.1 62.3l0.3 -5.8M112.8 56.9l0.3 -1.2M119.4 55.5l-6.1 -0.2M89.2 87.3l0.7 13.4M28 -1l5.6 7M28 -1l-7.8 -0.8M33.6 6l0 0M33.6 6.1l-9.5 6.4M20.2 -1.8l-3.1 2.7M17.2 0.9l3.1 10.9M20.3 11.7l3.8 0.7M32.9 -10.9l-4.9 9.9M41.7 -4.1l-8.1 10.1M19.1 -9.6l1.1 7.8M39.5 11.5l-5.9 -5.5M27 19.6l-2.9 -7.1M12.1 1.1l5 -0.2M16.6 14.5l3.7 -2.7M41.1 59.5l5.2 -6.5M41.1 59.5l-8.5 -5.1M46.3 53l-4.9 -7.9M32.6 54.4l3.8 -8.7M36.4 45.7l2.7 -1.6M39.1 44.2l2.3 0.9M54.9 55.6l-8.6 -2.6M40.4 65.2l0.7 -5.7M29.3 56.6l3.2 -2.2M48.7 41.2l-7.3 3.9M28.3 44.7l8.1 1M38.1 39.1l1.1 5.1M20.2 87.8l-3.1 2.7M6.8 86.8l5.3 3.9M17.2 90.5l-5 0.2M-2 91.9l3.2 7.9M6.8 102.2l5.4 -11.6M17.2 90.5l3.1 10.9" fill="none" stroke="#333" stroke-width="2.1" stroke-linecap="round"/></pattern>
<filter id="fMb" x="0" y="0" width="1" height="1" color-interpolation-filters="sRGB">
<feTurbulence type="fractalNoise" baseFrequency="0.19 0.032" numOctaves="2" seed="2" result="n1"/>
<feTurbulence type="fractalNoise" baseFrequency="0.022 0.0022" numOctaves="2" seed="4" result="n3"/>
<feTurbulence type="fractalNoise" baseFrequency="0.004 0.09" numOctaves="1" seed="9" result="n2"/>
<feColorMatrix in="n1" type="matrix" values="2.00 0 0 0 -0.500  0 0 0 0 0  0 0 0 0 0  0 0 0 0 1" result="s1"/>
<feColorMatrix in="n3" type="matrix" values="1.70 0 0 0 -0.350  0 0 0 0 0  0 0 0 0 0  0 0 0 0 1" result="s3"/>
<feColorMatrix in="n2" type="matrix" values="2.00 0 0 0 -0.500  0 0 0 0 0  0 0 0 0 0  0 0 0 0 1" result="s2"/>
<feComposite in="s1" in2="s3" operator="arithmetic" k1="0.7" k2="0.35" k3="0.1" k4="0" result="m"/>
<feComposite in="m" in2="s2" operator="arithmetic" k1="0.3" k2="0.85" k3="0" k4="0" result="m2"/>
<feComponentTransfer in="m2" result="p"><feFuncR type="table" tableValues="0.16 0.175 0.19 0.205 0.22 0.25 0.31 0.43 0.58 0.72 0.82"/></feComponentTransfer>
<feColorMatrix in="p" type="matrix" values="1 0 0 0 0  1 0 0 0 0  1 0 0 0 0  0 0 0 0 1" result="g"/>
<feComposite in="g" in2="SourceGraphic" operator="in"/></filter>
<clipPath id="cMb"><rect x="2789" y="59.8" width="529.6" height="484.7"/></clipPath>
<filter id="fMc" x="0" y="0" width="1" height="1" color-interpolation-filters="sRGB">
<feTurbulence type="fractalNoise" baseFrequency="0.13 0.075" numOctaves="2" seed="6" result="n1"/>
<feTurbulence type="fractalNoise" baseFrequency="0.005 0.004" numOctaves="1" seed="3" result="n3"/>
<feColorMatrix in="n1" type="matrix" values="1.55 0 0 0 -0.275  0 0 0 0 0  0 0 0 0 0  0 0 0 0 1" result="s1"/>
<feColorMatrix in="n3" type="matrix" values="2 0 0 0 -0.5  0 0 0 0 0  0 0 0 0 0  0 0 0 0 1" result="s3"/>
<feComposite in="s1" in2="s3" operator="arithmetic" k1="0.35" k2="0.8" k3="0" k4="0.01" result="m"/>
<feComponentTransfer in="m" result="p"><feFuncR type="table" tableValues="0.06 0.08 0.11 0.145 0.18 0.22 0.27 0.33 0.42 0.54 0.68"/></feComponentTransfer>
<feColorMatrix in="p" type="matrix" values="1 0 0 0 0  1 0 0 0 0  1 0 0 0 0  0 0 0 0 1" result="g"/>
<feComposite in="g" in2="SourceGraphic" operator="in"/></filter>
<filter id="fMd" x="0" y="0" width="1" height="1" color-interpolation-filters="sRGB">
<feTurbulence type="fractalNoise" baseFrequency="0.1 0.06" numOctaves="2" seed="12" result="n1"/>
<feTurbulence type="fractalNoise" baseFrequency="0.02 0.0012" numOctaves="2" seed="5" result="n3"/>
<feColorMatrix in="n1" type="matrix" values="2.30 0 0 0 -0.650  0 0 0 0 0  0 0 0 0 0  0 0 0 0 1" result="s1"/>
<feColorMatrix in="n3" type="matrix" values="2.20 0 0 0 -0.600  0 0 0 0 0  0 0 0 0 0  0 0 0 0 1" result="s3"/>
<feComposite in="s1" in2="s3" operator="arithmetic" k1="0.5" k2="0.45" k3="0.1" k4="0" result="m"/>
<feComponentTransfer in="m" result="p"><feFuncR type="table" tableValues="0.115 0.125 0.14 0.16 0.19 0.235 0.3 0.39 0.5 0.6 0.7"/></feComponentTransfer>
<feColorMatrix in="p" type="matrix" values="1 0 0 0 0  1 0 0 0 0  1 0 0 0 0  0 0 0 0 1" result="g"/>
<feComposite in="g" in2="SourceGraphic" operator="in"/></filter>
<clipPath id="cMd"><rect x="2762" y="1190" width="552" height="473.7"/></clipPath>
</defs>
<rect width="3346" height="1705" fill="#fff"/>
<path d="M33.6 215H1294.6" fill="none" stroke="#1c1c1c" stroke-width="5.3" stroke-dasharray="44.9 15.78" stroke-dashoffset="0"/>
<path d="M34.8 212.4V1507.2" fill="none" stroke="#1c1c1c" stroke-width="5.3" stroke-dasharray="44.9 15.78" stroke-dashoffset="24.3"/>
<path d="M1292 215V1517" fill="none" stroke="#1c1c1c" stroke-width="5.3" stroke-dasharray="44.9 15.78" stroke-dashoffset="44.7"/>
<path d="M43.2 1514H1294.6" fill="none" stroke="#1c1c1c" stroke-width="5.8" stroke-dasharray="44.9 15.78" stroke-dashoffset="0"/>
<path d="M1395.3 35.3H3343" fill="none" stroke="#1c1c1c" stroke-width="6.1" stroke-dasharray="44.9 15.78" stroke-dashoffset="-2"/>
<path d="M3340 35.3V1157" fill="none" stroke="#1c1c1c" stroke-width="5.8" stroke-dasharray="44.9 15.78" stroke-dashoffset="0"/>
<path d="M3340 1157V1700" fill="none" stroke="#1c1c1c" stroke-width="5.8" stroke-dasharray="44.9 15.78" stroke-dashoffset="0"/>
<path d="M1398.1 32.3V1157.9" fill="none" stroke="#1c1c1c" stroke-width="5.8" stroke-dasharray="44.9 15.78" stroke-dashoffset="38.3"/>
<path d="M1398.1 1157.9V1705" fill="none" stroke="#1c1c1c" stroke-width="5.8" stroke-dasharray="44.9 15.78" stroke-dashoffset="44.4"/>
<path d="M1414.3 1703H3343" fill="none" stroke="#1c1c1c" stroke-width="6" stroke-dasharray="44.9 15.78" stroke-dashoffset="0"/>
<path d="M1395.2 581H3343" fill="none" stroke="#1c1c1c" stroke-width="5.9"/>
<path d="M1395.2 1157.6H3343" fill="none" stroke="#1c1c1c" stroke-width="6.5" stroke-dasharray="57.3 3.38" stroke-dashoffset="10.5"/>
<path d="M1289.5 827.5H1400M1400 285.5H1337.5V1457H1400" fill="none" stroke="#1c1c1c" stroke-width="5.4"/>
<text x="52" y="276.5" font-size="55" fill="#1a1a1a" text-anchor="start" letter-spacing="-1.4">(a)</text>
<text x="338" y="294" font-size="55" fill="#111" text-anchor="start" >①表面形核</text>
<text x="729" y="296" font-size="55" fill="#111" text-anchor="start" >②内部形核</text>
<rect x="63.5" y="644.5" width="1206" height="373" fill="#808080" stroke="#454545" stroke-width="4"/>
<ellipse cx="664.5" cy="660" rx="551.5" ry="227" fill="url(#gEl)"/>
<ellipse cx="664.5" cy="660" rx="551.5" ry="227" fill="url(#gElB)"/>
<path d="M133.7 705.3C163.3 631 190.5 641.8 161 716.2M162.5 742C207.9 580.2 238.8 588.9 193.3 750.6M204.4 773.8C240.9 596.2 274.4 603 237.9 780.7M248.2 797.9C277.3 593.3 313.3 598.4 284.2 803M306.2 821.8C322.9 625.2 361.5 628.5 344.8 825.1M363.1 838.9C373 617.8 413.9 619.6 404 840.7M411.7 850.5C417.1 614.5 459.6 615.5 454.2 851.4M450.3 856.7C452.9 647.4 496.4 647.9 493.9 857.3M497 863.9C498 645.2 542.5 645.4 541.6 864.1M547.1 868C547.4 644 592.8 644 592.5 868M583.1 870C583.1 643.3 628.9 643.3 628.9 870M630 872C630 642.7 676 642.7 676 872M679.1 871C679 643 725 643 725 871M726.4 869C726.2 643.7 771.7 643.7 771.9 869M773.2 865.1C772.4 610.4 817.2 610.3 818 864.9M821.4 859.2C819.1 612.5 863 612.1 865.3 858.8M867 852.4C862.2 617.8 904.8 616.9 909.7 851.5M917.2 842.7C908.2 621.6 949.3 619.9 958.3 841M972.9 828C957.7 627.3 996.7 624.3 1011.9 825.1M1025.3 811.2C1003 631.3 1039.8 626.7 1062.1 806.7M1077.5 788.3C1049.5 642.9 1083.5 636.4 1111.5 781.7M1127.1 758.2C1097.2 654.5 1127.8 645.6 1157.7 749.4M1152.5 748.6C1125.5 673.3 1154 663.1 1180.9 738.4M1175.9 707.9C1145 634.1 1171.6 623 1202.5 696.8" fill="none" stroke="#1a1a1a" stroke-width="3.8" stroke-linecap="round"/>
<circle cx="137" cy="620" r="20.5" fill="url(#gB)" stroke="#f2f2f2" stroke-width="3"/>
<circle cx="173" cy="607" r="9.5" fill="url(#gB)" stroke="#f2f2f2" stroke-width="3"/>
<circle cx="186" cy="568" r="20.5" fill="url(#gB)" stroke="#f2f2f2" stroke-width="3"/>
<circle cx="232" cy="542" r="21.5" fill="url(#gB)" stroke="#f2f2f2" stroke-width="3"/>
<circle cx="268" cy="554" r="10.5" fill="url(#gB)" stroke="#f2f2f2" stroke-width="3"/>
<circle cx="279.5" cy="515" r="21.5" fill="url(#gB)" stroke="#f2f2f2" stroke-width="3"/>
<circle cx="317" cy="501" r="9.5" fill="url(#gB)" stroke="#f2f2f2" stroke-width="3"/>
<circle cx="329" cy="541" r="21.5" fill="url(#gB)" stroke="#f2f2f2" stroke-width="3"/>
<circle cx="353" cy="489" r="20.5" fill="url(#gB)" stroke="#f2f2f2" stroke-width="3"/>
<circle cx="377" cy="541" r="21.5" fill="url(#gB)" stroke="#f2f2f2" stroke-width="3"/>
<circle cx="401" cy="488" r="21.5" fill="url(#gB)" stroke="#f2f2f2" stroke-width="3"/>
<circle cx="435" cy="463" r="11" fill="#7c7c7c"/>
<circle cx="448" cy="514" r="21.5" fill="url(#gB)" stroke="#f2f2f2" stroke-width="3"/>
<circle cx="472" cy="462" r="21.5" fill="url(#gB)" stroke="#f2f2f2" stroke-width="3"/>
<circle cx="498" cy="514" r="21.5" fill="url(#gB)" stroke="#f2f2f2" stroke-width="3"/>
<circle cx="522" cy="462" r="21.5" fill="url(#gB)" stroke="#f2f2f2" stroke-width="3"/>
<circle cx="534.6" cy="501" r="9.5" fill="url(#gB)" stroke="#f2f2f2" stroke-width="3"/>
<circle cx="569.5" cy="461" r="20.5" fill="url(#gB)" stroke="#f2f2f2" stroke-width="3"/>
<circle cx="606" cy="448" r="9.5" fill="url(#gB)" stroke="#f2f2f2" stroke-width="3"/>
<circle cx="594" cy="488" r="22.5" fill="url(#gB)" stroke="#f2f2f2" stroke-width="3"/>
<circle cx="643" cy="462" r="21.5" fill="url(#gB)" stroke="#f2f2f2" stroke-width="3"/>
<circle cx="643" cy="514" r="21.5" fill="url(#gB)" stroke="#f2f2f2" stroke-width="3"/>
<circle cx="690" cy="462" r="21.5" fill="url(#gB)" stroke="#f2f2f2" stroke-width="3"/>
<circle cx="690" cy="514" r="21.5" fill="url(#gB)" stroke="#f2f2f2" stroke-width="3"/>
<circle cx="737.7" cy="462" r="21.5" fill="url(#gB)" stroke="#f2f2f2" stroke-width="3"/>
<circle cx="739" cy="514" r="21.5" fill="url(#gB)" stroke="#f2f2f2" stroke-width="3"/>
<circle cx="787" cy="462" r="21.5" fill="url(#gB)" stroke="#f2f2f2" stroke-width="3"/>
<circle cx="811.5" cy="514" r="22.5" fill="url(#gB)" stroke="#f2f2f2" stroke-width="3"/>
<circle cx="835" cy="462" r="21.5" fill="url(#gB)" stroke="#f2f2f2" stroke-width="3"/>
<circle cx="882.7" cy="462" r="21.5" fill="url(#gB)" stroke="#f2f2f2" stroke-width="3"/>
<circle cx="882.7" cy="514" r="21.5" fill="url(#gB)" stroke="#f2f2f2" stroke-width="3"/>
<circle cx="930.6" cy="488" r="21.5" fill="url(#gB)" stroke="#f2f2f2" stroke-width="3"/>
<circle cx="942" cy="528" r="9.5" fill="url(#gB)" stroke="#f2f2f2" stroke-width="3"/>
<circle cx="978.5" cy="488" r="21.5" fill="url(#gB)" stroke="#f2f2f2" stroke-width="3"/>
<circle cx="980" cy="541" r="22.5" fill="url(#gB)" stroke="#f2f2f2" stroke-width="3"/>
<circle cx="1027.7" cy="514" r="21.5" fill="url(#gB)" stroke="#f2f2f2" stroke-width="3"/>
<circle cx="1064" cy="499.7" r="10" fill="#7c7c7c"/>
<circle cx="1039" cy="554" r="9.5" fill="url(#gB)" stroke="#f2f2f2" stroke-width="3"/>
<circle cx="1075.6" cy="541" r="21.5" fill="url(#gB)" stroke="#f2f2f2" stroke-width="3"/>
<circle cx="1112" cy="526" r="10" fill="#7c7c7c"/>
<circle cx="1123.5" cy="567" r="21.5" fill="url(#gB)" stroke="#f2f2f2" stroke-width="3"/>
<circle cx="1171.4" cy="594" r="22.5" fill="url(#gB)" stroke="#f2f2f2" stroke-width="3"/>
<circle cx="435" cy="463" r="4" fill="#606060"/>
<circle cx="389.6" cy="606" r="11.5" fill="#444" stroke="#222" stroke-width="3"/>
<circle cx="461" cy="606" r="11.5" fill="#444" stroke="#222" stroke-width="3"/>
<circle cx="534.6" cy="606" r="11.5" fill="#444" stroke="#222" stroke-width="3"/>
<circle cx="582.5" cy="579.4" r="11.5" fill="#444" stroke="#222" stroke-width="3"/>
<circle cx="630" cy="606" r="11.5" fill="#444" stroke="#222" stroke-width="3"/>
<circle cx="678" cy="633" r="11.5" fill="#444" stroke="#222" stroke-width="3"/>
<circle cx="775" cy="606" r="11.5" fill="#444" stroke="#222" stroke-width="3"/>
<circle cx="823" cy="579.4" r="11.5" fill="#444" stroke="#222" stroke-width="3"/>
<circle cx="894" cy="606" r="11.5" fill="#444" stroke="#222" stroke-width="3"/>
<ellipse cx="611" cy="554" rx="20" ry="18" fill="#141414"/>
<ellipse cx="706.6" cy="580.5" rx="20" ry="18" fill="#101010"/>
<circle cx="481" cy="335.5" r="11.5" fill="#383838"/><circle cx="481" cy="335.5" r="4" fill="#4a4a4a"/>
<circle cx="337" cy="440" r="10.5" fill="#383838"/><circle cx="337" cy="440" r="4" fill="#4a4a4a"/>
<line x1="521" y1="317" x2="569" y2="454" stroke="#484848" stroke-width="4.5" />
<line x1="813.8" y1="319" x2="712" y2="571" stroke="#151515" stroke-width="5" />
<line x1="523.5" y1="806" x2="576.5" y2="905.6" stroke="#f4f4f4" stroke-width="4.5" />
<text x="427" y="975" font-size="55" fill="#f4f4f4" text-anchor="start" >③外延生长</text>
<g clip-path="url(#cAm)">
<rect x="63.5" y="1050.5" width="1206.5" height="421.5" fill="#2c2c2c"/>
<path d="M63.5 1175L93.6 1185L184 1180L197 1171L237.7 1157L268 1144L335 1127L371.7 1118.8L452 1112L552.7 1102L653 1093.6L676.8 1090.5L794 1098.6L894.6 1120.4L995 1140.5L1062 1154L1129 1170.7L1162.7 1184L1182.8 1194L1236 1201L1270 1200L1270 1472L63.5 1472 Z" fill="#444" filter="url(#fSub)"/>
<path d="M1236 1195L1270 1190V1330L1180 1300Z" fill="#2e2e2e" opacity="0.55" filter="url(#bl12)"/>
<path d="M63 1170L100 1190L150 1290L63 1330Z" fill="#2e2e2e" opacity="0.5" filter="url(#bl12)"/>
<path d="M93.6 1197.5C104.3 1212.7 109.7 1225 133.8 1254.5C157.9 1284 152.7 1282.1 184 1308C215.3 1333.9 206.3 1330.2 251 1351.7C295.7 1373.2 298 1372.4 351.6 1388.5C405.2 1404.6 398.4 1401.3 452 1412C505.6 1422.7 489.2 1422 552.7 1428.7C616.2 1435.4 625.7 1435.3 690 1437C754.3 1438.7 739.4 1438.7 794 1435C848.6 1431.3 841 1432.7 894.6 1423C948.2 1413.3 950.4 1413.2 995 1398.6C1039.6 1384 1026.3 1386.3 1062 1368.4C1097.7 1350.5 1093.3 1354.8 1129 1331.5C1164.7 1308.2 1169.1 1303.3 1196 1281C1222.9 1258.7 1219 1269.1 1229.7 1247.8C1240.4 1226.5 1234.3 1213.5 1236 1201" fill="none" stroke="#222" stroke-width="15" opacity="0.65" filter="url(#bl6)"/>
<path d="M93.6 1197.5C95.3 1180.6 115.9 1193.3 140 1191C164.1 1188.7 168.8 1194.3 184 1189C199.2 1183.7 182.7 1179.5 197 1171C211.3 1162.5 218.8 1164.2 237.7 1157C256.6 1149.8 242.1 1152 268 1144C293.9 1136 307.3 1133.7 335 1127C362.7 1120.3 340.5 1122.8 371.7 1118.8C402.9 1114.8 403.7 1116.5 452 1112C500.3 1107.5 499.1 1106.9 552.7 1102C606.3 1097.1 619.9 1096.7 653 1093.6C686.1 1090.5 639.2 1089.2 676.8 1090.5C714.4 1091.8 735.9 1090.6 794 1098.6C852.1 1106.6 841 1109.2 894.6 1120.4C948.2 1131.6 950.4 1131.5 995 1140.5C1039.6 1149.5 1026.3 1145.9 1062 1154C1097.7 1162.1 1102.1 1162.7 1129 1170.7C1155.9 1178.7 1148.4 1177.8 1162.7 1184C1177 1190.2 1163.3 1189.5 1182.8 1194C1202.3 1198.5 1223.5 1186.7 1236 1201C1248.5 1215.3 1240.4 1226.5 1229.7 1247.8C1219 1269.1 1222.9 1258.7 1196 1281C1169.1 1303.3 1164.7 1308.2 1129 1331.5C1093.3 1354.8 1097.7 1350.5 1062 1368.4C1026.3 1386.3 1039.6 1384 995 1398.6C950.4 1413.2 948.2 1413.3 894.6 1423C841 1432.7 848.6 1431.3 794 1435C739.4 1438.7 754.3 1438.7 690 1437C625.7 1435.3 616.2 1435.4 552.7 1428.7C489.2 1422 505.6 1422.7 452 1412C398.4 1401.3 405.2 1404.6 351.6 1388.5C298 1372.4 295.7 1373.2 251 1351.7C206.3 1330.2 215.3 1333.9 184 1308C152.7 1282.1 157.9 1284 133.8 1254.5C109.7 1225 91.9 1214.4 93.6 1197.5Z" fill="#6c6c6c"/>
<g clip-path="url(#cLens)">
<g filter="url(#bl3)">
<path d="M80.8 1080L82.2 1117L83.9 1154L84.3 1191L80.2 1228L77.7 1265L74.7 1302L78.9 1339L80.1 1376L80.7 1413L79 1450L121.3 1450L113 1413L106.4 1376L103.5 1339L114.2 1302L121.3 1265L124 1228L120.1 1191L109.8 1154L100.4 1117L99.9 1080Z" fill="#626262"/>
<path d="M99.9 1080L100.4 1117L109.8 1154L138.3 1154L141.5 1117L144.1 1080Z" fill="#6e6e6e"/>
<path d="M109.8 1154L120.1 1191L124 1228L121.3 1265L114.2 1302L103.5 1339L106.4 1376L113 1413L121.3 1450L148.4 1450L151.1 1413L151.2 1376L150.9 1339L149.8 1302L145.7 1265L140.3 1228L141 1191L138.3 1154Z" fill="#5e5e5e"/>
<path d="M144.1 1080L141.5 1117L138.3 1154L141 1191L140.3 1228L145.7 1265L149.8 1302L150.9 1339L151.2 1376L179.6 1376L173.1 1339L171.2 1302L164 1265L168 1228L176.9 1191L184.6 1154L191.5 1117L186.4 1080Z" fill="#747474"/>
<path d="M151.2 1376L151.1 1413L148.4 1450L173.3 1450L177.6 1413L179.6 1376Z" fill="#666666"/>
<path d="M186.4 1080L191.5 1117L184.6 1154L213.7 1154L224.5 1117L222.5 1080Z" fill="#6c6c6c"/>
<path d="M184.6 1154L176.9 1191L168 1228L164 1265L171.2 1302L173.1 1339L179.6 1376L177.6 1413L173.3 1450L208.9 1450L214.5 1413L217.7 1376L213.4 1339L208.6 1302L203.8 1265L200.5 1228L205.2 1191L213.7 1154Z" fill="#6c6c6c"/>
<path d="M222.5 1080L224.5 1117L213.7 1154L205.2 1191L200.5 1228L203.8 1265L208.6 1302L213.4 1339L217.7 1376L214.5 1413L208.9 1450L232.5 1450L233.7 1413L237.3 1376L246.7 1339L248.1 1302L248.2 1265L241 1228L226.9 1191L219 1154L225.4 1117L230.4 1080Z" fill="#5e5e5e"/>
<path d="M230.4 1080L225.4 1117L219 1154L226.9 1191L241 1228L248.2 1265L248.1 1302L268.7 1302L268.3 1265L262.9 1228L263.1 1191L266.1 1154L271.6 1117L277.4 1080Z" fill="#767676"/>
<path d="M248.1 1302L246.7 1339L237.3 1376L233.7 1413L232.5 1450L264.6 1450L271.7 1413L269.1 1376L270.5 1339L268.7 1302Z" fill="#747474"/>
<path d="M277.4 1080L271.6 1117L266.1 1154L263.1 1191L262.9 1228L268.3 1265L268.7 1302L270.5 1339L269.1 1376L271.7 1413L264.6 1450L302.5 1450L298 1413L298.4 1376L296.1 1339L295 1302L303.5 1265L302.8 1228L306.7 1191L304.2 1154L303.3 1117L304.8 1080Z" fill="#565656"/>
<path d="M304.8 1080L303.3 1117L304.2 1154L306.7 1191L302.8 1228L303.5 1265L295 1302L296.1 1339L298.4 1376L298 1413L302.5 1450L345.5 1450L344.9 1413L343.7 1376L340.1 1339L337 1302L336 1265L343.3 1228L351.9 1191L357.8 1154L355.5 1117L354.2 1080Z" fill="#626262"/>
<path d="M354.2 1080L355.5 1117L357.8 1154L351.9 1191L387.3 1191L385.7 1154L374.2 1117L369.2 1080Z" fill="#7e7e7e"/>
<path d="M351.9 1191L343.3 1228L336 1265L337 1302L340.1 1339L343.7 1376L344.9 1413L345.5 1450L389.1 1450L381.9 1413L368.7 1376L362.4 1339L366.2 1302L375.1 1265L384 1228L387.3 1191Z" fill="#6e6e6e"/>
<path d="M369.2 1080L374.2 1117L385.7 1154L387.3 1191L384 1228L375.1 1265L366.2 1302L362.4 1339L368.7 1376L447 1376L446.8 1339L438.6 1302L428.7 1265L430.6 1228L434.9 1191L440.3 1154L445.4 1117L442.2 1080Z" fill="#767676"/>
<path d="M368.7 1376L381.9 1413L389.1 1450L447.6 1450L452.5 1413L447 1376Z" fill="#888888"/>
<path d="M442.2 1080L445.4 1117L440.3 1154L498.8 1154L495.3 1117L490.2 1080Z" fill="#888888"/>
<path d="M440.3 1154L434.9 1191L501.5 1191L498.8 1154Z" fill="#626262"/>
<path d="M434.9 1191L430.6 1228L428.7 1265L438.6 1302L446.8 1339L447 1376L452.5 1413L447.6 1450L497 1450L485.7 1413L479.3 1376L479.7 1339L481.6 1302L489.3 1265L499.3 1228L501.5 1191Z" fill="#5e5e5e"/>
<path d="M490.2 1080L495.3 1117L498.8 1154L501.5 1191L499.3 1228L489.3 1265L481.6 1302L515.4 1302L519.3 1265L516.3 1228L517.6 1191L511.5 1154L510 1117L508.3 1080Z" fill="#767676"/>
<path d="M481.6 1302L479.7 1339L479.3 1376L485.7 1413L497 1450L519.9 1450L515.6 1413L515.4 1376L516.6 1339L515.4 1302Z" fill="#6e6e6e"/>
<path d="M508.3 1080L510 1117L511.5 1154L517.6 1191L547.6 1191L543.5 1154L540 1117L535.7 1080Z" fill="#6e6e6e"/>
<path d="M517.6 1191L516.3 1228L547.5 1228L547.6 1191Z" fill="#565656"/>
<path d="M516.3 1228L519.3 1265L515.4 1302L516.6 1339L515.4 1376L515.6 1413L519.9 1450L547.2 1450L539 1413L537 1376L533.7 1339L530.6 1302L539.7 1265L547.5 1228Z" fill="#626262"/>
<path d="M535.7 1080L540 1117L543.5 1154L547.6 1191L547.5 1228L585.7 1228L579.1 1191L575.6 1154L580.1 1117L580.2 1080Z" fill="#888888"/>
<path d="M547.5 1228L539.7 1265L530.6 1302L533.7 1339L537 1376L574.9 1376L577.1 1339L582.8 1302L588 1265L585.7 1228Z" fill="#888888"/>
<path d="M537 1376L539 1413L547.2 1450L570.4 1450L572.7 1413L574.9 1376Z" fill="#7e7e7e"/>
<path d="M580.2 1080L580.1 1117L575.6 1154L579.1 1191L585.7 1228L636.8 1228L644.5 1191L641.8 1154L643.5 1117L636.3 1080Z" fill="#767676"/>
<path d="M585.7 1228L588 1265L582.8 1302L577.1 1339L574.9 1376L572.7 1413L570.4 1450L652.5 1450L652.9 1413L646.6 1376L639.8 1339L636.7 1302L634 1265L636.8 1228Z" fill="#6c6c6c"/>
<path d="M636.3 1080L643.5 1117L641.8 1154L644.5 1191L636.8 1228L634 1265L636.7 1302L639.8 1339L646.6 1376L652.9 1413L652.5 1450L668.6 1450L673.5 1413L673 1376L670.4 1339L662.9 1302L656.7 1265L660.8 1228L662.6 1191L667.7 1154L673.2 1117L672.6 1080Z" fill="#565656"/>
<path d="M672.6 1080L673.2 1117L667.7 1154L662.6 1191L660.8 1228L708.2 1228L705.9 1191L700.4 1154L694.5 1117L688.2 1080Z" fill="#767676"/>
<path d="M660.8 1228L656.7 1265L662.9 1302L704.6 1302L705.1 1265L708.2 1228Z" fill="#666666"/>
<path d="M662.9 1302L670.4 1339L673 1376L673.5 1413L668.6 1450L708 1450L701.4 1413L700.1 1376L698.4 1339L704.6 1302Z" fill="#747474"/>
<path d="M688.2 1080L694.5 1117L700.4 1154L725.2 1154L723.7 1117L722.6 1080Z" fill="#666666"/>
<path d="M700.4 1154L705.9 1191L708.2 1228L705.1 1265L704.6 1302L698.4 1339L700.1 1376L701.4 1413L708 1450L735.6 1450L732 1413L733 1376L731.8 1339L738.8 1302L736.5 1265L732.7 1228L731.6 1191L725.2 1154Z" fill="#747474"/>
<path d="M722.6 1080L723.7 1117L725.2 1154L731.6 1191L732.7 1228L736.5 1265L738.8 1302L731.8 1339L733 1376L732 1413L735.6 1450L769.4 1450L765.6 1413L754.5 1376L750.6 1339L750.8 1302L758 1265L765.8 1228L765 1191L764.2 1154L753.4 1117L744.7 1080Z" fill="#6e6e6e"/>
<path d="M744.7 1080L753.4 1117L764.2 1154L765 1191L765.8 1228L758 1265L750.8 1302L750.6 1339L813.6 1339L820 1302L819 1265L810.2 1228L801.3 1191L800.7 1154L799.4 1117L809.4 1080Z" fill="#6e6e6e"/>
<path d="M750.6 1339L754.5 1376L765.6 1413L769.4 1450L802.2 1450L800.6 1413L805.8 1376L813.6 1339Z" fill="#626262"/>
<path d="M809.4 1080L799.4 1117L800.7 1154L801.3 1191L810.2 1228L819 1265L820 1302L813.6 1339L805.8 1376L800.6 1413L802.2 1450L875 1450L872.1 1413L866.3 1376L869.8 1339L875.3 1302L879.6 1265L879.6 1228L876.5 1191L874.1 1154L869.1 1117L871.5 1080Z" fill="#7e7e7e"/>
<path d="M871.5 1080L869.1 1117L874.1 1154L876.5 1191L879.6 1228L879.6 1265L875.3 1302L869.8 1339L866.3 1376L872.1 1413L875 1450L922.1 1450L913.8 1413L906.7 1376L899.5 1339L899 1302L900.7 1265L908.8 1228L911.6 1191L909.4 1154L901.6 1117L893.1 1080Z" fill="#626262"/>
<path d="M893.1 1080L901.6 1117L909.4 1154L911.6 1191L942.5 1191L942.9 1154L936.1 1117L934.2 1080Z" fill="#5e5e5e"/>
<path d="M911.6 1191L908.8 1228L900.7 1265L899 1302L899.5 1339L906.7 1376L913.8 1413L922.1 1450L945.6 1450L941.5 1413L939.3 1376L936.7 1339L938.9 1302L942 1265L945.5 1228L942.5 1191Z" fill="#6e6e6e"/>
<path d="M934.2 1080L936.1 1117L942.9 1154L942.5 1191L945.5 1228L942 1265L938.9 1302L936.7 1339L939.3 1376L941.5 1413L945.6 1450L1013.9 1450L1020.7 1413L1018.8 1376L1011.8 1339L1002.5 1302L996.9 1265L1000.1 1228L1008.5 1191L1016.5 1154L1017.1 1117L1012.9 1080Z" fill="#5e5e5e"/>
<path d="M1012.9 1080L1017.1 1117L1016.5 1154L1008.5 1191L1000.1 1228L1066.7 1228L1066.4 1191L1067.6 1154L1070.7 1117L1077.4 1080Z" fill="#747474"/>
<path d="M1000.1 1228L996.9 1265L1002.5 1302L1011.8 1339L1018.8 1376L1020.7 1413L1013.9 1450L1056.6 1450L1065.5 1413L1063.9 1376L1067.9 1339L1067 1302L1064.8 1265L1066.7 1228Z" fill="#747474"/>
<path d="M1077.4 1080L1070.7 1117L1067.6 1154L1066.4 1191L1066.7 1228L1064.8 1265L1067 1302L1067.9 1339L1133.6 1339L1130 1302L1126.3 1265L1131.8 1228L1132.5 1191L1133 1154L1128.3 1117L1127.4 1080Z" fill="#5e5e5e"/>
<path d="M1067.9 1339L1063.9 1376L1065.5 1413L1056.6 1450L1143.5 1450L1141.6 1413L1136.2 1376L1133.6 1339Z" fill="#666666"/>
<path d="M1127.4 1080L1128.3 1117L1133 1154L1132.5 1191L1131.8 1228L1126.3 1265L1130 1302L1133.6 1339L1136.2 1376L1141.6 1413L1143.5 1450L1173 1450L1162.1 1413L1162.6 1376L1163.7 1339L1175.2 1302L1183.1 1265L1181.6 1228L1173.4 1191L1168.4 1154L1160.9 1117L1158.5 1080Z" fill="#666666"/>
<path d="M1158.5 1080L1160.9 1117L1168.4 1154L1173.4 1191L1181.6 1228L1216 1228L1223.3 1191L1231.4 1154L1234.6 1117L1228.1 1080Z" fill="#565656"/>
<path d="M1181.6 1228L1183.1 1265L1175.2 1302L1163.7 1339L1162.6 1376L1162.1 1413L1173 1450L1228.4 1450L1237.9 1413L1234.1 1376L1227.4 1339L1218.8 1302L1213.1 1265L1216 1228Z" fill="#747474"/>
</g>
<g mask="url(#mEq)"><rect x="300" y="1060" width="700" height="220" fill="#555" filter="url(#fEq)" opacity="0.9"/></g>
<path d="M100 1150H330L300 1330L180 1300Z" fill="#a0a0a0" opacity="0.4" filter="url(#bl12)"/>
<path d="M1050 1150L1240 1190L1230 1260L1100 1340L1000 1300Z" fill="#a8a8a8" opacity="0.38" filter="url(#bl12)"/>
<path d="M400 1300H1000L900 1440H500Z" fill="#808080" opacity="0.25" filter="url(#bl12)"/>
</g>
<path d="M93.6 1199C104.1 1214.9 109 1228.4 132.8 1258.5C156.6 1288.6 151.7 1286.1 183 1312C214.3 1337.9 205.3 1334.2 250 1355.7C294.7 1377.2 297 1376.4 350.6 1392.5C404.2 1408.6 397.4 1405.3 451 1416C504.6 1426.7 488 1425.8 551.7 1432.7C615.4 1439.6 625.4 1440.1 690 1442C754.6 1443.9 739.4 1443.7 794 1440C848.6 1436.3 841 1437.7 894.6 1428C948.2 1418.3 950.4 1418.2 995 1403.6C1039.6 1389 1026.3 1391.3 1062 1373.4C1097.7 1355.5 1093.3 1359.8 1129 1336.5C1164.7 1313.2 1169.1 1308.3 1196 1286C1222.9 1263.7 1218.5 1274.9 1229.7 1252.8C1240.9 1230.7 1235.8 1216.3 1238 1203" fill="none" stroke="#242424" stroke-width="7" opacity="0.85" filter="url(#bl3)"/>
<path d="M63 1126L150 1122L215 1124L262 1130L240 1156L200 1172L184 1190L130 1188L110 1170L63 1186Z" fill="#181818" filter="url(#bl3)"/>
<path d="M197 1164C207.9 1160.3 218.8 1157.2 237.7 1150C256.6 1142.8 242.1 1145 268 1137C293.9 1129 307.3 1126.7 335 1120C362.7 1113.3 340.5 1115.8 371.7 1111.8C402.9 1107.8 403.7 1109.5 452 1105C500.3 1100.5 499.1 1099.9 552.7 1095C606.3 1090.1 619.9 1089.7 653 1086.6C686.1 1083.5 639.2 1082.2 676.8 1083.5C714.4 1084.8 735.9 1083.6 794 1091.6C852.1 1099.6 867.8 1107.6 894.6 1113.4" fill="none" stroke="#1c1c1c" stroke-width="12" opacity="0.75" filter="url(#bl6)"/>
<path d="M894.6 1115.4C921.4 1120.8 950.4 1126.5 995 1135.5C1039.6 1144.5 1026.3 1140.9 1062 1149C1097.7 1157.1 1102.1 1157.7 1129 1165.7C1155.9 1173.7 1148.4 1172.8 1162.7 1179C1177 1185.2 1163.3 1184.5 1182.8 1189C1202.3 1193.5 1221.8 1194.1 1236 1196" fill="none" stroke="#222" stroke-width="8" opacity="0.6" filter="url(#bl6)"/>
<path d="M110 1169L150 1168L186 1188L132 1186Z" fill="#a8a8a8"/>
<path d="M128 1186L186 1189" stroke="#181818" stroke-width="3"/>
<rect x="63.5" y="1058" width="86" height="65" fill="#232323"/>
<path d="M190.8 1192.5C208.9 1198.5 212.8 1201.6 251 1212.6C289.2 1223.6 277.8 1220.3 318 1229.3C358.2 1238.3 344.8 1235.1 385 1242.7C425.2 1250.3 401.7 1246.9 452 1254.5C502.3 1262.1 486.3 1261.9 552.7 1267.9C619.1 1273.9 611 1273.1 673.3 1274.6C735.6 1276.1 704.2 1275 760.5 1273C816.8 1271 810.8 1272 861 1268C911.2 1264 887.8 1266.1 928 1259.5C968.2 1252.9 954.8 1255.5 995 1246C1035.2 1236.5 1021.8 1239.2 1062 1227.7C1102.2 1216.2 1096.8 1217.7 1129 1207.6C1161.2 1197.5 1157.3 1198.1 1169.4 1194" fill="none" stroke="#e0e0e0" stroke-width="2.2" stroke-dasharray="9 9"/>
<line x1="676.8" y1="1091" x2="1095.6" y2="1091" stroke="#8a8a8a" stroke-width="2.2" />
<line x1="1086.6" y1="1093" x2="1086.6" y2="1204" stroke="#b0b0b0" stroke-width="2" />
<polygon points="1086.6,1092 1089.6,1101 1083.6,1101" fill="#b0b0b0"/>
<polygon points="1086.6,1206 1083.6,1197 1089.6,1197" fill="#b0b0b0"/>
<line x1="680" y1="1208.6" x2="1092" y2="1208.6" stroke="#dcdcdc" stroke-width="2" stroke-dasharray="6 5"/>
<line x1="725" y1="1275.6" x2="1213" y2="1275.6" stroke="#dcdcdc" stroke-width="2" stroke-dasharray="6 5"/>
<line x1="1179.4" y1="1193" x2="1211" y2="1193" stroke="#b8b8b8" stroke-width="2" />
<line x1="1199" y1="1194" x2="1199" y2="1275" stroke="#c8c8c8" stroke-width="2" />
<polygon points="1199,1194 1202,1202 1196,1202" fill="#c8c8c8"/>
<polygon points="1199,1275 1196,1267 1202,1267" fill="#c8c8c8"/>
</g>
<text x="453.5" y="1160.5" font-size="55" fill="#f6f6f6" text-anchor="start" >Equiaxed grain zone</text>
<text x="454.5" y="1254.5" font-size="55" fill="#f6f6f6" text-anchor="start" >Columnar grain zone</text>
<text x="144.5" y="1283" font-size="55" fill="#f6f6f6" text-anchor="start" >Fusion line</text>
<text x="643" y="1384.5" font-size="55" fill="#f6f6f6" text-anchor="start" >HAZ</text>
<text x="344" y="1460.8" font-size="54.5" fill="#f6f6f6" text-anchor="start" >Substrate</text>
<text x="1091" y="1154" font-size="53" fill="#f6f6f6" text-anchor="start" font-style="italic" >d</text>
<text x="1119.5" y="1166.7" font-size="30" fill="#f6f6f6" text-anchor="start" >EG</text>
<text x="1112" y="1242.7" font-size="53" fill="#f6f6f6" text-anchor="start" font-style="italic" >d</text>
<text x="1140.5" y="1254.5" font-size="30" fill="#f6f6f6" text-anchor="start" >PM</text>
<rect x="1127.5" y="1408.6" width="131.4" height="53" fill="#fff"/>
<text x="1131.5" y="1446" font-size="51.5" fill="#111" text-anchor="start" >1 mm</text>
<line x1="1131" y1="1449.8" x2="1252" y2="1449.8" stroke="#111" stroke-width="2" />
<line x1="1131" y1="1455.8" x2="1252" y2="1455.8" stroke="#111" stroke-width="3" />
<text x="1415.5" y="94.3" font-size="55" fill="#1a1a1a" text-anchor="start" letter-spacing="-1.4">(b)</text>
<path d="M1635.4 95V536.3H2654.5V177.6" fill="none" stroke="#626262" stroke-width="2.8"/>
<path d="M1635.4 95H1977.8" stroke="#555" stroke-width="3" fill="none"/>
<path d="M1977.8 95C2002.3 96.3 2010.4 94.9 2059.3 99.3C2108.3 103.7 2092 102.8 2140.9 109.7C2189.8 116.5 2173.5 114 2222.4 122.2C2271.3 130.3 2255 127.1 2303.9 136.8C2352.8 146.6 2335.7 142.6 2385.4 154.8C2435.2 167 2444.4 170.8 2469.7 177.6" fill="none" stroke="#555" stroke-width="2.4"/>
<path d="M1957.2 96.1C1963.4 100.2 1963.5 97.4 1977.8 109.7C1992.2 121.9 1988.7 121 2005 136.8C2021.3 152.7 2007.7 142 2032.2 162.4C2056.6 182.8 2053.9 182.6 2086.5 204.8C2119.1 227 2108.3 220 2140.9 236.3C2173.5 252.6 2162.6 248.7 2195.2 259.1C2227.8 269.6 2220.2 266.5 2249.6 271.1C2278.9 275.7 2267 274.3 2293 274.3C2319.1 274.3 2308.8 275.7 2336.5 271.1C2364.2 266.5 2359.3 268.4 2385.4 259.1C2411.5 249.8 2403.9 254.8 2423.5 240.1C2443 225.4 2436.8 229 2450.7 210.2C2464.5 191.5 2464 187.4 2469.7 177.6" fill="none" stroke="#444" stroke-width="2.4"/>
<path d="M1977.8 101.5C1990.9 108 1996.8 107.8 2021.3 123.3C2045.8 138.8 2031.6 134.4 2059.3 153.2C2087.1 171.9 2081.1 167 2113.7 185.8C2146.3 204.5 2135.4 200.5 2168 215.7C2200.7 230.8 2189.8 225.7 2222.4 236.3C2255 246.9 2244.1 244.5 2276.7 251C2309.3 257.5 2301.7 256.4 2331.1 258C2360.4 259.7 2350.1 259.3 2374.6 256.4C2399 253.5 2401.2 250.7 2412.6 248.3" fill="none" stroke="#444" stroke-width="2.2"/>
<path d="M2469.7 177.6H2654.5" stroke="#555" stroke-width="3" fill="none"/>
<path d="M1636.4 95V106.6M1636.4 106.6L1646.4 112.6L1656.3 106.6M1646.4 112.6V123.6M1636.4 129.6L1646.4 123.6L1656.3 129.6M1656.3 95V106.6M1656.3 106.6L1666.3 112.6L1676.2 106.6M1666.3 112.6V123.6M1656.3 129.6L1666.3 123.6L1676.2 129.6M1676.2 95V106.6M1676.2 106.6L1686.2 112.6L1696.2 106.6M1686.2 112.6V123.6M1676.2 129.6L1686.2 123.6L1696.2 129.6M1696.2 95V106.6M1696.2 106.6L1706.1 112.6L1716.1 106.6M1706.1 112.6V123.6M1696.2 129.6L1706.1 123.6L1716.1 129.6M1716.1 95V106.6M1716.1 106.6L1726 112.6L1736 106.6M1726 112.6V123.6M1716.1 129.6L1726 123.6L1736 129.6M1736 95V106.6M1736 106.6L1745.9 112.6L1755.9 106.6M1745.9 112.6V123.6M1736 129.6L1745.9 123.6L1755.9 129.6M1755.9 95V106.6M1755.9 106.6L1765.9 112.6L1775.8 106.6M1765.9 112.6V123.6M1755.9 129.6L1765.9 123.6L1775.8 129.6M1775.8 95V106.6M1775.8 106.6L1785.8 112.6L1795.7 106.6M1785.8 112.6V123.6M1775.8 129.6L1785.8 123.6L1795.7 129.6M1795.7 95V106.6M1795.7 106.6L1805.7 112.6L1815.7 106.6M1805.7 112.6V123.6M1795.7 129.6L1805.7 123.6L1815.7 129.6M1815.7 95V106.6M1815.7 106.6L1825.6 112.6L1835.6 106.6M1825.6 112.6V123.6M1815.7 129.6L1825.6 123.6L1835.6 129.6M1835.6 95V106.6M1835.6 106.6L1845.5 112.6L1855.5 106.6M1845.5 112.6V123.6M1835.6 129.6L1845.5 123.6L1855.5 129.6M1855.5 95V106.6M1855.5 106.6L1865.5 112.6L1875.4 106.6M1865.5 112.6V123.6M1855.5 129.6L1865.5 123.6L1875.4 129.6M1875.4 95V106.6M1875.4 106.6L1885.4 112.6L1895.3 106.6M1885.4 112.6V123.6M1875.4 129.6L1885.4 123.6L1895.3 129.6M1895.3 95V106.6M1895.3 106.6L1905.3 112.6L1915.2 106.6M1905.3 112.6V123.6M1895.3 129.6L1905.3 123.6L1915.2 129.6M1915.2 95V106.6M1915.2 106.6L1925.2 112.6L1935.2 106.6M1925.2 112.6V123.6M1915.2 129.6L1925.2 123.6L1935.2 129.6M1935.2 95V106.6M1935.2 106.6L1945.1 112.6L1955.1 106.6M1945.1 112.6V123.6M1935.2 129.6L1945.1 123.6L1955.1 129.6M1955.1 95V106.6M1955.1 106.6L1965 112.6L1975 106.6M1965 112.6V123.6M1955.1 129.6L1965 123.6L1975 129.6M1975 95V106.6" fill="none" stroke="#2b2b2b" stroke-width="2.8" stroke-linejoin="round"/>
<path d="M2453 177.6V189.2M2453 189.2L2463 195.2L2473.1 189.2M2463 195.2V206.2M2453 212.2L2463 206.2L2473.1 212.2M2473.1 177.6V189.2M2473.1 189.2L2483.1 195.2L2493.1 189.2M2483.1 195.2V206.2M2473.1 212.2L2483.1 206.2L2493.1 212.2M2493.1 177.6V189.2M2493.1 189.2L2503.1 195.2L2513.2 189.2M2503.1 195.2V206.2M2493.1 212.2L2503.1 206.2L2513.2 212.2M2513.2 177.6V189.2M2513.2 189.2L2523.2 195.2L2533.2 189.2M2523.2 195.2V206.2M2513.2 212.2L2523.2 206.2L2533.2 212.2M2533.2 177.6V189.2M2533.2 189.2L2543.2 195.2L2553.2 189.2M2543.2 195.2V206.2M2533.2 212.2L2543.2 206.2L2553.2 212.2M2553.2 177.6V189.2M2553.2 189.2L2563.3 195.2L2573.3 189.2M2563.3 195.2V206.2M2553.2 212.2L2563.3 206.2L2573.3 212.2M2573.3 177.6V189.2M2573.3 189.2L2583.3 195.2L2593.4 189.2M2583.3 195.2V206.2M2573.3 212.2L2583.3 206.2L2593.4 212.2M2593.3 177.6V189.2M2593.3 189.2L2603.4 195.2L2613.4 189.2M2603.4 195.2V206.2M2593.3 212.2L2603.4 206.2L2613.4 212.2M2613.4 177.6V189.2M2613.4 189.2L2623.4 195.2L2633.5 189.2M2623.4 195.2V206.2M2613.4 212.2L2623.4 206.2L2633.5 212.2M2633.4 177.6V189.2M2633.4 189.2L2643.5 195.2L2653.5 189.2M2643.5 195.2V206.2M2633.4 212.2L2643.5 206.2L2653.5 212.2M2653.5 177.6V189.2" fill="none" stroke="#2b2b2b" stroke-width="2.8" stroke-linejoin="round"/>
<path d="M1979.4 101.5l4.6 -4.6l4.6 4.6l-4.6 4.6l-4.6 -4.6ZM1988.6 102l4.6 -4.6l4.6 4.6l-4.6 4.6l-4.6 -4.6ZM1997.8 102.5l4.6 -4.6l4.6 4.6l-4.6 4.6l-4.6 -4.6ZM2007 103l4.6 -4.6l4.6 4.6l-4.6 4.6l-4.6 -4.6ZM2016.2 103.5l4.6 -4.6l4.6 4.6l-4.6 4.6l-4.6 -4.6ZM2025.4 104l4.6 -4.6l4.6 4.6l-4.6 4.6l-4.6 -4.6Z" fill="none" stroke="#2b2b2b" stroke-width="2.2"/>
<path d="M2040 103.5v5q4.3 5 8.6 0v-5M2048.6 104.3v5q4.3 5 8.6 0v-5M2057.2 105.2v5q4.3 5 8.6 0v-5M2065.8 106v5q4.3 5 8.6 0v-5M2074.4 106.9v5q4.3 5 8.6 0v-5M2083 107.8v5q4.3 5 8.6 0v-5M2091.6 108.6v5q4.3 5 8.6 0v-5M2100.2 109.5v5q4.3 5 8.6 0v-5M2108.8 110.3v5q4.3 5 8.6 0v-5M2117.4 111.2v5q4.3 5 8.6 0v-5" fill="none" stroke="#2b2b2b" stroke-width="2"/>
<path d="M2036 102.5L2128 112" fill="none" stroke="#2b2b2b" stroke-width="2"/>
<path d="M1668 129.6C1667.4 141.7 1667.3 150.7 1665.7 174.8C1664.1 198.9 1663.7 195.9 1662.2 220C1660.6 244.1 1660.8 241.1 1659.9 265.2C1659.1 289.3 1658.7 286.3 1659 310.4C1659.3 334.5 1660.5 331.4 1661.1 355.5C1661.7 379.6 1661.4 376.6 1661.4 400.7C1661.4 424.8 1661.6 421.8 1661 445.9C1660.4 470 1660.5 467 1659.2 491.1C1657.8 515.2 1656.8 524.2 1656 536.3M1711.5 129.6C1712 141.7 1713.6 150.7 1713.2 174.8C1712.8 198.9 1711 195.9 1710 220C1709.1 244.1 1711.6 241.1 1709.7 265.2C1707.9 289.3 1705.5 286.3 1703 310.4C1700.5 334.5 1702.3 331.4 1700.3 355.5C1698.3 379.6 1697.4 376.6 1695.5 400.7C1693.5 424.8 1693.8 421.8 1693 445.9C1692.2 470 1693.7 467 1692.6 491.1C1691.5 515.2 1689.8 524.2 1688.8 536.3M1768.6 129.6C1768.5 141.7 1767.4 150.7 1768.2 174.8C1769.1 198.9 1771.1 195.9 1771.8 220C1772.5 244.1 1773 241.1 1770.8 265.2C1768.6 289.3 1766.7 286.3 1763.5 310.4C1760.4 334.5 1761.7 331.4 1758.8 355.5C1755.9 379.6 1755.2 376.6 1752.7 400.7C1750.1 424.8 1750.5 421.8 1749.3 445.9C1748.1 470 1749 467 1748.2 491.1C1747.4 515.2 1746.8 524.2 1746.3 536.3M1825.7 129.6C1825.6 141.7 1826.1 150.7 1825.3 174.8C1824.5 198.9 1823.6 195.9 1822.7 220C1821.9 244.1 1822.2 241.1 1822.1 265.2C1822 289.3 1822.6 286.3 1822.2 310.4C1821.9 334.5 1821.8 331.4 1820.8 355.5C1819.9 379.6 1820.3 376.6 1818.6 400.7C1816.9 424.8 1816.1 421.8 1814.6 445.9C1813.1 470 1814.3 467 1813 491.1C1811.7 515.2 1810.6 524.2 1809.8 536.3M1890.9 129.6C1890.7 141.7 1890 150.7 1890.2 174.8C1890.4 198.9 1891.3 195.9 1891.6 220C1891.9 244.1 1892.8 241.1 1891.3 265.2C1889.8 289.3 1888.7 286.3 1886 310.4C1883.2 334.5 1883.8 331.4 1881 355.5C1878.2 379.6 1878.3 376.6 1875.5 400.7C1872.6 424.8 1872.6 421.8 1870.3 445.9C1867.9 470 1868.7 467 1866.7 491.1C1864.6 515.2 1863.7 524.2 1862.7 536.3M1934.3 129.6C1934.7 141.7 1934.9 150.7 1935.6 174.8C1936.2 198.9 1935.9 195.9 1936.7 220C1937.5 244.1 1938.6 241.1 1938.4 265.2C1938.2 289.3 1937.1 286.3 1935.8 310.4C1934.5 334.5 1935.6 331.4 1933.6 355.5C1931.5 379.6 1929.9 376.6 1928.3 400.7C1926.7 424.8 1928.1 421.8 1927.5 445.9C1927 470 1925.7 467 1926.1 491.1C1926.6 515.2 1928.4 524.2 1929.2 536.3M1964.2 129.6C1964.6 141.7 1965.3 150.7 1965.7 174.8C1966.1 198.9 1965.1 195.9 1965.8 220C1966.5 244.1 1968.1 241.1 1968.4 265.2C1968.8 289.3 1967.7 286.3 1967.2 310.4C1966.7 334.5 1966.7 331.4 1966.5 355.5C1966.3 379.6 1966 376.6 1966.5 400.7C1966.9 424.8 1967.7 421.8 1968.2 445.9C1968.6 470 1967.1 467 1968.2 491.1C1969.2 515.2 1971.1 524.2 1972.1 536.3M2013.2 119.2C2013.4 131.5 2013.1 140.8 2014.1 165.5C2015.1 190.2 2016.3 187.2 2016.8 211.9C2017.3 236.6 2017.7 233.5 2015.8 258.2C2013.9 282.9 2011.8 279.9 2009.7 304.6C2007.5 329.3 2008.1 326.2 2007.8 350.9C2007.4 375.6 2008.2 372.5 2008.3 397.3C2008.3 422 2007.4 418.9 2008 443.6C2008.6 468.3 2009.1 465.2 2010.5 490C2011.8 514.7 2012.5 523.9 2013.2 536.3M2075.7 162.9C2076.4 174 2077.5 182.3 2078.4 204.4C2079.3 226.5 2078.8 223.8 2078.9 245.9C2079 268 2078.9 265.3 2078.6 287.4C2078.4 309.5 2078.3 306.7 2077.9 328.9C2077.4 351 2077.7 348.2 2076.9 370.4C2076.1 392.5 2075.9 389.7 2075 411.8C2074.1 434 2074.1 431.2 2073.5 453.3C2073 475.5 2072.3 472.7 2073 494.8C2073.8 516.9 2075.3 525.2 2076.2 536.3M2116.4 187.3C2116.7 197.6 2117.5 205.4 2117.4 226C2117.2 246.7 2117.1 244.1 2115.8 264.8C2114.5 285.5 2112.7 282.9 2112.5 303.6C2112.2 324.3 2112.9 321.7 2114.8 342.4C2116.8 363.1 2118 360.5 2119.9 381.2C2121.8 401.9 2119.9 399.3 2121.9 420C2123.8 440.6 2125.5 438.1 2127.1 458.7C2128.7 479.4 2127.4 476.8 2127.8 497.5C2128.2 518.2 2128.5 526 2128.8 536.3M2176.2 218.8C2175.7 228.2 2174.7 235.2 2174.5 254C2174.2 272.9 2174.9 270.5 2175.3 289.3C2175.8 308.1 2176 305.8 2176.2 324.6C2176.3 343.4 2175.1 341.1 2175.9 359.9C2176.6 378.7 2178.5 376.3 2178.9 395.2C2179.3 414 2178.2 411.6 2177.3 430.4C2176.3 449.3 2176.3 446.9 2175.4 465.7C2174.6 484.6 2174.5 482.2 2174 501C2173.5 519.8 2173.7 526.9 2173.5 536.3M2230.5 238.5C2230.7 247.3 2231.4 253.9 2231.2 271.6C2231 289.2 2230.3 287 2229.7 304.7C2229.2 322.3 2228.3 320.1 2229.3 337.8C2230.3 355.4 2230.9 353.2 2233.4 370.9C2235.9 388.5 2236.3 386.3 2238.7 403.9C2241 421.6 2240.7 419.4 2242.3 437C2243.9 454.7 2243.8 452.5 2244.6 470.1C2245.4 487.8 2245.1 485.6 2245.3 503.2C2245.6 520.9 2245.5 527.5 2245.5 536.3M2290.3 252.7C2290.2 261.1 2289.8 267.4 2290 284.3C2290.3 301.1 2290.3 299 2291.2 315.8C2292.1 332.6 2292 330.5 2293.5 347.3C2295 364.1 2295.4 362 2296.9 378.8C2298.4 395.6 2298.6 393.5 2299.1 410.3C2299.6 427.1 2298.8 425 2298.7 441.8C2298.7 458.6 2299.5 456.5 2298.9 473.3C2298.3 490.1 2297.6 488 2296.4 504.8C2295.3 521.6 2295 527.9 2294.5 536.3M2342 257.6C2342.2 265.9 2343 272.1 2343 288.6C2342.9 305.1 2342.4 303 2341.7 319.6C2341 336.1 2341.2 334 2340.3 350.5C2339.4 367 2338.4 365 2338.4 381.5C2338.4 398 2339.3 395.9 2340.4 412.4C2341.6 429 2341.8 426.9 2342.8 443.4C2343.8 459.9 2343.4 457.9 2344.2 474.4C2345 490.9 2344.9 488.8 2345.9 505.3C2346.8 521.9 2347.1 528 2347.6 536.3M2407.2 249.4C2407.1 257.9 2407 264.3 2406.8 281.3C2406.6 298.3 2407 296.2 2406.5 313.2C2406.1 330.2 2405.8 328.1 2405.1 345.1C2404.5 362.1 2404.4 359.9 2404.1 376.9C2403.9 393.9 2403.5 391.8 2404.4 408.8C2405.2 425.8 2406.2 423.7 2407.3 440.7C2408.5 457.7 2407.8 455.6 2408.8 472.6C2409.7 489.6 2409.4 487.4 2410.9 504.4C2412.4 521.4 2413.4 527.8 2414.4 536.3M2453.4 205.6C2453.3 215.4 2453.3 222.7 2453 242.3C2452.6 261.9 2452.4 259.5 2452.1 279.1C2451.7 298.7 2451 296.2 2451.7 315.8C2452.4 335.4 2454.1 333 2454.8 352.6C2455.4 372.2 2453.3 369.7 2454.1 389.3C2454.9 408.9 2456.2 406.5 2457.8 426.1C2459.5 445.7 2459.1 443.2 2460.2 462.8C2461.3 482.4 2461 480 2462 499.6C2462.9 519.2 2463.3 526.5 2463.8 536.3M2505 212.2C2505.8 221.8 2507.2 229 2507.9 248.2C2508.6 267.4 2507.7 265 2507.6 284.2C2507.5 303.4 2507.9 301 2507.6 320.2C2507.3 339.4 2506.6 337 2506.6 356.2C2506.5 375.5 2507 373 2507.3 392.3C2507.6 411.5 2506.3 409.1 2507.8 428.3C2509.2 447.5 2509.6 445.1 2512.8 464.3C2515.9 483.5 2516.3 481.1 2519.7 500.3C2523.1 519.5 2524 526.7 2525.5 536.3M2548.5 212.2C2548.7 221.8 2548.9 229 2549.2 248.2C2549.5 267.4 2550.2 265 2549.7 284.2C2549.3 303.4 2548.5 301 2547.4 320.2C2546.3 339.4 2546.9 337 2545.5 356.2C2544.2 375.5 2543.2 373 2542.3 392.3C2541.5 411.5 2542.3 409.1 2542.2 428.3C2542.1 447.5 2541.4 445.1 2542 464.3C2542.7 483.5 2544 481.1 2544.8 500.3C2545.6 519.5 2544.9 526.7 2545 536.3M2602.8 212.2C2602.2 221.8 2601.7 229 2600.5 248.2C2599.2 267.4 2599.2 265 2598.1 284.2C2597.1 303.4 2597.3 301 2596.5 320.2C2595.7 339.4 2595.6 337 2595 356.2C2594.5 375.5 2594 373 2594.4 392.3C2594.8 411.5 2596.7 409.1 2596.6 428.3C2596.5 447.5 2594.8 445.1 2594.1 464.3C2593.4 483.5 2595.2 481.1 2593.9 500.3C2592.6 519.5 2590.5 526.7 2589.3 536.3" fill="none" stroke="#2b2b2b" stroke-width="3" stroke-linecap="round"/>
<line x1="1608" y1="274.3" x2="2330" y2="274.3" stroke="#333" stroke-width="3.2" stroke-dasharray="14.5 14.5"/>
<line x1="2336" y1="274.3" x2="2654" y2="274.3" stroke="#707070" stroke-width="3.4" stroke-dasharray="3.4 4.3"/>
<line x1="1608" y1="346" x2="2640" y2="346" stroke="#6a6a6a" stroke-width="2.4" stroke-dasharray="12.5 15"/>
<line x1="1608" y1="412.4" x2="2654" y2="412.4" stroke="#2f2f2f" stroke-width="3.6" stroke-dasharray="12.5 15"/>
<line x1="1648" y1="479" x2="2654" y2="479" stroke="#2f2f2f" stroke-width="3.6" stroke-dasharray="12.5 15"/>
<line x1="1977.8" y1="111.3" x2="2053.9" y2="111.3" stroke="#9a9a9a" stroke-width="2.6" stroke-dasharray="32 9"/>
<line x1="2059.3" y1="132.5" x2="2189.8" y2="132.5" stroke="#555" stroke-width="2.6" stroke-dasharray="32 9"/>
<line x1="2089.2" y1="155.9" x2="2325.7" y2="155.9" stroke="#555" stroke-width="2.6" stroke-dasharray="32 9"/>
<line x1="2146.3" y1="182" x2="2195.2" y2="182" stroke="#888" stroke-width="2.6" stroke-dasharray="32 9"/>
<line x1="2352.8" y1="182" x2="2461.5" y2="182" stroke="#888" stroke-width="2.6" stroke-dasharray="32 9"/>
<line x1="2200.7" y1="207.5" x2="2445.2" y2="207.5" stroke="#555" stroke-width="2.6" stroke-dasharray="32 9"/>
<line x1="2241.4" y1="232" x2="2407.2" y2="232" stroke="#555" stroke-width="2.6" stroke-dasharray="32 9"/>
<line x1="1608" y1="95" x2="1636" y2="95" stroke="#333" stroke-width="3.2" />
<line x1="1608" y1="274.3" x2="1636" y2="274.3" stroke="#333" stroke-width="3.2" />
<line x1="1608" y1="346" x2="1636" y2="346" stroke="#333" stroke-width="3.2" />
<line x1="1608" y1="412.4" x2="1636" y2="412.4" stroke="#333" stroke-width="3.2" />
<line x1="1623.5" y1="107.4" x2="1623.5" y2="262.1" stroke="#2a2a2a" stroke-width="2.6" />
<polygon points="1623.5,272.5 1619.3,259.5 1627.7,259.5" fill="#2a2a2a"/>
<polygon points="1623.5,97 1627.7,110 1619.3,110" fill="#2a2a2a"/>
<line x1="1623.5" y1="358.4" x2="1623.5" y2="400.1" stroke="#2a2a2a" stroke-width="2.6" />
<polygon points="1623.5,410.5 1619.3,397.5 1627.7,397.5" fill="#2a2a2a"/>
<polygon points="1623.5,348 1627.7,361 1619.3,361" fill="#2a2a2a"/>
<line x1="2655" y1="177.6" x2="2684" y2="177.6" stroke="#333" stroke-width="3.2" />
<line x1="2692" y1="177.6" x2="2718" y2="177.6" stroke="#333" stroke-width="3.2" />
<line x1="2655" y1="213" x2="2684" y2="213" stroke="#333" stroke-width="3.2" />
<line x1="2655" y1="274.3" x2="2718" y2="274.3" stroke="#333" stroke-width="3.2" />
<line x1="2671" y1="158" x2="2671" y2="166" stroke="#333" stroke-width="2.5" />
<polygon points="2671,176 2667,165 2675,165" fill="#2a2a2a"/>
<line x1="2671" y1="224" x2="2671" y2="231" stroke="#333" stroke-width="2.5" />
<polygon points="2671,214.5 2675,225.5 2667,225.5" fill="#2a2a2a"/>
<line x1="2704.5" y1="188.3" x2="2704.5" y2="263.7" stroke="#3a3a3a" stroke-width="2.1" />
<polygon points="2704.5,272.5 2700.9,261.5 2708.1,261.5" fill="#3a3a3a"/>
<polygon points="2704.5,179.5 2708.1,190.5 2700.9,190.5" fill="#3a3a3a"/>
<line x1="1853" y1="84" x2="1863" y2="104" stroke="#444" stroke-width="2" />
<line x1="1946" y1="257" x2="1957" y2="273" stroke="#444" stroke-width="2" />
<line x1="2274" y1="125" x2="2553" y2="125" stroke="#2a2a2a" stroke-width="3.8" />
<polygon points="2568,125 2552,130.8 2552,119.2" fill="#2a2a2a"/>
<line x1="2669.5" y1="540" x2="2669.5" y2="300" stroke="#2a2a2a" stroke-width="3.8" />
<polygon points="2669.5,286 2675.3,302 2663.7,302" fill="#2a2a2a"/>
<text x="1680" y="78.7" font-size="34.6" fill="#1c1c1c" text-anchor="start" >Surface equiaxed grains</text>
<text x="2286.5" y="108" font-size="34.6" fill="#1c1c1c" text-anchor="start" >Scanning direction</text>
<text x="1516" y="180" font-size="34.5" fill="#1c1c1c" text-anchor="middle" >Thickness of</text>
<text x="1516" y="222" font-size="34.5" fill="#1c1c1c" text-anchor="middle" >melt pool</text>
<text x="1516" y="359.7" font-size="34.5" fill="#1c1c1c" text-anchor="middle" >Thickness of</text>
<text x="1516" y="400.5" font-size="34.5" fill="#1c1c1c" text-anchor="middle" >deposition</text>
<text x="1516" y="443" font-size="34.5" fill="#1c1c1c" text-anchor="middle" >layer</text>
<rect x="1782" y="225" width="161" height="39" fill="#fff"/>
<text x="1785" y="253.7" font-size="34.5" fill="#1c1c1c" text-anchor="start" >Fusion line</text>
<rect x="2199" y="165" width="144" height="34" fill="#fff"/>
<text x="2203" y="189.6" font-size="34.5" fill="#1c1c1c" text-anchor="start" >Melt pool</text>
<rect x="2049" y="396" width="366" height="34" fill="#fff"/>
<text x="2053" y="419.5" font-size="34.5" fill="#1c1c1c" text-anchor="start" >Epitaxial columnar grains</text>
<text x="2640" y="138.5" font-size="40" fill="#1c1c1c" text-anchor="start" font-style="italic" >d</text>
<text x="2661" y="146.5" font-size="23" fill="#1c1c1c" text-anchor="start" >EG</text>
<text x="2709" y="231" font-size="40" fill="#1c1c1c" text-anchor="start" font-style="italic" >d</text>
<text x="2730" y="239" font-size="23" fill="#1c1c1c" text-anchor="start" >PM</text>
<text x="2707" y="544.5" font-size="34.5" fill="#1c1c1c" text-anchor="start" transform="rotate(-90 2707 544.5)" >Building direction</text>
<text x="1416" y="637.3" font-size="55" fill="#1a1a1a" text-anchor="start" letter-spacing="-1.4">(c)</text>
<path d="M1620.8 607H2015.9L2015.9 612.6C2020.8 619.1 2017.5 616.4 2032.2 634.3C2046.8 652.3 2048.5 654.5 2064.8 672.4C2081.1 690.3 2071.8 681.1 2086.5 694.1C2101.2 707.2 2094.1 702.8 2113.7 715.9C2133.3 728.9 2127.3 726.2 2151.7 737.6C2176.2 749 2172.4 746.4 2195.2 753.9C2218 761.4 2208.3 758.5 2227.8 762.6C2247.4 766.7 2240.9 766.4 2260.4 767.5C2280 768.6 2276.7 768 2293 766.4C2309.3 764.8 2300.1 766.6 2314.8 762.1C2329.5 757.5 2326.5 758.5 2342 751.2C2357.4 743.9 2359.1 741.7 2366.4 737.6H2569V1133H1620.8Z" fill="url(#pC)"/>
<path d="M2276 775.2L2293 766.4L2314.8 762.1L2342 751.2L2366.4 737.6H2569V775.2Z" fill="#fff"/><path d="M2276 775.2L2293 766.4L2314.8 762.1L2342 751.2L2366.4 737.6H2569V775.2Z" fill="url(#pC2)"/>
<path d="M1620.8 1133V607H2021.3" fill="none" stroke="#777" stroke-width="2.5"/>
<path d="M1620.8 1133H2569V737.6" fill="none" stroke="#888" stroke-width="2.5"/>
<path d="M2021.3 607.2C2040.9 608.3 2050.7 606.9 2086.5 611C2122.4 615.1 2108.3 612.4 2140.9 620.8C2173.5 629.1 2162.6 626.5 2195.2 638.7C2227.8 650.9 2217 645.2 2249.6 661.5C2282.2 677.8 2268.9 670.2 2303.9 693C2339 715.9 2347.7 724.2 2366.4 737.6" fill="none" stroke="#555" stroke-width="2.4"/>
<path d="M2015.9 612.6C2020.8 619.1 2017.5 616.4 2032.2 634.3C2046.8 652.3 2048.5 654.5 2064.8 672.4C2081.1 690.3 2071.8 681.1 2086.5 694.1C2101.2 707.2 2094.1 702.8 2113.7 715.9C2133.3 728.9 2127.3 726.2 2151.7 737.6C2176.2 749 2172.4 746.4 2195.2 753.9C2218 761.4 2208.3 758.5 2227.8 762.6C2247.4 766.7 2240.9 766.4 2260.4 767.5C2280 768.6 2276.7 768 2293 766.4C2309.3 764.8 2300.1 766.6 2314.8 762.1C2329.5 757.5 2326.5 758.5 2342 751.2C2357.4 743.9 2359.1 741.7 2366.4 737.6" fill="none" stroke="#444" stroke-width="2.4"/>
<path d="M2366.4 737.6H2569" stroke="#555" stroke-width="2.6" fill="none"/>
<g fill="none" stroke="#333" stroke-width="1.8"><circle cx="2006" cy="610.5" r="2.6"/><circle cx="2013.2" cy="610.6" r="2.6"/><circle cx="2020.4" cy="610.8" r="2.6"/><circle cx="2027.6" cy="611.2" r="2.6"/><circle cx="2034.8" cy="611.7" r="2.6"/><circle cx="2042" cy="612.4" r="2.6"/><circle cx="2049.2" cy="613.2" r="2.6"/><circle cx="2056.4" cy="614.2" r="2.6"/><circle cx="2063.6" cy="615.3" r="2.6"/><circle cx="2070.8" cy="616.6" r="2.6"/><circle cx="2078" cy="618" r="2.6"/><circle cx="2085.2" cy="619.6" r="2.6"/><circle cx="2092.4" cy="621.3" r="2.6"/><circle cx="2099.6" cy="623.2" r="2.6"/><circle cx="2106.8" cy="625.2" r="2.6"/><circle cx="2114" cy="627.4" r="2.6"/></g>
<circle cx="2038.7" cy="630" r="3.2" fill="#999" stroke="#444" stroke-width="2"/>
<circle cx="2085.4" cy="624.6" r="3.2" fill="#999" stroke="#444" stroke-width="2"/>
<circle cx="2056.6" cy="645.2" r="3.2" fill="#999" stroke="#444" stroke-width="2"/>
<circle cx="2081.1" cy="646.8" r="3.2" fill="#999" stroke="#444" stroke-width="2"/>
<circle cx="2078.4" cy="665.9" r="3.2" fill="#999" stroke="#444" stroke-width="2"/>
<circle cx="2100.1" cy="686" r="3.2" fill="#999" stroke="#444" stroke-width="2"/>
<line x1="2051.2" y1="638.7" x2="2162.6" y2="638.7" stroke="#666" stroke-width="2.6" stroke-dasharray="26 8"/>
<line x1="2086.5" y1="665.9" x2="2244.1" y2="665.9" stroke="#666" stroke-width="2.6" stroke-dasharray="26 8"/>
<line x1="2162.6" y1="720.2" x2="2314.8" y2="720.2" stroke="#666" stroke-width="2.6" stroke-dasharray="26 8"/>
<line x1="2192.5" y1="744.7" x2="2358.3" y2="744.7" stroke="#666" stroke-width="2.6" stroke-dasharray="26 8"/>
<line x1="1608" y1="766.4" x2="2130" y2="766.4" stroke="#555" stroke-width="2.4" stroke-dasharray="14 8"/>
<line x1="2290" y1="768.6" x2="2569" y2="768.6" stroke="#ddd" stroke-width="3" stroke-dasharray="3 3"/>
<line x1="1608" y1="896.3" x2="2569" y2="896.3" stroke="#666" stroke-width="2.4" stroke-dasharray="14 8"/>
<line x1="1608" y1="1025.6" x2="2569" y2="1025.6" stroke="#666" stroke-width="2.4" stroke-dasharray="14 8"/>
<line x1="1597" y1="607" x2="1621" y2="607" stroke="#333" stroke-width="3" />
<line x1="1597" y1="766.4" x2="1621" y2="766.4" stroke="#333" stroke-width="3" />
<line x1="1597" y1="896.3" x2="1621" y2="896.3" stroke="#333" stroke-width="3" />
<line x1="1597" y1="1025.6" x2="1621" y2="1025.6" stroke="#333" stroke-width="3" />
<line x1="1611" y1="618.6" x2="1611" y2="754.9" stroke="#2a2a2a" stroke-width="2.3" />
<polygon points="1611,764.5 1607.2,752.5 1614.8,752.5" fill="#2a2a2a"/>
<polygon points="1611,609 1614.8,621 1607.2,621" fill="#2a2a2a"/>
<line x1="1611" y1="907.6" x2="1611" y2="1014.4" stroke="#2a2a2a" stroke-width="2.3" />
<polygon points="1611,1024 1607.2,1012 1614.8,1012" fill="#2a2a2a"/>
<polygon points="1611,898 1614.8,910 1607.2,910" fill="#2a2a2a"/>
<line x1="2570" y1="737.6" x2="2590" y2="737.6" stroke="#333" stroke-width="3" />
<line x1="2595" y1="737.6" x2="2620" y2="737.6" stroke="#333" stroke-width="3" />
<line x1="2570" y1="768.6" x2="2590" y2="768.6" stroke="#333" stroke-width="3" />
<line x1="2570" y1="877.8" x2="2622" y2="877.8" stroke="#333" stroke-width="3" />
<line x1="2580" y1="720" x2="2580" y2="727" stroke="#333" stroke-width="2.4" />
<polygon points="2580,736 2576.2,726 2583.8,726" fill="#2a2a2a"/>
<line x1="2580" y1="780" x2="2580" y2="786" stroke="#333" stroke-width="2.4" />
<polygon points="2580,770 2583.8,780 2576.2,780" fill="#2a2a2a"/>
<line x1="2605.5" y1="748.3" x2="2605.5" y2="867.2" stroke="#3a3a3a" stroke-width="2.1" />
<polygon points="2605.5,876 2601.9,865 2609.1,865" fill="#3a3a3a"/>
<polygon points="2605.5,739.5 2609.1,750.5 2601.9,750.5" fill="#3a3a3a"/>
<line x1="2266" y1="661.5" x2="2529" y2="661.5" stroke="#2a2a2a" stroke-width="3.8" />
<polygon points="2543,661.5 2527,667.3 2527,655.7" fill="#2a2a2a"/>
<line x1="2587.6" y1="1135" x2="2587.6" y2="912" stroke="#2a2a2a" stroke-width="3.6" />
<polygon points="2587.6,898 2593.4,914 2581.8,914" fill="#2a2a2a"/>
<text x="1506.6" y="694" font-size="34.5" fill="#1c1c1c" text-anchor="middle" >Thickness of</text>
<text x="1506.6" y="736.5" font-size="34.5" fill="#1c1c1c" text-anchor="middle" >melt pool</text>
<text x="1500.6" y="934" font-size="34.5" fill="#1c1c1c" text-anchor="middle" >Thickness of</text>
<text x="1500.6" y="976.7" font-size="34.5" fill="#1c1c1c" text-anchor="middle" >deposition</text>
<text x="1500.6" y="1017.5" font-size="34.5" fill="#1c1c1c" text-anchor="middle" >layer</text>
<text x="2264" y="646" font-size="34.6" fill="#1c1c1c" text-anchor="start" >Scanning direction</text>
<rect x="2112" y="676" width="142" height="33" fill="#fff"/>
<text x="2116.4" y="700.6" font-size="34.5" fill="#1c1c1c" text-anchor="start" >Melt pool</text>
<rect x="1904" y="769" width="160" height="35" fill="#fff"/>
<text x="1906" y="794.7" font-size="34.5" fill="#1c1c1c" text-anchor="start" >Fusion line</text>
<text x="2543" y="705" font-size="40" fill="#1c1c1c" text-anchor="start" font-style="italic" >d</text>
<text x="2564" y="713" font-size="23" fill="#1c1c1c" text-anchor="start" >PM</text>
<text x="2613.7" y="812.6" font-size="40" fill="#1c1c1c" text-anchor="start" font-style="italic" >d</text>
<text x="2634.5" y="820.6" font-size="23" fill="#1c1c1c" text-anchor="start" >EG</text>
<text x="2625" y="1139.8" font-size="34.5" fill="#1c1c1c" text-anchor="start" transform="rotate(-90 2625 1139.8)" >Building direction</text>
<text x="1416.5" y="1214.3" font-size="55" fill="#1a1a1a" text-anchor="start" letter-spacing="-1.4">(d)</text>
<g>
<path d="M1499.5 1269.9L1506.9 1270.5L1514.3 1271.4L1521.7 1272.3L1529.1 1273.4L1536.5 1274.5L1543.9 1275.7L1551.2 1276.8L1558.6 1277.8L1566 1278.8L1573.4 1279.6L1580.8 1280.2L1588.2 1280.7L1595.6 1280.9L1603 1281L1603 1306L1595.6 1311.8L1588.2 1317.1L1580.8 1321.9L1573.4 1326.1L1566 1329.9L1558.6 1333.1L1551.2 1335.9L1543.9 1338.1L1536.5 1339.9L1529.1 1341.1L1521.7 1341.8L1514.3 1342L1506.9 1341.7L1499.5 1340.9Z" fill="url(#pD2)"/>
<path d="M1671 1273.6L1683.6 1271.8L1696.1 1270.4L1708.7 1269.4L1721.3 1269L1733.9 1269.2L1746.4 1270.1L1759 1271.4L1771.6 1273.1L1784.1 1275L1796.7 1276.9L1809.3 1278.6L1821.9 1279.9L1834.4 1280.8L1847 1281L1847 1306L1834.4 1315.6L1821.9 1323.6L1809.3 1330.2L1796.7 1335.4L1784.1 1339.1L1771.6 1341.3L1759 1342L1746.4 1341.3L1733.9 1339.1L1721.3 1335.4L1708.7 1330.2L1696.1 1323.6L1683.6 1315.6L1671 1306Z" fill="url(#pD2)"/>
<path d="M1915 1273.7L1927.6 1271.9L1940.3 1270.4L1952.9 1269.4L1965.6 1269L1978.2 1269.2L1990.9 1270L2003.5 1271.4L2016.1 1273.1L2028.8 1282L2041.4 1288.3L2054.1 1294.6L2066.7 1301L2079.4 1307.4L2092 1313.9L2092 1306L2079.4 1315.2L2066.7 1323.4L2054.1 1330.1L2041.4 1335.3L2028.8 1339L2016.1 1341.3L2003.5 1342L1990.9 1341.3L1978.2 1339L1965.6 1335.3L1952.9 1330.1L1940.3 1323.4L1927.6 1315.2L1915 1306Z" fill="url(#pD2)"/>
<path d="M2404.5 1346.6L2417.1 1345.6L2429.7 1344.4L2442.3 1343.3L2454.9 1342.1L2467.5 1340.9L2480.1 1339.5L2492.8 1338L2505.4 1336.1L2518 1336.4L2530.6 1337L2543.2 1337.8L2555.8 1338.8L2568.4 1339.7L2581 1340.6L2581 1372L2568.4 1381.4L2555.8 1389.5L2543.2 1396.2L2530.6 1401.3L2518 1405L2505.4 1407.3L2492.8 1408L2480.1 1407.3L2467.5 1405.1L2454.9 1401.4L2442.3 1396.2L2429.7 1389.6L2417.1 1381.4L2404.5 1372Z" fill="url(#pD2)"/>
<path d="M2646 1341.4L2652.8 1341L2659.6 1340.6L2666.4 1340.1L2673.3 1339.6L2680.1 1339.1L2686.9 1338.6L2693.7 1338L2700.5 1337.6L2707.3 1337.1L2714.1 1336.7L2721 1336.4L2727.8 1336.2L2734.6 1336.1L2741.4 1336L2741.4 1407.7L2734.6 1408L2727.8 1407.8L2721 1407.2L2714.1 1406.2L2707.3 1404.7L2700.5 1402.8L2693.7 1400.4L2686.9 1397.7L2680.1 1394.5L2673.3 1390.8L2666.4 1386.8L2659.6 1382.3L2652.8 1377.4L2646 1372Z" fill="url(#pD2)"/>
<path d="M1501.3 1341.2L1499.5 1387L1501.2 1432.8L1503.3 1478.6L1503.6 1524.4L1501 1570.2L1500.3 1616M1511.1 1341.9L1509.5 1388.2L1510.7 1434.5L1511.9 1480.8L1512.4 1527.1L1511.5 1573.3L1510 1619.6M1518.3 1341.9L1518.5 1387.8L1519.9 1433.6L1520.9 1479.5L1521 1525.4L1518.5 1571.2L1517.2 1617.1M1532.1 1341L1530.6 1386L1528 1431.1L1528.3 1476.2L1529.8 1521.2L1531.1 1566.3L1530.1 1611.3M1540.3 1339.3L1538.8 1384.9L1537.1 1430.6L1538.7 1476.3L1540.2 1522L1541 1567.7L1539.5 1613.3M1548.2 1337L1549 1382.9L1547.5 1428.8L1545.9 1474.7L1546.9 1520.6L1548.3 1566.6L1549.4 1612.5M1556.2 1333.9L1554.6 1381.1L1556 1428.4L1557.6 1475.7L1558.9 1523L1556.6 1570.3L1556.2 1617.6M1564.4 1330.3L1564.1 1377.6L1564.6 1424.8L1565.5 1472.1L1566.7 1519.4L1565.6 1566.6L1563 1613.9M1572.5 1326.1L1571.8 1374.6L1573.2 1423.1L1574.5 1471.6L1575.4 1520L1573.9 1568.5L1571.9 1617M1582.4 1321.3L1580.3 1370.7L1579.7 1420.1L1581.6 1469.6L1583.2 1519L1582.8 1568.4L1581.8 1617.8M1591.3 1314.7L1593.5 1365.2L1593.7 1415.8L1592.1 1466.4L1590.6 1517L1590.8 1567.6L1592.5 1618.1M1600.3 1306.9L1599.7 1358.6L1601.4 1410.3L1603.4 1461.9L1603.2 1513.6L1600.8 1565.3L1599.8 1616.9M1674.1 1307.6L1674.7 1359.5L1674.4 1411.5L1672.1 1463.4L1670.7 1515.3L1673.7 1567.3L1674.3 1619.2M1681.1 1315.4L1682.5 1364.6L1685.2 1413.8L1684.9 1462.9L1682.3 1512.1L1681.1 1561.3L1682.4 1610.5M1692.5 1322L1693 1371.4L1694.9 1420.8L1694.1 1470.3L1692.7 1519.7L1692.5 1569.1L1692.3 1618.5M1703.2 1327.1L1703.8 1374.7L1702.2 1422.3L1700.4 1469.9L1700.5 1517.5L1702.4 1565.1L1703.3 1612.7M1712 1331.2L1709.9 1377.7L1709.1 1424.3L1710.7 1470.8L1711.6 1517.3L1711.3 1563.9L1709.8 1610.4M1720.6 1334.8L1719.8 1381L1717.3 1427.1L1718.8 1473.3L1720.5 1519.5L1720.9 1565.6L1720.3 1611.8M1729.6 1337.7L1729.8 1383.2L1728.6 1428.7L1728.2 1474.2L1727.1 1519.7L1728.9 1565.2L1729.5 1610.8M1739.4 1340L1740.1 1385.3L1739.8 1430.6L1737.4 1475.8L1737.5 1521.1L1737.5 1566.4L1740 1611.6M1748.5 1341.3L1748.7 1387.6L1746.1 1433.8L1745.9 1480L1747.2 1526.3L1748.5 1572.5L1748.2 1618.7M1756.3 1342L1757.9 1388L1757.7 1433.9L1757.2 1479.9L1754.8 1525.9L1755.3 1571.8L1756.7 1617.8M1766 1341.8L1764.6 1387.2L1764.2 1432.6L1764.2 1478L1766 1523.4L1766.9 1568.8L1766.1 1614.2M1775.7 1340.7L1774.9 1385.6L1775.8 1430.5L1776.9 1475.4L1777 1520.2L1775.9 1565.1L1774.7 1610M1786 1338.6L1784.8 1384.6L1785.1 1430.6L1786.4 1476.6L1787.8 1522.6L1787.6 1568.6L1784.8 1614.6M1796.2 1336L1795.6 1383L1794.3 1430.1L1794.4 1477.2L1796 1524.3L1796.1 1571.4L1795.7 1618.4M1807.3 1332.1L1806.5 1379.4L1803.8 1426.6L1803 1473.9L1804.2 1521.1L1806.2 1568.4L1806.4 1615.6M1812.7 1328L1814.6 1376L1815.2 1424L1815.3 1472.1L1813.1 1520.1L1812 1568.1L1812.7 1616.2M1823.4 1322.4L1824.1 1370.2L1825.4 1418L1824.1 1465.9L1823.4 1513.7L1822.4 1561.5L1824.1 1609.3M1833.9 1316.6L1832.8 1365.7L1831.9 1414.9L1831.9 1464.1L1833.2 1513.3L1834.1 1562.5L1834.9 1611.7M1841.5 1310.5L1841 1360.8L1840.2 1411.2L1840.7 1461.6L1842.3 1511.9L1843.1 1562.3L1840.7 1612.7M1918.7 1307.2L1916.9 1358.1L1915.8 1409L1915 1459.9L1917.4 1510.8L1918.7 1561.7L1917.6 1612.6M1926.4 1314.9L1927.7 1365.1L1928.9 1415.4L1927 1465.6L1925.3 1515.8L1926 1566L1927.1 1616.2M1935.5 1321.4L1935.8 1369.3L1937.8 1417.3L1938.7 1465.2L1937.6 1513.2L1935.1 1561.2L1936.1 1609.1M1945.5 1326.6L1946.3 1373.9L1947.4 1421.3L1946.3 1468.7L1945.1 1516.1L1945.1 1563.5L1946.5 1610.9M1954 1331.1L1953.9 1378.6L1955.4 1426.1L1957.2 1473.6L1956.3 1521.1L1955 1568.6L1953.8 1616.1M1963.1 1334.8L1964.5 1381.1L1966.1 1427.5L1966 1473.9L1963.9 1520.3L1962.5 1566.6L1962.9 1613M1972.3 1337.9L1974.9 1383.7L1976 1429.6L1973.8 1475.4L1972 1521.3L1971.7 1567.1L1973.9 1612.9M1984.7 1340.2L1984 1386.5L1982.8 1432.7L1982.7 1479L1983.7 1525.2L1985.6 1571.5L1984.8 1617.7M1992.2 1341.5L1991.1 1386.1L1992.2 1430.7L1993.2 1475.3L1994.1 1519.8L1994.2 1564.4L1992 1609M2001 1342L2001.8 1387.8L2003.6 1433.6L2002.8 1479.4L2001.7 1525.2L2000.3 1571.1L2000.7 1616.9M2009.4 1341.7L2011.5 1386.7L2012.2 1431.6L2010.9 1476.6L2010.6 1521.5L2009.7 1566.5L2010.3 1611.4M2022.6 1340.7L2022.5 1386.3L2019.9 1431.9L2019.4 1477.5L2019.7 1523.1L2020.8 1568.7L2021.9 1614.3M2029.8 1338.6L2030 1385L2032.2 1431.4L2032.5 1477.8L2031.1 1524.2L2029.6 1570.6L2030.2 1617M2040.1 1336L2038.6 1382.6L2037.8 1429.2L2038.5 1475.9L2040.2 1522.5L2041.3 1569.2L2039.3 1615.8M2045.9 1332.8L2048 1380.6L2048.6 1428.4L2048.7 1476.1L2047 1523.9L2046.5 1571.6L2047.1 1619.4M2057.2 1328.2L2056.8 1376.4L2057.9 1424.6L2059 1472.8L2059.5 1520.9L2057.7 1569.1L2056.6 1617.3M2066.4 1322.4L2068.2 1370.9L2070.5 1419.4L2070.2 1467.9L2067.1 1516.4L2066 1564.9L2067.5 1613.4M2076.9 1315.7L2078.8 1366.1L2080.7 1416.6L2079.2 1467L2077.3 1517.4L2077.9 1567.8L2077.8 1618.2M2087.5 1308.8L2088.3 1360.1L2089.7 1411.4L2089.3 1462.8L2086.3 1514.1L2086.4 1565.4L2088.7 1616.7M2160 1319.5L2162.4 1369.1L2163.7 1418.8L2162.8 1468.4L2162.6 1518L2161.1 1567.6L2160.9 1617.2M2169.1 1322.4L2169.3 1371.3L2171.6 1420.1L2172.1 1468.9L2170.4 1517.8L2168.2 1566.6L2169 1615.4M2180.6 1325.7L2177.5 1374.7L2178.3 1423.7L2179.1 1472.8L2181.6 1521.8L2180.6 1570.9L2179.4 1619.9M2188.5 1329.3L2191.3 1376.2L2191.3 1423.2L2190.3 1470.1L2188.3 1517L2188.4 1563.9L2190.7 1610.9M2199.2 1332.5L2196.7 1379.3L2197.6 1426.1L2199.5 1472.9L2200.7 1519.7L2200.2 1566.6L2197.6 1613.4M2207.8 1335.8L2208 1382.1L2210.2 1428.3L2210.1 1474.5L2210.4 1520.8L2207.9 1567L2207 1613.2M2219.6 1337.9L2217.2 1383.6L2216.8 1429.3L2216.3 1474.9L2218.2 1520.6L2220 1566.2L2218.7 1611.9M2229.4 1340.6L2229.3 1385.4L2227.5 1430.3L2226 1475.2L2226.5 1520L2228.1 1564.9L2229.9 1609.8M2240 1343.2L2240.3 1389L2238.9 1434.7L2237.6 1480.5L2237.1 1526.2L2239.8 1572L2240.5 1617.7M2248.1 1345.5L2249.5 1390.8L2248.9 1436.1L2247.1 1481.4L2245.3 1526.7L2247.9 1572L2249.6 1617.4M2254.9 1345.3L2256 1391L2258.1 1436.6L2258.4 1482.3L2256.2 1528L2255.3 1573.6L2256.4 1619.3M2264.9 1344.4L2267.1 1388.7L2267.1 1433.1L2265.6 1477.5L2264 1521.8L2264.1 1566.2L2265.7 1610.5M2275.9 1343.5L2275.1 1388.8L2273.7 1434.2L2273.9 1479.5L2274.3 1524.8L2275.7 1570.2L2276.5 1615.5M2284.9 1342.5L2286 1388.7L2284 1434.9L2283.4 1481.1L2282.9 1527.3L2285 1573.5L2286.4 1619.7M2295.8 1341.5L2294.2 1386.6L2293 1431.8L2292.3 1476.9L2294 1522L2294.9 1567.2L2295.4 1612.3M2301.9 1340.6L2302.4 1386.2L2304.4 1431.8L2303.6 1477.3L2303.4 1522.9L2301.1 1568.5L2300.8 1614M2313.7 1339.8L2313.6 1385.8L2311.9 1431.9L2311.3 1478L2313.2 1524.1L2313.9 1570.1L2314.9 1616.2M2321.5 1339.1L2323.5 1384.6L2323.1 1430.1L2321.8 1475.6L2319.3 1521.1L2321.3 1566.6L2321.5 1612.1M2330.2 1338.3L2331.5 1384.8L2333.5 1431.4L2331.9 1477.9L2331.3 1524.4L2330.1 1570.9L2330.1 1617.4M2407.7 1373.5L2406 1413L2405.4 1452.5L2405.7 1492L2408.3 1531.6L2408.4 1571.1L2406.4 1610.6M2416.8 1381.2L2417.8 1420.5L2418.7 1459.7L2416.4 1499L2414.9 1538.2L2415.5 1577.5L2417.3 1616.7M2426 1386.8L2425.7 1424.3L2425.3 1461.9L2424.1 1499.4L2423.9 1537L2426.2 1574.5L2427.3 1612M2432.2 1391.7L2432.4 1429L2433.3 1466.3L2434.6 1503.6L2434.9 1540.9L2433.9 1578.2L2431.2 1615.5M2443 1396.8L2442.1 1432.7L2442 1468.6L2444.9 1504.6L2445.1 1540.5L2444.7 1576.4L2443.1 1612.3M2454.9 1400.9L2455.9 1436L2454 1471.2L2452 1506.3L2452.8 1541.4L2453.9 1576.6L2455.4 1611.7M2461.8 1403.9L2464.3 1439.2L2464.2 1474.5L2462.3 1509.8L2461.4 1545.1L2461.4 1580.4L2464.2 1615.7M2470.8 1405.9L2470.2 1439.8L2470.8 1473.6L2472.8 1507.5L2473.3 1541.3L2472 1575.2L2469.9 1609.1M2481.2 1407.5L2480 1441.1L2482 1474.7L2483.7 1508.4L2483.5 1542L2480.6 1575.7L2480 1609.3M2490.2 1408L2490.9 1442.3L2491.1 1476.7L2492.7 1511L2492.5 1545.4L2490.8 1579.7L2490.5 1614.1M2502.4 1407.7L2501.4 1442.5L2499.2 1477.3L2498.2 1512L2500.5 1546.8L2501.3 1581.6L2500.7 1616.3M2509.9 1406.8L2508.1 1441.2L2506.9 1475.6L2507.7 1510L2508.8 1544.4L2510.6 1578.7L2509.2 1613.1M2518.5 1404.9L2517.2 1439.9L2517.5 1474.9L2520.2 1509.9L2519.6 1544.9L2518.3 1579.9L2517.6 1614.9M2529.3 1402.3L2528.4 1438.4L2527.3 1474.5L2526 1510.6L2526.5 1546.7L2528.9 1582.8L2529 1618.9M2534.9 1399.2L2537.2 1435.2L2538.1 1471.2L2537.6 1507.3L2535 1543.3L2534.3 1579.3L2535.6 1615.3M2544.8 1395.1L2544.6 1431.1L2545.4 1467.1L2545.9 1503.1L2546.9 1539.1L2545.6 1575.2L2543.3 1611.2M2554.4 1389.4L2555.9 1427L2557.1 1464.7L2557.4 1502.3L2555.7 1539.9L2554.1 1577.5L2555 1615.1M2562.9 1384.2L2562.2 1422.1L2564.5 1460L2565.6 1497.9L2565.7 1535.8L2563.9 1573.7L2562.8 1611.6M2575.3 1377.8L2573.3 1417.7L2571.6 1457.7L2571.6 1497.6L2573.8 1537.6L2574.5 1577.5L2574 1617.4M2647.7 1373.6L2646.4 1414L2647.6 1454.4L2649 1494.8L2649.1 1535.1L2648.7 1575.5L2646.4 1615.9M2659.6 1381.5L2658.5 1421.1L2657 1460.7L2656.7 1500.3L2658.2 1539.9L2659.8 1579.6L2659.4 1619.2M2665.3 1387.1L2664.9 1425.3L2666.2 1463.6L2667.9 1501.8L2668.1 1540.1L2666.6 1578.4L2666 1616.6M2677.9 1392.9L2677.6 1429.4L2675.9 1465.9L2675.5 1502.4L2676.8 1538.9L2678.6 1575.3L2677.8 1611.8M2686.4 1397.2L2685.3 1434.1L2684.8 1470.9L2685.4 1507.8L2686.2 1544.7L2687.4 1581.6L2686.4 1618.5M2692.8 1400.7L2694.5 1436.6L2695.2 1472.6L2695.7 1508.6L2692.8 1544.5L2692.9 1580.5L2694.3 1616.5M2702.6 1403.8L2703.2 1438.5L2705.6 1473.2L2705.5 1507.9L2703.4 1542.6L2702.6 1577.3L2703.3 1612M2713.9 1405.8L2713.6 1440L2710.8 1474.3L2711.2 1508.5L2711.1 1542.8L2713.2 1577.1L2714.1 1611.3M2719.3 1407.2L2721.9 1440.9L2722.8 1474.6L2721.1 1508.3L2720 1542.1L2719.4 1575.8L2719.9 1609.5M2731.8 1408L2733.1 1443.2L2732 1478.4L2730.1 1513.6L2729.7 1548.8L2731.5 1584L2731.9 1619.2" fill="none" stroke="#333" stroke-width="2.1"/>
<path d="M1499.5 1372.5L1508.1 1372.9L1516.8 1373L1525.4 1372.8L1534 1372.2L1542.6 1371.3L1551.2 1370.1L1559.9 1368.6L1568.5 1366.7L1577.1 1364.5L1585.8 1362L1594.4 1359.2L1603 1356L1603 1392L1594.4 1395.2L1585.8 1398L1577.1 1400.5L1568.5 1402.7L1559.9 1404.6L1551.2 1406.1L1542.6 1407.3L1534 1408.2L1525.4 1408.8L1516.8 1409L1508.1 1408.9L1499.5 1408.5Z" fill="url(#pD1)"/>
<path d="M1499.5 1434.5L1508.1 1434.9L1516.8 1435L1525.4 1434.8L1534 1434.2L1542.6 1433.3L1551.2 1432.1L1559.9 1430.6L1568.5 1428.7L1577.1 1426.5L1585.8 1424L1594.4 1421.2L1603 1418L1603 1454L1594.4 1457.2L1585.8 1460L1577.1 1462.5L1568.5 1464.7L1559.9 1466.6L1551.2 1468.1L1542.6 1469.3L1534 1470.2L1525.4 1470.8L1516.8 1471L1508.1 1470.9L1499.5 1470.5Z" fill="url(#pD1)"/>
<path d="M1499.5 1496.5L1508.1 1496.9L1516.8 1497L1525.4 1496.8L1534 1496.2L1542.6 1495.3L1551.2 1494.1L1559.9 1492.6L1568.5 1490.7L1577.1 1488.5L1585.8 1486L1594.4 1483.2L1603 1480L1603 1516L1594.4 1519.2L1585.8 1522L1577.1 1524.5L1568.5 1526.7L1559.9 1528.6L1551.2 1530.1L1542.6 1531.3L1534 1532.2L1525.4 1532.8L1516.8 1533L1508.1 1532.9L1499.5 1532.5Z" fill="url(#pD1)"/>
<path d="M1499.5 1558.5L1508.1 1558.9L1516.8 1559L1525.4 1558.8L1534 1558.2L1542.6 1557.3L1551.2 1556.1L1559.9 1554.6L1568.5 1552.7L1577.1 1550.5L1585.8 1548L1594.4 1545.2L1603 1542L1603 1578L1594.4 1581.2L1585.8 1584L1577.1 1586.5L1568.5 1588.7L1559.9 1590.6L1551.2 1592.1L1542.6 1593.3L1534 1594.2L1525.4 1594.8L1516.8 1595L1508.1 1594.9L1499.5 1594.5Z" fill="url(#pD1)"/>
<path d="M1671 1356L1685.7 1361.2L1700.3 1365.4L1715 1368.8L1729.7 1371.1L1744.3 1372.5L1759 1373L1773.7 1372.5L1788.3 1371.1L1803 1368.8L1817.7 1365.4L1832.3 1361.2L1847 1356L1847 1392L1832.3 1397.2L1817.7 1401.4L1803 1404.8L1788.3 1407.1L1773.7 1408.5L1759 1409L1744.3 1408.5L1729.7 1407.1L1715 1404.8L1700.3 1401.4L1685.7 1397.2L1671 1392Z" fill="url(#pD1)"/>
<path d="M1671 1418L1685.7 1423.2L1700.3 1427.4L1715 1430.8L1729.7 1433.1L1744.3 1434.5L1759 1435L1773.7 1434.5L1788.3 1433.1L1803 1430.8L1817.7 1427.4L1832.3 1423.2L1847 1418L1847 1454L1832.3 1459.2L1817.7 1463.4L1803 1466.8L1788.3 1469.1L1773.7 1470.5L1759 1471L1744.3 1470.5L1729.7 1469.1L1715 1466.8L1700.3 1463.4L1685.7 1459.2L1671 1454Z" fill="url(#pD1)"/>
<path d="M1671 1480L1685.7 1485.2L1700.3 1489.4L1715 1492.8L1729.7 1495.1L1744.3 1496.5L1759 1497L1773.7 1496.5L1788.3 1495.1L1803 1492.8L1817.7 1489.4L1832.3 1485.2L1847 1480L1847 1516L1832.3 1521.2L1817.7 1525.4L1803 1528.8L1788.3 1531.1L1773.7 1532.5L1759 1533L1744.3 1532.5L1729.7 1531.1L1715 1528.8L1700.3 1525.4L1685.7 1521.2L1671 1516Z" fill="url(#pD1)"/>
<path d="M1671 1542L1685.7 1547.2L1700.3 1551.4L1715 1554.8L1729.7 1557.1L1744.3 1558.5L1759 1559L1773.7 1558.5L1788.3 1557.1L1803 1554.8L1817.7 1551.4L1832.3 1547.2L1847 1542L1847 1578L1832.3 1583.2L1817.7 1587.4L1803 1590.8L1788.3 1593.1L1773.7 1594.5L1759 1595L1744.3 1594.5L1729.7 1593.1L1715 1590.8L1700.3 1587.4L1685.7 1583.2L1671 1578Z" fill="url(#pD1)"/>
<path d="M1915 1356L1929.8 1361.1L1944.5 1365.4L1959.2 1368.7L1974 1371.1L1988.8 1372.5L2003.5 1373L2018.2 1372.5L2033 1371.1L2047.8 1368.7L2062.5 1365.4L2077.2 1361.1L2092 1356L2092 1392L2077.2 1397.1L2062.5 1401.4L2047.8 1404.7L2033 1407.1L2018.2 1408.5L2003.5 1409L1988.8 1408.5L1974 1407.1L1959.2 1404.7L1944.5 1401.4L1929.8 1397.1L1915 1392Z" fill="url(#pD1)"/>
<path d="M1915 1418L1929.8 1423.1L1944.5 1427.4L1959.2 1430.7L1974 1433.1L1988.8 1434.5L2003.5 1435L2018.2 1434.5L2033 1433.1L2047.8 1430.7L2062.5 1427.4L2077.2 1423.1L2092 1418L2092 1454L2077.2 1459.1L2062.5 1463.4L2047.8 1466.7L2033 1469.1L2018.2 1470.5L2003.5 1471L1988.8 1470.5L1974 1469.1L1959.2 1466.7L1944.5 1463.4L1929.8 1459.1L1915 1454Z" fill="url(#pD1)"/>
<path d="M1915 1480L1929.8 1485.1L1944.5 1489.4L1959.2 1492.7L1974 1495.1L1988.8 1496.5L2003.5 1497L2018.2 1496.5L2033 1495.1L2047.8 1492.7L2062.5 1489.4L2077.2 1485.1L2092 1480L2092 1516L2077.2 1521.1L2062.5 1525.4L2047.8 1528.7L2033 1531.1L2018.2 1532.5L2003.5 1533L1988.8 1532.5L1974 1531.1L1959.2 1528.7L1944.5 1525.4L1929.8 1521.1L1915 1516Z" fill="url(#pD1)"/>
<path d="M1915 1542L1929.8 1547.1L1944.5 1551.4L1959.2 1554.7L1974 1557.1L1988.8 1558.5L2003.5 1559L2018.2 1558.5L2033 1557.1L2047.8 1554.7L2062.5 1551.4L2077.2 1547.1L2092 1542L2092 1578L2077.2 1583.1L2062.5 1587.4L2047.8 1590.7L2033 1593.1L2018.2 1594.5L2003.5 1595L1988.8 1594.5L1974 1593.1L1959.2 1590.7L1944.5 1587.4L1929.8 1583.1L1915 1578Z" fill="url(#pD1)"/>
<path d="M2160 1356L2174.7 1361.2L2189.4 1365.5L2204.1 1368.8L2218.8 1371.1L2233.5 1372.5L2248.2 1373L2263 1372.5L2277.7 1371.1L2292.4 1368.7L2307.1 1365.3L2321.8 1361L2336.5 1356L2336.5 1392L2321.8 1397L2307.1 1401.3L2292.4 1404.7L2277.7 1407.1L2263 1408.5L2248.2 1409L2233.5 1408.5L2218.8 1407.1L2204.1 1404.8L2189.4 1401.5L2174.7 1397.2L2160 1392Z" fill="url(#pD1)"/>
<path d="M2160 1418L2174.7 1423.2L2189.4 1427.5L2204.1 1430.8L2218.8 1433.1L2233.5 1434.5L2248.2 1435L2263 1434.5L2277.7 1433.1L2292.4 1430.7L2307.1 1427.3L2321.8 1423L2336.5 1418L2336.5 1454L2321.8 1459L2307.1 1463.3L2292.4 1466.7L2277.7 1469.1L2263 1470.5L2248.2 1471L2233.5 1470.5L2218.8 1469.1L2204.1 1466.8L2189.4 1463.5L2174.7 1459.2L2160 1454Z" fill="url(#pD1)"/>
<path d="M2160 1480L2174.7 1485.2L2189.4 1489.5L2204.1 1492.8L2218.8 1495.1L2233.5 1496.5L2248.2 1497L2263 1496.5L2277.7 1495.1L2292.4 1492.7L2307.1 1489.3L2321.8 1485L2336.5 1480L2336.5 1516L2321.8 1521L2307.1 1525.3L2292.4 1528.7L2277.7 1531.1L2263 1532.5L2248.2 1533L2233.5 1532.5L2218.8 1531.1L2204.1 1528.8L2189.4 1525.5L2174.7 1521.2L2160 1516Z" fill="url(#pD1)"/>
<path d="M2160 1542L2174.7 1547.2L2189.4 1551.5L2204.1 1554.8L2218.8 1557.1L2233.5 1558.5L2248.2 1559L2263 1558.5L2277.7 1557.1L2292.4 1554.7L2307.1 1551.3L2321.8 1547L2336.5 1542L2336.5 1578L2321.8 1583L2307.1 1587.3L2292.4 1590.7L2277.7 1593.1L2263 1594.5L2248.2 1595L2233.5 1594.5L2218.8 1593.1L2204.1 1590.8L2189.4 1587.5L2174.7 1583.2L2160 1578Z" fill="url(#pD1)"/>
<path d="M2404.5 1408L2419.2 1413.1L2433.9 1417.4L2448.6 1420.7L2463.3 1423.1L2478 1424.5L2492.8 1425L2507.5 1424.5L2522.2 1423.1L2536.9 1420.7L2551.6 1417.4L2566.3 1413.1L2581 1408L2581 1444L2566.3 1449.1L2551.6 1453.4L2536.9 1456.7L2522.2 1459.1L2507.5 1460.5L2492.8 1461L2478 1460.5L2463.3 1459.1L2448.6 1456.7L2433.9 1453.4L2419.2 1449.1L2404.5 1444Z" fill="url(#pD1)"/>
<path d="M2404.5 1470L2419.2 1475.1L2433.9 1479.4L2448.6 1482.7L2463.3 1485.1L2478 1486.5L2492.8 1487L2507.5 1486.5L2522.2 1485.1L2536.9 1482.7L2551.6 1479.4L2566.3 1475.1L2581 1470L2581 1506L2566.3 1511.1L2551.6 1515.4L2536.9 1518.7L2522.2 1521.1L2507.5 1522.5L2492.8 1523L2478 1522.5L2463.3 1521.1L2448.6 1518.7L2433.9 1515.4L2419.2 1511.1L2404.5 1506Z" fill="url(#pD1)"/>
<path d="M2404.5 1532L2419.2 1537.1L2433.9 1541.4L2448.6 1544.7L2463.3 1547.1L2478 1548.5L2492.8 1549L2507.5 1548.5L2522.2 1547.1L2536.9 1544.7L2551.6 1541.4L2566.3 1537.1L2581 1532L2581 1568L2566.3 1573.1L2551.6 1577.4L2536.9 1580.7L2522.2 1583.1L2507.5 1584.5L2492.8 1585L2478 1584.5L2463.3 1583.1L2448.6 1580.7L2433.9 1577.4L2419.2 1573.1L2404.5 1568Z" fill="url(#pD1)"/>
<path d="M2646 1408L2653.9 1410.9L2661.9 1413.6L2669.8 1416L2677.8 1418.1L2685.8 1419.9L2693.7 1421.4L2701.7 1422.7L2709.6 1423.7L2717.6 1424.4L2725.5 1424.8L2733.5 1425L2741.4 1424.9L2741.4 1460.9L2733.5 1461L2725.5 1460.8L2717.6 1460.4L2709.6 1459.7L2701.7 1458.7L2693.7 1457.4L2685.8 1455.9L2677.8 1454.1L2669.8 1452L2661.9 1449.6L2653.9 1446.9L2646 1444Z" fill="url(#pD1)"/>
<path d="M2646 1470L2653.9 1472.9L2661.9 1475.6L2669.8 1478L2677.8 1480.1L2685.8 1481.9L2693.7 1483.4L2701.7 1484.7L2709.6 1485.7L2717.6 1486.4L2725.5 1486.8L2733.5 1487L2741.4 1486.9L2741.4 1522.9L2733.5 1523L2725.5 1522.8L2717.6 1522.4L2709.6 1521.7L2701.7 1520.7L2693.7 1519.4L2685.8 1517.9L2677.8 1516.1L2669.8 1514L2661.9 1511.6L2653.9 1508.9L2646 1506Z" fill="url(#pD1)"/>
<path d="M2646 1532L2653.9 1534.9L2661.9 1537.6L2669.8 1540L2677.8 1542.1L2685.8 1543.9L2693.7 1545.4L2701.7 1546.7L2709.6 1547.7L2717.6 1548.4L2725.5 1548.8L2733.5 1549L2741.4 1548.9L2741.4 1584.9L2733.5 1585L2725.5 1584.8L2717.6 1584.4L2709.6 1583.7L2701.7 1582.7L2693.7 1581.4L2685.8 1579.9L2677.8 1578.1L2669.8 1576L2661.9 1573.6L2653.9 1570.9L2646 1568Z" fill="url(#pD1)"/>
<path d="M1603 1306L1595.6 1311.8L1588.2 1317.1L1580.8 1321.9L1573.4 1326.1L1566 1329.9L1558.6 1333.1L1551.2 1335.9L1543.9 1338.1L1536.5 1339.9L1529.1 1341.1L1521.7 1341.8L1514.3 1342L1506.9 1341.7L1499.5 1340.9M1847 1306L1834.4 1315.6L1821.9 1323.6L1809.3 1330.2L1796.7 1335.4L1784.1 1339.1L1771.6 1341.3L1759 1342L1746.4 1341.3L1733.9 1339.1L1721.3 1335.4L1708.7 1330.2L1696.1 1323.6L1683.6 1315.6L1671 1306M2092 1306L2079.4 1315.2L2066.7 1323.4L2054.1 1330.1L2041.4 1335.3L2028.8 1339L2016.1 1341.3L2003.5 1342L1990.9 1341.3L1978.2 1339L1965.6 1335.3L1952.9 1330.1L1940.3 1323.4L1927.6 1315.2L1915 1306M2581 1372L2568.4 1381.4L2555.8 1389.5L2543.2 1396.2L2530.6 1401.3L2518 1405L2505.4 1407.3L2492.8 1408L2480.1 1407.3L2467.5 1405.1L2454.9 1401.4L2442.3 1396.2L2429.7 1389.6L2417.1 1381.4L2404.5 1372M2741.4 1407.7L2734.6 1408L2727.8 1407.8L2721 1407.2L2714.1 1406.2L2707.3 1404.7L2700.5 1402.8L2693.7 1400.4L2686.9 1397.7L2680.1 1394.5L2673.3 1390.8L2666.4 1386.8L2659.6 1382.3L2652.8 1377.4L2646 1372M1499.5 1372.5L1508.1 1372.9L1516.8 1373L1525.4 1372.8L1534 1372.2L1542.6 1371.3L1551.2 1370.1L1559.9 1368.6L1568.5 1366.7L1577.1 1364.5L1585.8 1362L1594.4 1359.2L1603 1356M1603 1392L1594.4 1395.2L1585.8 1398L1577.1 1400.5L1568.5 1402.7L1559.9 1404.6L1551.2 1406.1L1542.6 1407.3L1534 1408.2L1525.4 1408.8L1516.8 1409L1508.1 1408.9L1499.5 1408.5M1499.5 1434.5L1508.1 1434.9L1516.8 1435L1525.4 1434.8L1534 1434.2L1542.6 1433.3L1551.2 1432.1L1559.9 1430.6L1568.5 1428.7L1577.1 1426.5L1585.8 1424L1594.4 1421.2L1603 1418M1603 1454L1594.4 1457.2L1585.8 1460L1577.1 1462.5L1568.5 1464.7L1559.9 1466.6L1551.2 1468.1L1542.6 1469.3L1534 1470.2L1525.4 1470.8L1516.8 1471L1508.1 1470.9L1499.5 1470.5M1499.5 1496.5L1508.1 1496.9L1516.8 1497L1525.4 1496.8L1534 1496.2L1542.6 1495.3L1551.2 1494.1L1559.9 1492.6L1568.5 1490.7L1577.1 1488.5L1585.8 1486L1594.4 1483.2L1603 1480M1603 1516L1594.4 1519.2L1585.8 1522L1577.1 1524.5L1568.5 1526.7L1559.9 1528.6L1551.2 1530.1L1542.6 1531.3L1534 1532.2L1525.4 1532.8L1516.8 1533L1508.1 1532.9L1499.5 1532.5M1499.5 1558.5L1508.1 1558.9L1516.8 1559L1525.4 1558.8L1534 1558.2L1542.6 1557.3L1551.2 1556.1L1559.9 1554.6L1568.5 1552.7L1577.1 1550.5L1585.8 1548L1594.4 1545.2L1603 1542M1603 1578L1594.4 1581.2L1585.8 1584L1577.1 1586.5L1568.5 1588.7L1559.9 1590.6L1551.2 1592.1L1542.6 1593.3L1534 1594.2L1525.4 1594.8L1516.8 1595L1508.1 1594.9L1499.5 1594.5M1671 1356L1685.7 1361.2L1700.3 1365.4L1715 1368.8L1729.7 1371.1L1744.3 1372.5L1759 1373L1773.7 1372.5L1788.3 1371.1L1803 1368.8L1817.7 1365.4L1832.3 1361.2L1847 1356M1847 1392L1832.3 1397.2L1817.7 1401.4L1803 1404.8L1788.3 1407.1L1773.7 1408.5L1759 1409L1744.3 1408.5L1729.7 1407.1L1715 1404.8L1700.3 1401.4L1685.7 1397.2L1671 1392M1671 1418L1685.7 1423.2L1700.3 1427.4L1715 1430.8L1729.7 1433.1L1744.3 1434.5L1759 1435L1773.7 1434.5L1788.3 1433.1L1803 1430.8L1817.7 1427.4L1832.3 1423.2L1847 1418M1847 1454L1832.3 1459.2L1817.7 1463.4L1803 1466.8L1788.3 1469.1L1773.7 1470.5L1759 1471L1744.3 1470.5L1729.7 1469.1L1715 1466.8L1700.3 1463.4L1685.7 1459.2L1671 1454M1671 1480L1685.7 1485.2L1700.3 1489.4L1715 1492.8L1729.7 1495.1L1744.3 1496.5L1759 1497L1773.7 1496.5L1788.3 1495.1L1803 1492.8L1817.7 1489.4L1832.3 1485.2L1847 1480M1847 1516L1832.3 1521.2L1817.7 1525.4L1803 1528.8L1788.3 1531.1L1773.7 1532.5L1759 1533L1744.3 1532.5L1729.7 1531.1L1715 1528.8L1700.3 1525.4L1685.7 1521.2L1671 1516M1671 1542L1685.7 1547.2L1700.3 1551.4L1715 1554.8L1729.7 1557.1L1744.3 1558.5L1759 1559L1773.7 1558.5L1788.3 1557.1L1803 1554.8L1817.7 1551.4L1832.3 1547.2L1847 1542M1847 1578L1832.3 1583.2L1817.7 1587.4L1803 1590.8L1788.3 1593.1L1773.7 1594.5L1759 1595L1744.3 1594.5L1729.7 1593.1L1715 1590.8L1700.3 1587.4L1685.7 1583.2L1671 1578M1915 1356L1929.8 1361.1L1944.5 1365.4L1959.2 1368.7L1974 1371.1L1988.8 1372.5L2003.5 1373L2018.2 1372.5L2033 1371.1L2047.8 1368.7L2062.5 1365.4L2077.2 1361.1L2092 1356M2092 1392L2077.2 1397.1L2062.5 1401.4L2047.8 1404.7L2033 1407.1L2018.2 1408.5L2003.5 1409L1988.8 1408.5L1974 1407.1L1959.2 1404.7L1944.5 1401.4L1929.8 1397.1L1915 1392M1915 1418L1929.8 1423.1L1944.5 1427.4L1959.2 1430.7L1974 1433.1L1988.8 1434.5L2003.5 1435L2018.2 1434.5L2033 1433.1L2047.8 1430.7L2062.5 1427.4L2077.2 1423.1L2092 1418M2092 1454L2077.2 1459.1L2062.5 1463.4L2047.8 1466.7L2033 1469.1L2018.2 1470.5L2003.5 1471L1988.8 1470.5L1974 1469.1L1959.2 1466.7L1944.5 1463.4L1929.8 1459.1L1915 1454M1915 1480L1929.8 1485.1L1944.5 1489.4L1959.2 1492.7L1974 1495.1L1988.8 1496.5L2003.5 1497L2018.2 1496.5L2033 1495.1L2047.8 1492.7L2062.5 1489.4L2077.2 1485.1L2092 1480M2092 1516L2077.2 1521.1L2062.5 1525.4L2047.8 1528.7L2033 1531.1L2018.2 1532.5L2003.5 1533L1988.8 1532.5L1974 1531.1L1959.2 1528.7L1944.5 1525.4L1929.8 1521.1L1915 1516M1915 1542L1929.8 1547.1L1944.5 1551.4L1959.2 1554.7L1974 1557.1L1988.8 1558.5L2003.5 1559L2018.2 1558.5L2033 1557.1L2047.8 1554.7L2062.5 1551.4L2077.2 1547.1L2092 1542M2092 1578L2077.2 1583.1L2062.5 1587.4L2047.8 1590.7L2033 1593.1L2018.2 1594.5L2003.5 1595L1988.8 1594.5L1974 1593.1L1959.2 1590.7L1944.5 1587.4L1929.8 1583.1L1915 1578M2160 1356L2174.7 1361.2L2189.4 1365.5L2204.1 1368.8L2218.8 1371.1L2233.5 1372.5L2248.2 1373L2263 1372.5L2277.7 1371.1L2292.4 1368.7L2307.1 1365.3L2321.8 1361L2336.5 1356M2336.5 1392L2321.8 1397L2307.1 1401.3L2292.4 1404.7L2277.7 1407.1L2263 1408.5L2248.2 1409L2233.5 1408.5L2218.8 1407.1L2204.1 1404.8L2189.4 1401.5L2174.7 1397.2L2160 1392M2160 1418L2174.7 1423.2L2189.4 1427.5L2204.1 1430.8L2218.8 1433.1L2233.5 1434.5L2248.2 1435L2263 1434.5L2277.7 1433.1L2292.4 1430.7L2307.1 1427.3L2321.8 1423L2336.5 1418M2336.5 1454L2321.8 1459L2307.1 1463.3L2292.4 1466.7L2277.7 1469.1L2263 1470.5L2248.2 1471L2233.5 1470.5L2218.8 1469.1L2204.1 1466.8L2189.4 1463.5L2174.7 1459.2L2160 1454M2160 1480L2174.7 1485.2L2189.4 1489.5L2204.1 1492.8L2218.8 1495.1L2233.5 1496.5L2248.2 1497L2263 1496.5L2277.7 1495.1L2292.4 1492.7L2307.1 1489.3L2321.8 1485L2336.5 1480M2336.5 1516L2321.8 1521L2307.1 1525.3L2292.4 1528.7L2277.7 1531.1L2263 1532.5L2248.2 1533L2233.5 1532.5L2218.8 1531.1L2204.1 1528.8L2189.4 1525.5L2174.7 1521.2L2160 1516M2160 1542L2174.7 1547.2L2189.4 1551.5L2204.1 1554.8L2218.8 1557.1L2233.5 1558.5L2248.2 1559L2263 1558.5L2277.7 1557.1L2292.4 1554.7L2307.1 1551.3L2321.8 1547L2336.5 1542M2336.5 1578L2321.8 1583L2307.1 1587.3L2292.4 1590.7L2277.7 1593.1L2263 1594.5L2248.2 1595L2233.5 1594.5L2218.8 1593.1L2204.1 1590.8L2189.4 1587.5L2174.7 1583.2L2160 1578M2404.5 1408L2419.2 1413.1L2433.9 1417.4L2448.6 1420.7L2463.3 1423.1L2478 1424.5L2492.8 1425L2507.5 1424.5L2522.2 1423.1L2536.9 1420.7L2551.6 1417.4L2566.3 1413.1L2581 1408M2581 1444L2566.3 1449.1L2551.6 1453.4L2536.9 1456.7L2522.2 1459.1L2507.5 1460.5L2492.8 1461L2478 1460.5L2463.3 1459.1L2448.6 1456.7L2433.9 1453.4L2419.2 1449.1L2404.5 1444M2404.5 1470L2419.2 1475.1L2433.9 1479.4L2448.6 1482.7L2463.3 1485.1L2478 1486.5L2492.8 1487L2507.5 1486.5L2522.2 1485.1L2536.9 1482.7L2551.6 1479.4L2566.3 1475.1L2581 1470M2581 1506L2566.3 1511.1L2551.6 1515.4L2536.9 1518.7L2522.2 1521.1L2507.5 1522.5L2492.8 1523L2478 1522.5L2463.3 1521.1L2448.6 1518.7L2433.9 1515.4L2419.2 1511.1L2404.5 1506M2404.5 1532L2419.2 1537.1L2433.9 1541.4L2448.6 1544.7L2463.3 1547.1L2478 1548.5L2492.8 1549L2507.5 1548.5L2522.2 1547.1L2536.9 1544.7L2551.6 1541.4L2566.3 1537.1L2581 1532M2581 1568L2566.3 1573.1L2551.6 1577.4L2536.9 1580.7L2522.2 1583.1L2507.5 1584.5L2492.8 1585L2478 1584.5L2463.3 1583.1L2448.6 1580.7L2433.9 1577.4L2419.2 1573.1L2404.5 1568M2646 1408L2653.9 1410.9L2661.9 1413.6L2669.8 1416L2677.8 1418.1L2685.8 1419.9L2693.7 1421.4L2701.7 1422.7L2709.6 1423.7L2717.6 1424.4L2725.5 1424.8L2733.5 1425L2741.4 1424.9M2741.4 1460.9L2733.5 1461L2725.5 1460.8L2717.6 1460.4L2709.6 1459.7L2701.7 1458.7L2693.7 1457.4L2685.8 1455.9L2677.8 1454.1L2669.8 1452L2661.9 1449.6L2653.9 1446.9L2646 1444M2646 1470L2653.9 1472.9L2661.9 1475.6L2669.8 1478L2677.8 1480.1L2685.8 1481.9L2693.7 1483.4L2701.7 1484.7L2709.6 1485.7L2717.6 1486.4L2725.5 1486.8L2733.5 1487L2741.4 1486.9M2741.4 1522.9L2733.5 1523L2725.5 1522.8L2717.6 1522.4L2709.6 1521.7L2701.7 1520.7L2693.7 1519.4L2685.8 1517.9L2677.8 1516.1L2669.8 1514L2661.9 1511.6L2653.9 1508.9L2646 1506M2646 1532L2653.9 1534.9L2661.9 1537.6L2669.8 1540L2677.8 1542.1L2685.8 1543.9L2693.7 1545.4L2701.7 1546.7L2709.6 1547.7L2717.6 1548.4L2725.5 1548.8L2733.5 1549L2741.4 1548.9M2741.4 1584.9L2733.5 1585L2725.5 1584.8L2717.6 1584.4L2709.6 1583.7L2701.7 1582.7L2693.7 1581.4L2685.8 1579.9L2677.8 1578.1L2669.8 1576L2661.9 1573.6L2653.9 1570.9L2646 1568" fill="none" stroke="#333" stroke-width="1.8"/>
<path d="M1603 1282V1616M1671 1274.6V1616M1847 1282V1616M1915 1274.7V1616M2092 1314.9V1616M2160 1333.8V1616M2336.5 1352.9V1616M2404.5 1347.6V1616M2581 1341.6V1616M2646 1342.4V1616" fill="none" stroke="#333" stroke-width="1.8"/>
<path d="M1630 1282.1Q1638 1447 1631 1617M1874 1282.1Q1882 1447.1 1875 1617M2109 1323.2Q2117 1467.6 2110 1617M2137 1330.1Q2145 1471 2138 1617M2357 1353Q2365 1482.5 2358 1617M2382 1351.1Q2390 1481.5 2383 1617M2609 1344.9Q2617 1478.5 2610 1617" fill="none" stroke="#333" stroke-width="1.7"/>
<path d="M1603 1319L1671 1343M1603 1365L1671 1356M1603 1381L1671 1405M1603 1427L1671 1418M1603 1443L1671 1467M1603 1489L1671 1480M1603 1505L1671 1529M1603 1551L1671 1542M1603 1567L1671 1591M1603 1613L1671 1604M1847 1319L1915 1343M1847 1365L1915 1356M1847 1381L1915 1405M1847 1427L1915 1418M1847 1443L1915 1467M1847 1489L1915 1480M1847 1505L1915 1529M1847 1551L1915 1542M1847 1567L1915 1591M1847 1613L1915 1604M2092 1319L2160 1343M2092 1365L2160 1356M2092 1381L2160 1405M2092 1427L2160 1418M2092 1443L2160 1467M2092 1489L2160 1480M2092 1505L2160 1529M2092 1551L2160 1542M2092 1567L2160 1591M2092 1613L2160 1604M2336.5 1319L2404.5 1343M2336.5 1365L2404.5 1356M2336.5 1381L2404.5 1405M2336.5 1427L2404.5 1418M2336.5 1443L2404.5 1467M2336.5 1489L2404.5 1480M2336.5 1505L2404.5 1529M2336.5 1551L2404.5 1542M2336.5 1567L2404.5 1591M2336.5 1613L2404.5 1604M2581 1381L2646 1405M2581 1427L2646 1418M2581 1443L2646 1467M2581 1489L2646 1480M2581 1505L2646 1529M2581 1551L2646 1542M2581 1567L2646 1591M2581 1613L2646 1604" fill="none" stroke="#777" stroke-width="1.9" stroke-dasharray="11 8"/>
<line x1="1499.5" y1="1365" x2="2741.4" y2="1365" stroke="#8a8a8a" stroke-width="1.8" stroke-dasharray="11 8"/>
<line x1="1499.5" y1="1427" x2="2741.4" y2="1427" stroke="#8a8a8a" stroke-width="1.8" stroke-dasharray="11 8"/>
<line x1="1499.5" y1="1489" x2="2741.4" y2="1489" stroke="#8a8a8a" stroke-width="1.8" stroke-dasharray="11 8"/>
<line x1="1499.5" y1="1551" x2="2741.4" y2="1551" stroke="#8a8a8a" stroke-width="1.8" stroke-dasharray="11 8"/>
<line x1="1499.5" y1="1613" x2="2741.4" y2="1613" stroke="#8a8a8a" stroke-width="1.8" stroke-dasharray="11 8"/>
</g>
<path d="M1509.2 1253.3l6.1 2.4M1519.3 1253.5l-4 2.1M1507.2 1254.3l-1.2 7.3M1507.2 1254.3l2 -1M1514.8 1263.2l0.5 -7.5M1514.8 1263.2l-3.3 1.4M1506 1261.6l5.5 2.9M1501.7 1252.3l5.4 2M1523.4 1256.3l-4.1 -2.8M1523.4 1256.3l4.8 -1.4M1506 1261.6l-4.2 1.8M1506.8 1273.3l-4.8 -2.6M1511.4 1264.5l-1.7 7.7M1509.7 1272.2l-2.9 1M1501.7 1263.4l0.3 7.2M2740.6 1318.7l-3.5 1.3M2741.1 1329.5l-4.7 -2.4M2736.4 1327.1l0.8 -7.1M1717.3 1251.6l5.3 1.8M1726.4 1251.4l-3.8 2M1717.3 1251.6l-4.5 2M1709.9 1252.2l2.9 1.5M1709.9 1252.2l-6 1.8M1700.4 1252l3.6 2M1842.5 1284.4l3.9 -2.2M1851.1 1283.4l-4.6 -1.2M1868.6 1282.9l-4.9 -1.7M1859.4 1284.1l4.3 -2.9M1851.1 1283.4l3.1 -1.4M1859.4 1284.1l-5.3 -2.1M1966.4 1250.9l-4.2 2.7M1957.8 1251.8l4.4 1.8M1919.1 1276.7l4.9 -2.2M1927.8 1276l-3.7 -1.5M2650.6 1344.2l5.5 -2.1M2656.1 1342.1l3.6 1.4M2624.1 1344.2l-2.3 -1.4M2616.8 1345.1l5 -2.3M1509.7 1272.2l5.5 2.6M1515.2 1274.9l4.5 -2.2M1519.7 1272.7l4.7 2.8M1514.8 1263.2l5.5 2.5M1519.7 1272.7l0.6 -7M1523.4 1256.3l-0.2 7.8M1523.2 1264.1l-3 1.6M1561.7 1279.3l5.8 2M1561.7 1279.3l0.9 -7.8M1570.7 1273l-4.6 -2.8M1570.7 1273l-0.3 6.7M1570.4 1279.8l-2.9 1.5M1562.6 1271.5l3.4 -1.3M1558.7 1281.2l3 -1.9M1575.8 1282.5l-5.4 -2.7M1575.8 1282.5l2.8 -1.4M1578.6 1281.1l5.9 2.3M1592.4 1283.6l-5 -1.7M1587.4 1281.9l-3 1.4M2292.1 1260.3l0.8 1.1M2298.4 1260.9l-5.5 0.5M2724.5 1329.7l0.3 8.6M2724.5 1329.7l3.4 -1.8M2727.9 1327.9l4.5 1.3M2732.4 1329.2l1 7.9M2733.4 1337.1l-5.5 2.8M2727.9 1339.9l-3.1 -1.6M2736.4 1327.1l-4 2.1M2737.1 1320l-3.9 -2.4M2733.2 1317.6l-5.7 2.4M2727.5 1320l0.4 7.9M2737.3 1338.6l-3.9 -1.5M1718.5 1262.8l3.7 -1.8M1718.5 1262.8l-0.4 7.8M1722.2 1261l4.9 2.1M1727.1 1263.2l-0.3 7.5M1726.8 1270.7l-5.5 1.4M1721.3 1272.1l-3.2 -1.5M1722.6 1253.4l-0.4 7.6M1713.5 1260.5l-0.7 -6.8M1713.5 1260.5l5 2.4M1615.3 1263.2l-4 1.9M1611.3 1265.2l-5 -2.6M1958.3 1270.1l-0.1 -6.8M1958.3 1270.1l4.9 2.4M1963.1 1260.5l-4.8 2.8M1963.1 1260.5l3.3 1.3M1963.2 1272.5l3.8 -1.7M1966.3 1261.9l0.7 9M2113.3 1256.5l0.2 0.2M2113.5 1256.7l6.1 -0.2M2120 1256l-0.4 0.5M1845.9 1273.7l0.6 8.5M1845.9 1273.7l5.3 -1.3M1854.1 1282l0.2 -8M1851.2 1272.4l3.2 1.6M1906.7 1257l-4.9 3.5M1906.7 1257l4.1 1M1910.8 1258.1l1.3 8.4M1903 1266.8l-1.2 -6.3M1903 1266.8l3.4 1.7M1906.5 1268.4l5.7 -2M1963.1 1260.5l-0.8 -6.9M1958.3 1263.4l-4.6 -2.3M1957.8 1251.8l-4.6 1.7M1953.7 1261l-0.5 -7.5M1919.4 1265.5l-0.4 -8.3M1919.4 1265.5l3.8 1.4M1923.2 1266.9l4.5 -2.9M1927.7 1264l-1.4 -7.2M1919 1257.2l4.7 -1.4M1926.3 1256.9l-2.7 -1.1M1910.8 1258.1l4.1 -2.5M1915 1255.6l4 1.6M1912.1 1266.5l1.9 1M1914.1 1267.4l5.3 -2M1919.1 1276.7l-3.6 -1.1M1924 1274.5l-0.8 -7.6M1914.1 1267.4l1.4 8.2M1927.8 1276l5.3 -2.7M1933.1 1273.4l-0.9 -7.9M1932.2 1265.5l-4.5 -1.5M1935 1254.7l1.5 8.1M1935 1254.7l-2.1 -1.3M1932.9 1253.4l-6.5 3.5M1936.5 1262.8l-4.3 2.8M2716.4 1330.3l-5.1 -1.4M2716.4 1330.3l-0.3 7.8M2716.2 1338l-4.9 2.2M2707.3 1330.6l0.8 8M2707.3 1330.6l4 -1.8M2711.3 1340.3l-3.3 -1.7M2720.4 1339.7l-4.2 -1.7M2720.4 1339.7l4.4 -1.4M2719.6 1328.3l-3.2 2M2719.6 1328.3l4.9 1.4M2724.3 1318.2l-5.8 2.3M2718.5 1320.5l-2.1 -1.1M2727.5 1320l-3.2 -1.7M2719.6 1328.3l-1.1 -7.8M2711.5 1320.5l4.9 -1.1M2711.5 1320.5l-0.2 8.3M2711.5 1320.5l-3.1 -1.4M2599.6 1344.1l4.2 -1.7M2607.6 1345.1l-3.8 -2.7M2616.8 1345.1l-4.3 -1.9M2607.6 1345.1l4.9 -1.9M1544.6 1258l-1.8 1M1542.8 1259l-7 -2.3M1528.2 1254.9l4.6 3.6M1532.9 1258.4l3 -1.8M1561.6 1259.7l-3.9 2M1552.9 1259.5l4.8 2.2M1544.6 1258l5.5 2.5M1552.9 1259.5l-2.8 0.9M1561.6 1259.7l5.9 3.2M1567.6 1262.9l-1.5 7.4M1562.6 1271.5l-5.3 -2.1M1557.7 1261.7l-0.4 7.7M1567.6 1262.9l3.3 -1.6M1570.9 1261.3l4.4 2.1M1570.7 1273l4.6 -1.6M1575.3 1263.4l-0.1 8M1578.6 1281.1l0.8 -7.8M1575.3 1271.4l4.1 1.8M2298.4 1260.9l1.1 1.7M2305.3 1262.1l-5.8 0.5M2350 1275.5l-6 -0.8M2343.6 1273.8l0.4 0.8M2350 1275.5l0.5 1.1M2356.5 1277.1l-5.9 -0.6M2369.2 1286.2l1.1 1.9M2369.2 1286.2l-5.4 -0.1M2343.9 1280.5l5.6 0M2349.5 1280.4l1.2 2.2M2342.9 1278.7l1.1 -4M2342.9 1278.7l1 1.8M2350.5 1276.5l-1 3.9M2370.2 1288.2l5 0.3M2376.2 1290.2l-0.9 -1.8M1700.4 1252l-5.4 2.9M1695 1254.9l-3.1 -1.1M1691.9 1253.7l-5.7 2M1684.1 1254.6l2.1 1.1M1809.1 1281.3l-5.9 -2.9M1800.6 1279.8l2.7 -1.4M1813.6 1271.8l-5.6 -1.9M1813.6 1271.8l-1.5 8.2M1812.1 1280l-2.9 1.4M1808 1269.9l-3.7 1.8M1804.3 1271.6l-1 6.8M1815 1271.1l1.7 -8.2M1815 1271.1l6.1 1.8M1821.1 1273l2.7 -1.2M1823.8 1271.8l1.3 -7.8M1825.1 1264l-4.3 -2.2M1820.8 1261.8l-4.1 1.1M1812.2 1260l4.4 3M1812.2 1260l-4.4 2.4M1813.6 1271.8l1.4 -0.6M1807.8 1262.4l0.2 7.5M1825.1 1264l4 -1.6M1837.4 1274.8l5.2 -2.8M1837.4 1274.8l-4.4 -1.9M1833 1272.9l-0.1 -8.5M1842.5 1272l-0.4 -7M1832.9 1264.4l5.5 -1.7M1842.1 1265l-3.7 -2.3M1842.5 1284.4l-5 -2.5M1837.6 1282l-0.2 -7.2M1845.9 1273.7l-3.4 -1.7M1837.6 1282l-3.4 1.9M1834.1 1283.8l-5.9 -2.3M1829 1274.3l-0.9 7.2M1829 1274.3l4 -1.5M1829 1274.3l-5.2 -2.5M1829 1262.4l3.9 1.9M1847.2 1262.6l4.2 2.1M1847.2 1262.6l-5 2.4M1851.2 1272.4l0.2 -7.7M1851.3 1264.7l4.9 -1.8M1881.9 1261l-5.9 2.6M1872 1261.4l4.1 2.3M1890.1 1259.9l3.2 1.2M1893.3 1261.1l4.6 -2M1885 1262.4l-3.1 -1.4M1885 1262.4l5.1 -2.5M1901.8 1260.5l-4 -1.4M1906.5 1268.4l0.2 8.1M1915.5 1275.6l-4.1 2.3M1911.4 1277.9l-4.8 -1.4M1903 1266.8l-5 3.2M1893.3 1261.1l0.8 7.3M1894.1 1268.5l3.9 1.6M1958.3 1270.1l-5.1 2.7M1967 1270.8l4.6 1.1M1953.7 1261l-4.7 2.4M1953.2 1272.8l-4.4 -2M1949 1263.4l-0.2 7.4M1941.8 1252.8l2.8 1.6M1944.6 1254.4l5.9 -2.2M1935 1254.7l6.8 -1.9M1936.5 1262.8l3.1 0.9M1939.7 1263.6l4.9 -2.6M1944.6 1261l0 -6.7M1953.2 1253.5l-2.7 -1.3M1944.6 1261l4.5 2.4M2006 1274.7l3.2 -1.9M2009.2 1272.9l5.7 3.1M2014.3 1257l-4.4 -2.3M2014.3 1257l-0.7 7.7M2009.8 1254.7l-4.2 1.5M2013.6 1264.7l-3 1.5M2010.5 1266.2l-6 -3.4M2004.5 1262.8l1.1 -6.6M2001.3 1253l4.3 3.2M2228.4 1252.8l6.4 0.2M2165 1253.8l5.8 1M2171.1 1254.4l-0.3 0.4M2164.6 1259.9l-0.2 -5.5M2164.6 1259.9l-0.1 0.1M2164.5 1260l-6.2 -0.4M2164.5 1254.3l-6.3 0.2M2158.3 1259.6l-0.1 -5.1M2158.2 1254.5l0 0M2165 1253.8l-0.5 0.5M2170.9 1259.4l-0.1 -4.7M2170.9 1259.4l-6.3 0.4M2113.5 1256.7l0.3 5.4M2119.6 1256.5l0.3 5.4M2119.9 1261.9l-6.1 0.2M2522.2 1340l4.3 -2.3M2531.2 1340.2l-4.7 -2.5M2521.5 1328.5l0.5 -7.9M2521.5 1328.5l5.2 1.9M2531.1 1322.1l-0.7 6.3M2531.1 1322.1l-4.6 -3.3M2526.5 1318.8l-4.6 1.8M2526.7 1330.4l3.7 -2M2599.5 1332.4l0.2 -6.4M2599.5 1332.4l5 3.1M2604.5 1335.5l4.3 -1.7M2608.7 1333.8l0 -8.3M2599.7 1326l4.6 -2.4M2604.3 1323.6l4.4 1.9M2612.5 1343.2l0.2 -8.1M2603.8 1342.4l0.7 -7M2612.6 1335.1l-3.9 -1.3M2599.6 1344.1l-4.1 -1.5M2599.5 1332.4l-3.5 1.8M2596 1334.2l-0.5 8.4M2591.8 1343.9l3.7 -1.3M2565.5 1342.8l3.9 -2.3M2573.5 1342.7l-4.1 -2.2M2531.1 1322.1l4.4 -2.3M2517.6 1318.3l4.4 2.3M2599.7 1326l-4.6 -3M2596 1334.2l-5.7 -1.2M2595.1 1323l-5.2 2.2M2590.2 1332.9l-0.3 -7.7M2589.9 1325.2l-3.8 -1.7M2568.2 1321.9l4.8 2.8M2577.5 1322.7l-4.5 2M2582.1 1325.2l4.1 -1.7M2582.1 1325.2l-4.5 -2.5M2564.5 1323.4l3.7 -1.5M2564.5 1323.4l-4.1 -2M2564.5 1323.4l-0.6 8M2563.9 1331.3l5.7 2.5M2572.7 1331.9l-3.1 1.9M2572.7 1331.9l0.4 -7.3M2667.3 1342.5l-2.4 -1.1M2667.3 1342.5l6 -1.4M2664.9 1341.4l-0.8 -7.6M2673.2 1333l0.2 8.1M2673.2 1333l-4.6 -2M2668.5 1331.1l-4.4 2.8M2693.7 1321.8l5.8 -2.2M2693.7 1321.8l0.5 7.2M2703.5 1328.8l-5.1 2.5M2703.5 1328.8l-0.5 -7.1M2703 1321.7l-3.6 -2.1M2698.4 1331.3l-4.2 -2.2M2690.8 1320.3l2.9 1.6M2703.4 1340.3l4.7 -1.7M2703.4 1340.3l-5.2 -1.8M2698.2 1338.5l0.2 -7.2M2707.3 1330.6l-3.8 -1.8M2708.4 1319.1l-5.4 2.6M1537.4 1267.8l-5.5 -3M1537.4 1267.8l-0.6 7.6M1536.8 1275.4l-4.7 1.8M1529.9 1265.7l-2.4 9.1M1529.9 1265.7l1.9 -0.8M1532.1 1277.3l-4.6 -2.5M1542.8 1259l-2.2 7.6M1532.9 1258.4l-1 6.4M1540.6 1266.6l-3.3 1.2M1540.4 1277.9l-3.6 -2.5M1523.2 1264.1l6.7 1.6M1524.4 1275.5l3.1 -0.7M1554.6 1270.7l-5.9 -2.1M1554.6 1270.7l-1.3 7.2M1545.1 1276.5l4.4 2.9M1545.1 1276.5l1.5 -7.2M1546.6 1269.3l2.1 -0.8M1553.3 1277.9l-3.8 1.5M1550.1 1260.4l-1.4 8.1M1557.3 1269.4l-2.7 1.3M1558.7 1281.2l-5.4 -3.3M1540.4 1277.9l4.7 -1.4M1540.6 1266.6l6 2.7M2267.3 1257.5l-6.3 -0.9M2261 1256.6l-0.3 -0.4M2285.7 1259.4l-5.4 0.2M2279.3 1258.3l1 1.3M2292.1 1260.3l-5.6 0.1M2286.4 1260.4l-0.7 -1M2267.3 1257.5l0.1 0.1M2267.3 1257.6l5.9 0.4M2273.2 1258l0.8 1M2274 1259.1l5.3 -0.7M2330.9 1269.8l0.9 1.6M2331.8 1271.4l5.5 0M2343.6 1273.8l-5.6 -1.1M2337.4 1271.4l0.7 1.3M2317.8 1265.7l-5.1 0.5M2311.3 1264.2l1.3 2M2305.3 1262.1l1.1 2M2306.4 1264.1l4.9 0.1M2396 1296.8l-1.2 -2.2M2394.8 1294.6l-5.6 -0.1M2402.4 1299l5.4 -0.4M2408.9 1300.7l-1.1 -2.1M2396 1296.8l5.1 -0.3M2401.1 1296.5l1.3 2.5M2535.5 1319.8l4.3 1.4M2539.7 1321.2l3.7 -1.7M2375.6 1283.1l0.9 1.7M2376.4 1284.9l5.1 0.2M2370.5 1282.6l-1.3 3.6M2370.5 1282.6l5.1 0.5M2375.3 1288.4l1.2 -3.6M2370.5 1282.6l-1.3 -2.4M2356.3 1281.9l0.9 -3.4M2356.3 1281.9l1.1 2M2357.5 1283.9l5.4 0.4M2357.2 1278.6l5.2 0.2M2362.4 1278.7l1.5 2.5M2363.8 1281.3l-0.9 3M2356.5 1277.1l0.7 1.4M2350.7 1282.6l5.6 -0.7M2363.8 1286.1l-0.8 -1.8M2369.2 1280.2l-5.4 1.1M2472.2 1342l1.3 -1.9M2472.2 1342l20.6 -4.3M2492.8 1337.7l0.2 -8.5M2493 1329.2l-6.3 -1.5M2486.7 1327.7l-13.2 12.5M2492.8 1337.7l3.4 2M2493 1329.2l3.4 -2.2M2496.2 1339.7l4.2 -2M2496.4 1327l4.8 2.5M2500.5 1337.7l0.7 -8.2M2440.2 1311.1l5.5 0M2447 1313.2l-1.3 -2.2M2452 1312.7l1.5 2.5M2452 1312.7l-5 0.5M1726.4 1251.4l4.1 1.6M1727.1 1263.2l3.5 -1.7M1730.6 1261.5l-0.1 -8.5M1627.4 1271l-0.1 -6.8M1627.4 1271l-5.6 2.6M1619.7 1272.4l2.1 1.1M1619.7 1272.4l-1.2 -8.1M1627.3 1264.2l-4.3 -2M1618.5 1264.3l4.5 -2.1M1636.4 1270l-0.5 -7.2M1636.4 1270l-5.5 2.9M1630.9 1272.9l-3.5 -1.9M1635.9 1262.8l-3.8 -1.3M1632.1 1261.5l-4.9 2.7M1615.3 1263.2l3.1 1.1M1592.4 1283.6l4.3 -2.1M1596.7 1281.5l4.6 2.4M1630.9 1272.9l1.2 7.2M1632.1 1280.1l-5.7 2.3M1621.8 1273.5l0.8 7.3M1622.6 1280.8l3.8 1.5M1640.1 1272.1l0.7 7.3M1640.1 1272.1l-3.7 -2M1632.1 1280.1l2.8 1.3M1640.8 1279.3l-5.9 2.1M1622.6 1280.8l-4.4 2.5M1606.3 1273.8l-1.3 8.4M1606.3 1273.8l4.4 -1M1610.7 1272.8l2.2 1.4M1612.8 1274.1l1 7.5M1605 1282.2l5.2 1.6M1610.2 1283.8l3.6 -2.1M1602.4 1271.9l-5.5 2.2M1602.4 1271.9l3.9 1.8M1596.9 1274.2l-0.2 7.3M1601.3 1283.9l3.7 -1.7M1602.4 1264.7l0 7.3M1602.4 1264.7l3.8 -2.1M1611.3 1265.2l-0.7 7.6M1619.7 1272.4l-6.9 1.7M1618.2 1283.3l-4.4 -1.7M1661.4 1279l5.6 -3.4M1669.9 1276.7l-2.9 -1.1M1695 1254.9l0.9 7.6M1686.2 1255.7l1.2 7.3M1695.9 1262.4l-5 2.1M1687.4 1263l3.5 1.4M1687.3 1274.7l4.1 -2.2M1691.4 1272.4l4.1 1.1M1704 1261.3l-4.9 2.6M1704 1261.3l5 2.3M1699.1 1263.9l1.1 7.2M1709 1263.6l0.3 7.1M1700.2 1271.1l4.6 2M1709.3 1270.7l-4.5 2.4M1704 1254l0 7.3M1695.9 1262.4l3.2 1.5M1713.5 1260.5l-4.5 3.1M1690.9 1264.5l0.5 8M1695.5 1273.5l4.7 -2.5M1713.7 1272.3l4.3 -1.7M1713.7 1272.3l-4.4 -1.6M1726.8 1270.7l2.6 1.7M1743.6 1271l-5 2M1743.6 1271l-0.3 -8.6M1735.7 1263.2l3.4 -1.9M1735.7 1263.2l-0.3 7.7M1735.5 1270.9l3.1 2.2M1743.3 1262.4l-4.2 -1.1M1747.8 1272.6l-4.2 -1.6M1730.6 1261.5l5.1 1.7M1729.4 1272.4l6 -1.5M1791.5 1279l-6.1 -3.6M1782.5 1276.9l3 -1.5M1794.4 1277.5l-2.8 1.4M1794.4 1277.5l6.2 2.3M1807.8 1262.4l-4.6 -1.8M1825.5 1283l-5 -2.2M1817.2 1282.3l3.3 -1.5M1812.1 1280l5.1 2.3M1828.2 1281.5l-2.6 1.5M1821.1 1273l-0.6 7.8M1971.6 1271.9l3.1 -1.6M1974.8 1270.3l4.6 2.1M1979.3 1272.4l4.2 -1.8M1983.5 1270.6l5.1 2.2M1966.3 1261.9l4.4 -1.3M1974.8 1270.3l0.5 -7.3M1970.8 1260.6l4.5 2.5M1966.4 1250.9l5 2.2M1970.8 1260.6l0.7 -7.4M1859.2 1264.5l4.7 -2.1M1859.2 1264.5l0.5 7.6M1867.9 1271.4l-0.1 -7.8M1867.9 1271.4l-5.2 2.3M1863.9 1262.4l4 1.2M1862.7 1273.7l-3.1 -1.6M1856.2 1262.9l3 1.6M1854.4 1274l5.3 -1.9M1872.4 1273.2l4.4 -2.9M1872.4 1273.2l-4.5 -1.8M1876.8 1270.4l-0.7 -6.7M1872 1261.4l-4.1 2.2M1868.6 1282.9l4.5 -1.9M1863.7 1281.2l-1 -7.5M1873.1 1281l-0.7 -7.7M1892.6 1279.9l6.5 -1.8M1901.4 1279.1l-2.3 -1M1906.6 1276.5l-5.2 2.6M1898 1270l1.1 8.1M1873.1 1281l3.3 1.4M1885.8 1269.9l-4.6 2.2M1885.8 1269.9l3.2 1.4M1889 1271.3l1.8 7.7M1881.1 1272.1l0.3 8.1M1890.8 1279.1l-5.9 2.3M1881.5 1280.2l3.4 1.2M1885 1262.4l0.8 7.5M1876.8 1270.4l4.3 1.7M1894.1 1268.5l-5.1 2.9M1892.6 1279.9l-1.8 -0.8M1876.4 1282.4l5 -2.2M1936.2 1274.6l6 -2.9M1942.2 1271.7l2.4 0.7M1933.1 1273.4l3.1 1.2M1939.7 1263.6l2.5 8.1M1948.9 1270.8l-4.3 1.6M2023 1258.1l-0.8 7.3M2023 1258.1l-4.6 -3.1M2018.5 1255l-4.2 2M2013.6 1264.7l5.7 1.9M2022.2 1265.4l-3 1.2M2010.5 1266.2l-1.3 6.7M2014.9 1275.9l3.7 -1M2019.2 1266.6l-0.7 8.3M2032.4 1282.6l-5.8 -7.5M2026.6 1275.1l-4 2.1M2022.6 1277.2l-4 -2.3M2002.3 1263.6l-6.6 -1.9M2002.3 1263.6l-1.9 8.6M1992.9 1270.3l4.6 2.6M1992.9 1270.3l-0.1 -6.8M1992.8 1263.6l2.9 -1.8M2000.4 1272.3l-2.9 0.7M2004.5 1262.8l-2.2 0.8M2001.3 1253l-4.7 1.7M1996.6 1254.6l-0.9 7.1M2006 1274.7l-5.6 -2.5M1988.6 1272.8l4.3 -2.5M2101.1 1257.2l6.1 0.2M2107.2 1257.4l0 0.1M2113.3 1256.5l-6.2 0.9M2101.1 1257.2l-0.5 0.6M2094.6 1257.6l6 0.2M2075.3 1258.9l5.8 0M2081.4 1258.4l-0.4 0.4M2075.3 1258.9l-0.4 0.6M2069 1259.5l5.9 0M2081.4 1264l-0.4 -5.2M2081.4 1264l-6.1 0.4M2074.9 1259.5l0.5 5M2027.7 1256.4l-4.6 1.7M2043.2 1262.1l6.5 -0.4M2050 1261.2l-0.3 0.4M2235.5 1253.9l-0.5 4.2M2235.5 1253.9l6.2 -0.3M2241 1259.6l0.9 -5.6M2241 1259.6l-5.7 -1M2235.3 1258.6l-0.3 -0.5M2241.6 1253.5l0.3 0.4M2228.4 1252.8l-0.1 0.1M2234.9 1253l0.6 0.9M2228.3 1258.1l0 -5.3M2228.3 1258.1l0.3 0.3M2228.6 1258.5l6.4 -0.4M2222.2 1258.3l-0.2 -5.4M2222.2 1258.3l6.1 -0.1M2228.3 1252.9l-6.2 -0.1M2222.1 1252.9l0.1 -0.1M2170.9 1259.4l0.1 0.1M2113.7 1262.3l-6.3 0.1M2107 1262.9l0.4 -0.5M2113.9 1262.1l-0.2 0.2M2107.1 1257.5l0.3 5M2100.6 1257.8l0.3 4.8M2100.8 1262.6l6.2 0.4M2255 1261.8l5.4 -0.4M2261.1 1262.4l-0.8 -1M2261 1256.6l-0.7 4.8M2266.7 1262.5l0.6 -4.9M2266.7 1262.5l-5.7 -0.1M2260.7 1256.2l-6.2 0.1M2255 1261.8l-1 -1.3M2254 1260.5l0.5 -4.3M2254.2 1255.8l0.3 0.5M2254.2 1255.8l-6.1 -0.8M2241.9 1253.9l5.9 1.3M2248.1 1254.9l-0.3 0.3M2531.2 1340.2l4.8 -2.1M2526.5 1337.7l0.2 -7.3M2530.4 1328.4l5.3 2.6M2536 1338.1l-0.3 -7.1M2539.7 1321.2l-0.1 7.9M2539.7 1329.1l-4 1.9M2563.9 1331.3l-2.9 1.2M2565.5 1342.8l-5.8 -2M2569.6 1333.8l-0.2 6.7M2561 1332.6l-1.2 8.3M2559.7 1340.8l-3 1.4M2556.5 1322.4l-4.2 -2M2556.5 1322.4l-0.4 8.3M2552.3 1320.4l-3.8 1.7M2548.5 1322.1l-0.9 7.4M2547.6 1329.5l5.6 2.4M2556.1 1330.7l-2.9 1.1M2560.4 1321.4l-3.9 1M2561 1332.6l-4.8 -1.9M2543.4 1319.5l5.1 2.5M2545.1 1330.9l-5.4 -1.8M2545.1 1330.9l2.5 -1.5M2552.2 1339.9l4.5 2.3M2552.2 1339.9l1 -8.1M2587.9 1334.6l-6.9 -2M2587.9 1334.6l-0.2 7.5M2587.7 1342l-4.9 2.1M2579.3 1333.7l-0.4 7.5M2579.3 1333.7l1.8 -1.1M2582.8 1344.2l-3.9 -2.9M2582.1 1325.2l-1 7.4M2590.2 1332.9l-2.3 1.6M2591.8 1343.9l-4 -1.9M2572.7 1331.9l6.6 1.8M2573.5 1342.7l5.4 -1.5M2673.2 1333l4.4 -2.3M2671.9 1321.9l4.3 1.5M2671.9 1321.9l-3.7 2M2668.3 1323.8l0.2 7.2M2677.5 1330.8l-1.3 -7.4M2676.2 1323.4l4.8 -2.5M2690.8 1320.3l-5.8 2.8M2685 1323l-4 -2.1M2698.2 1338.5l-3.3 2.2M2694.9 1340.6l-4.9 -1.4M2694.2 1329.1l-5.1 2.3M2689.9 1339.3l-0.9 -7.9M2677.5 1330.8l3.5 1.3M2685 1323l0.4 6.8M2681 1332.1l4.4 -2.2M2689 1331.4l-3.6 -1.5M2676.4 1342.7l5.4 -2.1M2685.1 1341.8l-3.4 -1.2M2673.3 1341.1l3 1.6M2681 1332.1l0.7 8.5M2689.9 1339.3l-4.8 2.6M2659.8 1343.6l5.2 -2.1M2650.6 1344.2l-3.1 -1.4M2647.5 1342.8l-4.7 1.7M2608.7 1325.5l3.7 -1.5M2638 1323.7l-4.9 2.6M2633.1 1326.3l-4.3 -1.5M2639.2 1342.7l-0.6 -7.9M2639.2 1342.7l-6.2 1.9M2633 1344.5l-2.4 -1.6M2630.6 1343l0.4 -7.5M2638.6 1334.8l-4.6 -1.2M2631 1335.5l3 -1.8M2642.8 1344.5l-3.6 -1.8M2624.1 1344.2l6.5 -1.3M1575.3 1263.4l4.6 -1.4M1602.4 1264.7l-5 -2.1M1639.3 1261.1l-3.4 1.6M1592.9 1265.5l-4.8 -3.2M1592.9 1265.5l-0.2 5.7M1592.7 1271.2l-5.4 2.3M1583.3 1264l4.8 -1.7M1583.3 1264l-0.1 7.7M1587.3 1273.5l-4.1 -1.7M1597.4 1262.5l-4.6 3M1596.9 1274.2l-4.2 -2.9M1587.4 1281.9l-0.2 -8.5M1580 1262l3.3 2M1579.4 1273.3l3.7 -1.5M2266.7 1262.5l0.7 1M2274 1259.1l-0.5 4M2267.4 1263.5l6.1 -0.4M2286.4 1260.4l-0.5 4.2M2280.3 1259.6l-0.7 4.9M2285.9 1264.5l-5.7 0.8M2279.6 1264.5l0.6 0.8M2273.5 1263.1l0.4 0.6M2279.6 1264.5l-5.6 -0.9M2285.9 1264.5l0.9 1.1M2292.9 1261.4l-0.6 4.5M2286.8 1265.7l5.5 0.2M2299.5 1262.6l-0.7 3.9M2298.8 1266.5l-6 0.1M2292.3 1265.8l0.5 0.8M2298.8 1266.5l0.6 0.9M2306.4 1264.1l-1.1 3.9M2299.4 1267.5l5.9 0.5M2330.9 1269.8l-5.6 -0.4M2325.3 1269.4l-0.7 -1.5M2317.8 1265.7l1.1 2M2324.6 1267.9l-5.7 -0.3M2331.8 1271.4l-1.2 4M2324.3 1273l1 -3.6M2324.3 1273l0.9 1.6M2325.3 1274.6l5.4 0.8M2420 1302.8l-5.2 0.3M2420 1302.8l1 -3.3M2420.2 1297.8l0.8 1.7M2420.2 1297.8l-5.2 -0.3M2415 1297.5l-1.4 3.6M2413.6 1301.1l1.2 2.1M2413.8 1295.4l1.2 2.1M2408.9 1300.7l4.7 0.4M2407.8 1298.6l0.9 -3M2413.8 1295.4l-5.1 0.2M2427.7 1301.5l5.6 0.6M2427.7 1301.5l-0.8 -1.6M2420 1302.8l1.1 2.3M2421 1299.5l5.9 0.4M2421.1 1305.2l5.3 -0.1M2426.4 1305l1.2 -3.6M2388.4 1292.7l-5.9 -0.3M2388.4 1292.7l0.9 -3M2389.3 1289.6l-1.4 -2.7M2387.9 1286.9l-5.2 0.3M2382.7 1287.2l-1.1 3.3M2381.6 1290.5l0.9 1.8M2389.2 1294.6l-0.8 -1.9M2394.8 1294.6l1.3 -3.5M2396.1 1291.1l-1.2 -2.3M2394.8 1288.7l-5.5 0.9M2381.5 1285.1l1.2 2.2M2376.2 1290.2l5.4 0.3M2407.5 1293.1l-5.4 0.6M2402 1293.6l-1.2 -2.2M2408.7 1295.6l-1.3 -2.5M2401.1 1296.5l0.9 -2.9M2396.1 1291.1l4.8 0.4M2500.5 1337.7l4.5 1.5M2434 1303.5l5.7 0.4M2434 1303.5l-0.7 -1.4M2439.5 1309.5l1.1 -3.8M2439.5 1309.5l0.8 1.6M2445.7 1311l1.1 -3.4M2446.8 1307.7l-1.2 -2M2445.6 1305.6l-5 0M1734.7 1251.5l3.5 2M1738.2 1253.5l5.5 -2M1730.5 1253l4.2 -1.5M1739.1 1261.3l-0.9 -7.8M1747 1260.9l1 -6.3M1747 1260.9l-3.6 1.5M1748 1254.7l-4.3 -3.2M1748 1254.7l4.3 -2M1643.3 1280.5l6.3 -1.9M1652.9 1280.4l-3.4 -1.9M1640.8 1279.3l2.4 1.1M1661.4 1279l-3.3 -0.9M1658.2 1278.1l-5.3 2.3M1669.9 1276.7l5.5 -1.6M1678.4 1276.5l-2.9 -1.4M1687.3 1274.7l-3.1 -0.9M1678.4 1276.5l5.8 -2.7M1687.4 1263l-4.6 2.7M1684.2 1273.8l-1.4 -8M1684.1 1254.6l-5.8 1.8M1682.8 1265.8l-3.6 -1.1M1678.3 1256.4l0.8 8.3M1675.5 1275.1l-0.5 -8.4M1679.2 1264.6l-4.1 2.1M1768.5 1254.3l5.2 3.6M1777.2 1256l-3.4 1.9M1786.6 1257.4l-3.1 1.8M1777.2 1256l6.3 3.1M1768.5 1254.3l-3.4 1M1765.1 1255.3l-4.8 -2.5M1752.3 1252.7l4.5 1.9M1760.4 1252.9l-3.5 1.7M1751.6 1263.7l4.9 -1.5M1751.6 1263.7l-0.8 7.6M1750.8 1271.3l5.5 2.3M1756.4 1262.2l4.1 2.5M1760.5 1264.7l-1.7 7.7M1756.3 1273.6l2.6 -1.2M1747 1260.9l4.6 2.7M1756.8 1254.6l-0.4 7.6M1747.8 1272.6l3 -1.3M1764 1263.7l-3.5 0.9M1764 1263.7l1.1 -8.4M1758.8 1272.4l5.5 2.5M1800.5 1261.7l-5.9 -3.4M1800.5 1261.7l-1.6 6.9M1791.2 1267.4l4.3 2.3M1791.2 1267.4l0.7 -7.8M1791.9 1259.5l2.7 -1.2M1795.5 1269.7l3.4 -1.1M1803.2 1260.6l-2.7 1.1M1804.3 1271.6l-5.4 -3M1794.4 1277.5l1.1 -7.8M1786.4 1269l-0.9 6.3M1786.4 1269l4.8 -1.6M1786.6 1257.4l5.3 2.1M1786.4 1269l-4.3 -3.2M1783.5 1259.2l-1.4 6.6M1996.6 1254.6l-3.7 -2.6M2151.6 1254.6l6.5 -0.1M1983.5 1270.6l0.7 -7.4M1975.3 1263l4.4 -2.3M1979.7 1260.7l4.5 2.5M1992.8 1263.6l-4.1 -1.7M1984.2 1263.2l4.6 -1.3M1992.9 1252.1l-4.9 1.6M1988.7 1261.9l-0.7 -8.3M2100.6 1262.9l-5.9 0.5M2100.8 1262.6l-0.2 0.3M2094.6 1257.6l-0.3 0.4M2094.7 1263.4l-0.1 -0.1M2094.3 1257.9l0.3 5.4M2094.3 1257.9l-6.5 0.3M2081.4 1258.4l6.2 0.1M2087.8 1258.2l-0.2 0.3M2081.8 1264.4l6.1 -1.1M2088.2 1263.6l-0.3 -0.4M2081.4 1264l0.3 0.3M2087.7 1258.5l0.2 4.8M2075 1264.9l0.3 -0.4M2094.6 1263.3l-6.4 0.3M2050 1261.2l6.1 0M2056.4 1260.8l-0.3 0.4M2043.2 1262.1l-0.2 0.3M2043 1262.3l-7.5 0.3M2222.1 1252.9l-6 0.3M2222.2 1258.3l-0.2 0.3M2151.6 1254.6l-0.2 0.2M2151.4 1254.8l-5.9 -0.1M2139.2 1255.2l6 -0.1M2145.6 1254.7l-0.3 0.4M2158.3 1259.6l-0.1 0.1M2151.4 1254.8l0.2 5.3M2158.2 1259.8l-6.6 0.4M2145.6 1260.1l-0.3 -5.1M2145.6 1260.1l6 0.1M2151.6 1260.2l0 0M2190.3 1253.7l6.1 -0.1M2196.9 1252.9l-0.6 0.6M2177.4 1259.5l0.1 -0.2M2177.5 1259.3l6 0.1M2171 1259.5l6.4 -0.1M2177.4 1253.8l0 0M2177.4 1253.8l6.2 0.2M2183.9 1253.6l-0.3 0.4M2190.3 1253.7l-0.2 0.3M2190 1253.9l-6.1 -0.3M2171.1 1254.4l6.3 -0.6M2177.5 1259.3l-0.1 -5.5M2183.7 1259.2l-0.1 -5.2M2183.7 1259.2l-0.1 0.2M2548.3 1340.9l-3.9 -2.4M2544.4 1338.5l-4.8 1.5M2552.2 1339.9l-4 1M2545.1 1330.9l-0.7 7.5M2536 1338.1l3.6 1.9M2668.3 1323.8l-4.3 -1.5M2656.1 1342.1l-0.6 -8M2664.1 1333.8l-4.4 -2M2655.5 1334.1l4.3 -2.3M2664 1322.4l-4.7 2M2659.8 1331.9l-0.5 -7.5M2659.3 1324.4l-3.6 -1.6M2625.2 1333.3l0.9 -7.6M2625.2 1333.3l-4.3 2.4M2620.9 1335.7l-3.9 -2.1M2617 1333.6l0.1 -7.2M2617.1 1326.4l4.6 -2.7M2621.6 1323.8l4.5 2M2633.1 1326.3l0.9 7.3M2628.8 1324.7l-2.7 1M2631 1335.5l-5.8 -2.1M2621.8 1342.8l-0.9 -7.1M2612.6 1335.1l4.4 -1.4M2612.4 1324l4.6 2.4M2312.7 1266.2l-1.1 3.5M2305.3 1268l0.7 1.3M2311.6 1269.8l-5.6 -0.4M2331.3 1276.8l5.4 0.1M2337.8 1278.6l-1.1 -1.8M2338 1272.7l-1.3 4.1M2330.7 1275.4l0.7 1.3M2342.9 1278.7l-5.1 0M2427.6 1307.1l5.3 0.2M2433.6 1308.8l-0.7 -1.5M2426.4 1305l1.1 2.1M2434 1303.5l-1.1 3.8M2439.5 1309.5l-5.8 -0.7M2439.7 1303.9l0.9 1.8M2513 1327.7l-3.6 2.1M2513 1327.7l5.3 1.9M2509.5 1329.8l0 7.4M2518.3 1329.6l-0.5 8.6M2509.5 1337.1l4.4 2.7M2517.8 1338.2l-4 1.6M2517.6 1318.3l-4.4 1.9M2521.5 1328.5l-3.1 1.2M2513.2 1320.2l-0.1 7.6M2501.2 1329.6l4.2 -1.2M2505.4 1328.4l4.1 1.4M2504.9 1339.2l4.5 -2M2522.2 1340l-4.4 -1.7M2486.7 1327.7l-0.7 -4.8M2479 1322.5l7 0.5M2472.7 1320.5l5.5 0.3M2479 1322.5l-0.8 -1.6M2453.5 1315.3l5.4 -0.7M2459.9 1316.4l-1.1 -1.9M2472.9 1315.4l-1.1 3.6M2472.9 1315.4l-1.3 -2.3M2471.6 1313.1l-5.2 0.6M2471.8 1319l-5.9 -0.4M2466.5 1313.7l-1.1 3.7M2465.9 1318.6l-0.6 -1.2M2472.7 1320.5l-0.8 -1.6M2459.9 1316.4l5.4 0.9M2452 1312.7l1 -3.4M2446.8 1307.7l5.3 -0.2M2453 1309.3l-0.9 -1.8M2505.4 1328.4l-0.6 -8.5M2513.2 1320.2l-4 -2.4M2504.9 1319.8l4.3 -2M2496.4 1327l0 -5.7M2496.5 1321.3l4.4 -2.5M2504.9 1319.8l-4 -1M1667.1 1275.6l-1.6 -6.4M1675 1266.7l-3.9 -1.7M1665.4 1269.2l5.8 -4.2M1658.2 1278.1l-1.2 -8.5M1657 1269.6l4.2 -2.5M1665.4 1269.2l-4.2 -2.1M1649.2 1271l4 -2.2M1649.2 1271l-3.8 -1.9M1653.2 1268.8l-1.3 -8.3M1645.4 1269.1l-1.1 -6.5M1644.3 1262.5l4.7 -3.2M1649 1259.3l2.9 1.2M1657 1269.6l-3.8 -0.8M1649.5 1278.5l-0.3 -7.6M1640.1 1272.1l5.2 -3M1658.3 1258.8l-6.4 1.8M1658.3 1258.8l2.3 1M1661.2 1267.1l-0.5 -7.3M1639.3 1261.1l5 1.4M1675.8 1255.3l-6.3 3.6M1665.7 1257.3l3.8 1.6M1660.7 1259.8l5.1 -2.5M1678.3 1256.4l-2.5 -1.1M1671.2 1265l-1.6 -6.1M1777.2 1267.1l-4.5 -2.5M1777.2 1267.1l-0.4 8M1768 1273.1l5.6 3.7M1768 1273.1l1.1 -7.2M1769.1 1266l3.6 -1.4M1776.8 1275l-3.2 1.8M1773.8 1257.9l-1.1 6.7M1782.1 1265.8l-5 1.3M1782.5 1276.9l-5.7 -1.9M1764.3 1274.9l3.7 -1.8M1764 1263.7l5.1 2.2M1980.2 1254.3l4.4 -2.2M1980.2 1254.3l-4.8 -2.9M1979.7 1260.7l0.5 -6.4M1988 1253.6l-3.4 -1.5M1971.5 1253.1l3.9 -1.7M2049.7 1261.6l0.4 4.7M2056.1 1261.3l0.5 4.9M2056.6 1266.1l-0.6 0.8M2050.1 1266.4l5.8 0.6M2056.4 1260.8l5.9 -0.4M2062.5 1260.1l-0.2 0.3M2069 1259.5l-0.4 0.5M2062.5 1260.1l6 -0.2M2075 1264.9l-6 -0.1M2068.6 1260l0.5 4.8M2031.9 1264.1l3.5 -1.2M2031.9 1264.1l-3 4.2M2035.4 1262.8l3.2 4.9M2038.6 1267.8l-3.7 5.3M2034.9 1273l-5.5 -2.4M2028.8 1268.3l0.6 2.3M2027.7 1256.4l4.2 7.7M2035.6 1262.6l-0.2 0.2M2022.2 1265.4l6.6 3M2032.4 1282.6l8.1 -2.8M2026.6 1275.1l2.9 -4.5M2040.5 1279.8l-5.6 -6.7M2216.1 1253.1l-0.1 0.1M2209.6 1253.1l6.4 0.1M2222 1258.5l-5.9 -0.3M2216 1253.2l0.1 5M2241 1259.6l0.7 0.9M2247.8 1255.2l-0.5 4.2M2241.7 1260.5l5.6 -1.1M2254 1260.5l-5.4 0.5M2247.3 1259.4l1.3 1.6M2196.2 1259.3l-6 -0.6M2189.8 1259.1l0.3 -0.4M2196.4 1253.6l0.1 5.4M2190 1253.9l0.1 4.8M2196.5 1258.9l-0.4 0.4M2183.7 1259.2l6.1 -0.1M2647.2 1334.8l-4.6 -2.5M2647.2 1334.8l4.5 -2M2651.7 1332.8l-0.5 -7.6M2642.7 1332.3l-0.1 -6.4M2651.3 1325.1l-5.1 -1.4M2642.5 1325.9l3.6 -2.2M2647.5 1342.8l-0.3 -8M2638.6 1334.8l4.1 -2.5M2655.5 1334.1l-3.8 -1.3M2655.7 1322.7l-4.4 2.4M2638 1323.7l4.5 2.2M2312.5 1271.4l5.3 -0.1M2317.8 1271.3l1.2 2M2311.6 1269.8l0.9 1.7M2318.9 1267.7l-1.1 3.7M2324.3 1273l-5.4 0.4M2478.1 1320.9l1.1 -3.5M2472.9 1315.4l5 -0.1M2478 1315.2l1.2 2.2M2464.9 1311.1l-5.3 0.7M2459.6 1311.8l-1.2 -2.1M2458.9 1314.5l0.7 -2.7M2466.5 1313.7l-1.5 -2.6M2453 1309.3l5.4 0.4M2049.3 1267.4l-5.9 -0.2M2043.5 1267.1l-0.7 0.9M2050.1 1266.4l-0.8 1M2043 1262.3l0.4 4.8M2038.6 1267.8l4.2 0.3M2062.4 1266l0.4 -0.5M2062.8 1265.5l5.7 0M2056.6 1266.1l5.8 -0.2M2062.3 1260.5l0.5 5M2069 1264.8l-0.5 0.7M2209.4 1253.4l0.1 5.2M2209.4 1253.4l-6.1 -0.2M2209.5 1258.6l-6.7 0.3M2203.3 1253.2l-0.7 0.7M2202.7 1254l0.1 4.8M2202.8 1258.8l0 -0.1M2209.6 1253.1l-0.2 0.3M2196.9 1252.9l5.7 1M2196.5 1258.9l6.2 -0.1M2209.6 1258.7l6.3 -0.3M2216.1 1258.2l-0.2 0.2M2209.5 1258.6l0.1 0.1M2145.6 1260.1l-0.4 0.4M2119.9 1261.9l0.2 0.2M2139.2 1255.2l-0.1 0.1M2145.2 1260.6l-5.7 0M2139.2 1255.3l0.3 5.2M2139.2 1255.3l-6.3 0.4M2493 1318.9l-5.9 1.4M2487.2 1320.3l-2.1 -3.3M2496.5 1321.3l-3.4 -2.4M2479.2 1317.4l5.8 -0.4M2486 1322.9l1.1 -2.6M2132.9 1255.7l-0.1 0.1M2132.8 1255.8l-6.3 0.2M2120 1256l6.2 0.5M2120.1 1262.1l6.3 -0.9M2126.2 1256.5l0.2 4.7M2126.2 1256.5l0.4 -0.5M2126.4 1261.2l0.1 0.1M2138.9 1261.3l-5.8 -0.7M2132.5 1261.3l0.6 -0.7M2139.5 1260.5l-0.6 0.7M2132.8 1255.8l0.3 4.8M2126.5 1261.3l6 0" fill="none" stroke="#333" stroke-width="1.8" stroke-linecap="round"/>
<path d="M1499.5 1252.9L1511.5 1254L1523.5 1255.6L1535.5 1257.4L1547.5 1259.2L1559.5 1260.9L1571.5 1262.4L1583.5 1263.4L1595.5 1263.9L1607.5 1263.9L1619.5 1263.3L1631.5 1262.2L1643.5 1260.7L1655.5 1259L1667.5 1257.1L1679.5 1255.4L1691.5 1253.9L1703.5 1252.7L1715.5 1252.1L1727.5 1252L1739.5 1252.5L1751.5 1253.5L1763.5 1255L1775.5 1256.7L1787.5 1258.5L1799.5 1260.3L1811.5 1261.9L1823.5 1263.1L1835.5 1263.8L1847.5 1264L1859.5 1263.6L1871.5 1262.7L1883.5 1261.3L1895.5 1259.7L1907.5 1257.8L1919.5 1256L1931.5 1254.4L1943.5 1253.1L1955.5 1252.3L1967.5 1252L1979.5 1252.3L1991.5 1253.1L2003.5 1254.4L2015.5 1256L2027.5 1263.9L2039.5 1262.8L2051.5 1261.7L2063.5 1260.5L2075.5 1259.4L2087.5 1258.6L2099.5 1257.9L2111.5 1257.2L2123.5 1256.5L2135.5 1255.8L2147.5 1255.1L2159.5 1254.8L2171.5 1254.5L2183.5 1254.2L2195.5 1253.9L2207.5 1253.6L2219.5 1253.3L2231.5 1253.1L2243.5 1254.7L2255.5 1256.2L2267.5 1257.8L2279.5 1259.3L2291.5 1260.9L2303.5 1263L2315.5 1266.4L2327.5 1269.8L2339.5 1273.2L2351.5 1276.6L2363.5 1280.2L2375.5 1284.1L2387.5 1288L2399.5 1292L2411.5 1295.9L2423.5 1299.9L2435.5 1303.7L2447.5 1307.3L2459.5 1310.9L2471.5 1314.5L2483.5 1318.1L2495.5 1319L2507.5 1319.1L2519.5 1319.5L2531.5 1320.1L2543.5 1320.8L2555.5 1321.7L2567.5 1322.7L2579.5 1323.5L2591.5 1324.2L2603.5 1324.7L2615.5 1325L2627.5 1324.9L2639.5 1324.6L2651.5 1324.1L2663.5 1323.3L2675.5 1322.4L2687.5 1321.5L2699.5 1320.6L2711.5 1319.9L2723.5 1319.3L2735.5 1319" fill="none" stroke="#666" stroke-width="2"/>
<path d="M2026.7 1264C2036.4 1268.8 2037.9 1269.3 2059 1280C2080.1 1290.7 2069.1 1289.6 2097 1299.5C2124.9 1309.4 2119.3 1303.2 2152 1313C2184.7 1322.8 2176.7 1323 2206 1332C2235.3 1341 2220.2 1341.3 2249.6 1343C2279 1344.7 2270.9 1340.5 2304 1337.5C2337.1 1334.5 2327.4 1335.5 2360 1333C2392.6 1330.5 2380.5 1331.7 2412.6 1329C2444.7 1326.3 2442.9 1326.4 2467 1324C2491.1 1321.6 2485.2 1321.9 2493 1321" fill="none" stroke="#555" stroke-width="2"/>
<line x1="1499.5" y1="1188" x2="1499.5" y2="1616" stroke="#555" stroke-width="1.8" />
<line x1="2741.4" y1="1318" x2="2741.4" y2="1616" stroke="#777" stroke-width="1.8" />
<line x1="2048.5" y1="1270.7" x2="2227.8" y2="1270.7" stroke="#777" stroke-width="2" stroke-dasharray="24 8"/>
<line x1="2081.1" y1="1292.4" x2="2358.3" y2="1292.4" stroke="#777" stroke-width="2" stroke-dasharray="24 8"/>
<line x1="2119.1" y1="1313" x2="2162.6" y2="1313" stroke="#777" stroke-width="2" stroke-dasharray="24 8"/>
<line x1="2320.2" y1="1312" x2="2445.2" y2="1312" stroke="#777" stroke-width="2" stroke-dasharray="24 8"/>
<line x1="2162.6" y1="1327.2" x2="2461.5" y2="1327.2" stroke="#777" stroke-width="2" stroke-dasharray="24 8"/>
<path d="M2230.5 1254V1330" stroke="#555" stroke-width="2" stroke-dasharray="14 5 3 5" fill="none"/>
<ellipse cx="2094.7" cy="1283.2" rx="5" ry="6" fill="#bbb" stroke="#555" stroke-width="1.8"/><circle cx="2094.7" cy="1283.2" r="1.8" fill="#555"/>
<ellipse cx="2143.6" cy="1275" rx="5" ry="6" fill="#bbb" stroke="#555" stroke-width="1.8"/><circle cx="2143.6" cy="1275" r="1.8" fill="#555"/>
<ellipse cx="2207.7" cy="1290.2" rx="5" ry="6" fill="#bbb" stroke="#555" stroke-width="1.8"/><circle cx="2207.7" cy="1290.2" r="1.8" fill="#555"/>
<ellipse cx="2155.5" cy="1299.5" rx="5" ry="6" fill="#bbb" stroke="#555" stroke-width="1.8"/><circle cx="2155.5" cy="1299.5" r="1.8" fill="#555"/>
<ellipse cx="2207.7" cy="1323.9" rx="5" ry="6" fill="#bbb" stroke="#555" stroke-width="1.8"/><circle cx="2207.7" cy="1323.9" r="1.8" fill="#555"/>
<ellipse cx="2286.5" cy="1283.2" rx="5" ry="6" fill="#bbb" stroke="#555" stroke-width="1.8"/><circle cx="2286.5" cy="1283.2" r="1.8" fill="#555"/>
<ellipse cx="2339.2" cy="1295.7" rx="5" ry="6" fill="#bbb" stroke="#555" stroke-width="1.8"/><circle cx="2339.2" cy="1295.7" r="1.8" fill="#555"/>
<ellipse cx="2322.9" cy="1312" rx="5" ry="6" fill="#bbb" stroke="#555" stroke-width="1.8"/><circle cx="2322.9" cy="1312" r="1.8" fill="#555"/>
<ellipse cx="2286.5" cy="1323.9" rx="5" ry="6" fill="#bbb" stroke="#555" stroke-width="1.8"/><circle cx="2286.5" cy="1323.9" r="1.8" fill="#555"/>
<ellipse cx="2371.8" cy="1322.8" rx="5" ry="6" fill="#bbb" stroke="#555" stroke-width="1.8"/><circle cx="2371.8" cy="1322.8" r="1.8" fill="#555"/>
<ellipse cx="2437.1" cy="1319.6" rx="5" ry="6" fill="#bbb" stroke="#555" stroke-width="1.8"/><circle cx="2437.1" cy="1319.6" r="1.8" fill="#555"/>
<ellipse cx="2253.4" cy="1338.6" rx="5" ry="6" fill="#bbb" stroke="#555" stroke-width="1.8"/><circle cx="2253.4" cy="1338.6" r="1.8" fill="#555"/>
<line x1="2026.7" y1="1200" x2="2026.7" y2="1264" stroke="#3a3a3a" stroke-width="2" />
<line x1="2493" y1="1200" x2="2493" y2="1321" stroke="#3a3a3a" stroke-width="2" />
<line x1="2036" y1="1215" x2="2484" y2="1215" stroke="#3a3a3a" stroke-width="2" />
<polygon points="2028.5,1215 2038.5,1211.8 2038.5,1218.2" fill="#3a3a3a"/>
<polygon points="2491.5,1215 2481.5,1218.2 2481.5,1211.8" fill="#3a3a3a"/>
<line x1="2230.5" y1="1232.6" x2="2230.5" y2="1254" stroke="#3a3a3a" stroke-width="2" />
<line x1="2036" y1="1246.7" x2="2221" y2="1246.7" stroke="#3a3a3a" stroke-width="2" />
<polygon points="2028.5,1246.7 2038.5,1243.5 2038.5,1249.9" fill="#3a3a3a"/>
<polygon points="2228.5,1246.7 2218.5,1249.9 2218.5,1243.5" fill="#3a3a3a"/>
<line x1="1880" y1="1620" x2="1880" y2="1662" stroke="#3a3a3a" stroke-width="2" />
<line x1="2127.3" y1="1620" x2="2127.3" y2="1662" stroke="#3a3a3a" stroke-width="2" />
<line x1="1889" y1="1641.8" x2="2118" y2="1641.8" stroke="#3a3a3a" stroke-width="2" />
<polygon points="1881.5,1641.8 1891.5,1638.6 1891.5,1645" fill="#3a3a3a"/>
<polygon points="2125.5,1641.8 2115.5,1645 2115.5,1638.6" fill="#3a3a3a"/>
<line x1="1842" y1="1243" x2="1866" y2="1323" stroke="#555" stroke-width="1.8" />
<rect x="2098" y="1362" width="40" height="238" fill="#fff"/>
<rect x="2230" y="1362" width="42" height="232" fill="#fff"/>
<rect x="2676" y="1345" width="34" height="254" fill="#fff"/>
<rect x="2201" y="1292" width="112" height="27" fill="#fff"/>
<line x1="2715.5" y1="1601" x2="2715.5" y2="1360" stroke="#2a2a2a" stroke-width="2.6" />
<polygon points="2715.5,1347.5 2720.5,1362.5 2710.5,1362.5" fill="#2a2a2a"/>
<text x="1727.8" y="1237" font-size="34.5" fill="#1c1c1c" text-anchor="start" >Fusion line</text>
<text x="2203.4" y="1313" font-size="27.7" fill="#1c1c1c" text-anchor="start" >Melt pool</text>
<text x="2127" y="1595.7" font-size="34.5" fill="#1c1c1c" text-anchor="start" transform="rotate(-90 2127 1595.7)" >Columnar grains</text>
<text x="2260" y="1589" font-size="34.3" fill="#1c1c1c" text-anchor="start" transform="rotate(-90 2260 1589)" >Equiaxed grains</text>
<text x="2702.5" y="1596.7" font-size="34.2" fill="#1c1c1c" text-anchor="start" transform="rotate(-90 2702.5 1596.7)" >Building direction</text>
<text x="2260.4" y="1208.8" text-anchor="middle" fill="#1c1c1c"><tspan font-style="italic" font-size="27">D</tspan><tspan font-size="16.5" dy="3">MP</tspan><tspan dy="-3" font-size="1"> </tspan></text>
<text x="2124" y="1242" text-anchor="middle" fill="#1c1c1c"><tspan font-style="italic" font-size="27">D</tspan><tspan font-size="16.5" dy="3">OL</tspan><tspan dy="-3" font-size="1"> </tspan></text>
<text x="2001" y="1633.7" text-anchor="middle" fill="#1c1c1c"><tspan font-style="italic" font-size="27">S</tspan><tspan font-size="16.5" dy="3">IP</tspan><tspan dy="-3" font-size="1"> </tspan></text>
<text x="2013" y="1666.4" text-anchor="middle" fill="#1c1c1c"><tspan font-style="italic" font-size="27">D</tspan><tspan font-size="16.5" dy="3">MP</tspan><tspan dy="-3" font-size="1"> </tspan><tspan font-size="27">−</tspan><tspan font-style="italic" font-size="27">D</tspan><tspan font-size="16.5" dy="3">OL</tspan><tspan dy="-3" font-size="1"> </tspan></text>
<g clip-path="url(#cMb)"><rect x="2789" y="59.8" width="529.6" height="484.7" fill="#333"/>
<rect x="2709" y="-20.2" width="689.6" height="644.7" fill="#333" filter="url(#fMb)" transform="rotate(-7 3054 302)"/>
<path d="M3115 270L3230 260L3260 420L3130 440Z" fill="#2a2a2a" opacity="0.55" filter="url(#bl12)"/>
<path d="M2960 150L3060 140L3090 330L2990 340Z" fill="#2a2a2a" opacity="0.4" filter="url(#bl12)"/>
<path d="M2795 60H2875L2938.1 545H2858.1Z" fill="#fff" opacity="0.07" filter="url(#bl12)"/>
<path d="M2900 60H2965L3000.1 330H2935.1Z" fill="#fff" opacity="0.06" filter="url(#bl12)"/>
<path d="M3035 60H3105L3168.1 545H3098.1Z" fill="#fff" opacity="0.08" filter="url(#bl12)"/>
<path d="M3280 60H3320L3383.1 545H3343.1Z" fill="#fff" opacity="0.07" filter="url(#bl12)"/>
<path d="M3180 60H3260L3282.1 230H3202.1Z" fill="#fff" opacity="0.05" filter="url(#bl12)"/>
</g>
<text x="3174.5" y="511" font-size="54.5" fill="#f8f8f8" text-anchor="start" >5 mm</text>
<rect x="3170.6" y="525" width="134" height="9.8" fill="#fafafa"/>
<rect x="2721.3" y="617.3" width="565.4" height="498.4" fill="#444" filter="url(#fMc)"/>
<text x="3135" y="1083.4" font-size="54.5" fill="#f8f8f8" text-anchor="start" >5 mm</text>
<rect x="3134" y="1099" width="140" height="9" fill="#fafafa"/>
<g clip-path="url(#cMd)">
<rect x="2762" y="1190" width="552" height="473.7" fill="#333" filter="url(#fMd)"/>
<rect x="2760" y="1180" width="16" height="500" fill="#292929" opacity="0.6" filter="url(#bl3)"/>
<rect x="2823" y="1180" width="17" height="500" fill="#292929" opacity="0.45" filter="url(#bl3)"/>
<rect x="2914" y="1180" width="36" height="500" fill="#292929" opacity="0.7" filter="url(#bl3)"/>
<rect x="3040" y="1180" width="29" height="500" fill="#292929" opacity="0.7" filter="url(#bl3)"/>
<rect x="3130" y="1180" width="36" height="500" fill="#292929" opacity="0.8" filter="url(#bl3)"/>
<rect x="3220" y="1180" width="55" height="500" fill="#292929" opacity="0.7" filter="url(#bl3)"/>
</g>
<text x="3040" y="1515.8" font-size="41" fill="#f8f8f8" text-anchor="start" transform="rotate(-90 3040 1515.8)" >Columnar grains</text>
<text x="3205" y="1515.8" font-size="41" fill="#f8f8f8" text-anchor="start" transform="rotate(-90 3205 1515.8)" >Equiaxed grains</text>
<text x="2947" y="1600.5" font-size="53" fill="#f8f8f8" text-anchor="start" >S</text>
<text x="2977.5" y="1611.5" font-size="29.5" fill="#f8f8f8" text-anchor="start" >IP</text>
<line x1="2928" y1="1611" x2="2928" y2="1637.5" stroke="#eee" stroke-width="3" />
<line x1="3039.5" y1="1611" x2="3039.5" y2="1637.5" stroke="#eee" stroke-width="3" />
<line x1="2940" y1="1623.6" x2="3028" y2="1623.6" stroke="#eee" stroke-width="3" />
<polygon points="2931,1623.6 2942,1619.1 2942,1628.1" fill="#eee"/>
<polygon points="3036.5,1623.6 3025.5,1628.1 3025.5,1619.1" fill="#eee"/>
<text x="3174.5" y="1624.3" font-size="54.5" fill="#f8f8f8" text-anchor="start" >5 mm</text>
<rect x="3172.7" y="1645.6" width="131" height="8.6" fill="#fafafa"/>
</svg>
</body></html>
